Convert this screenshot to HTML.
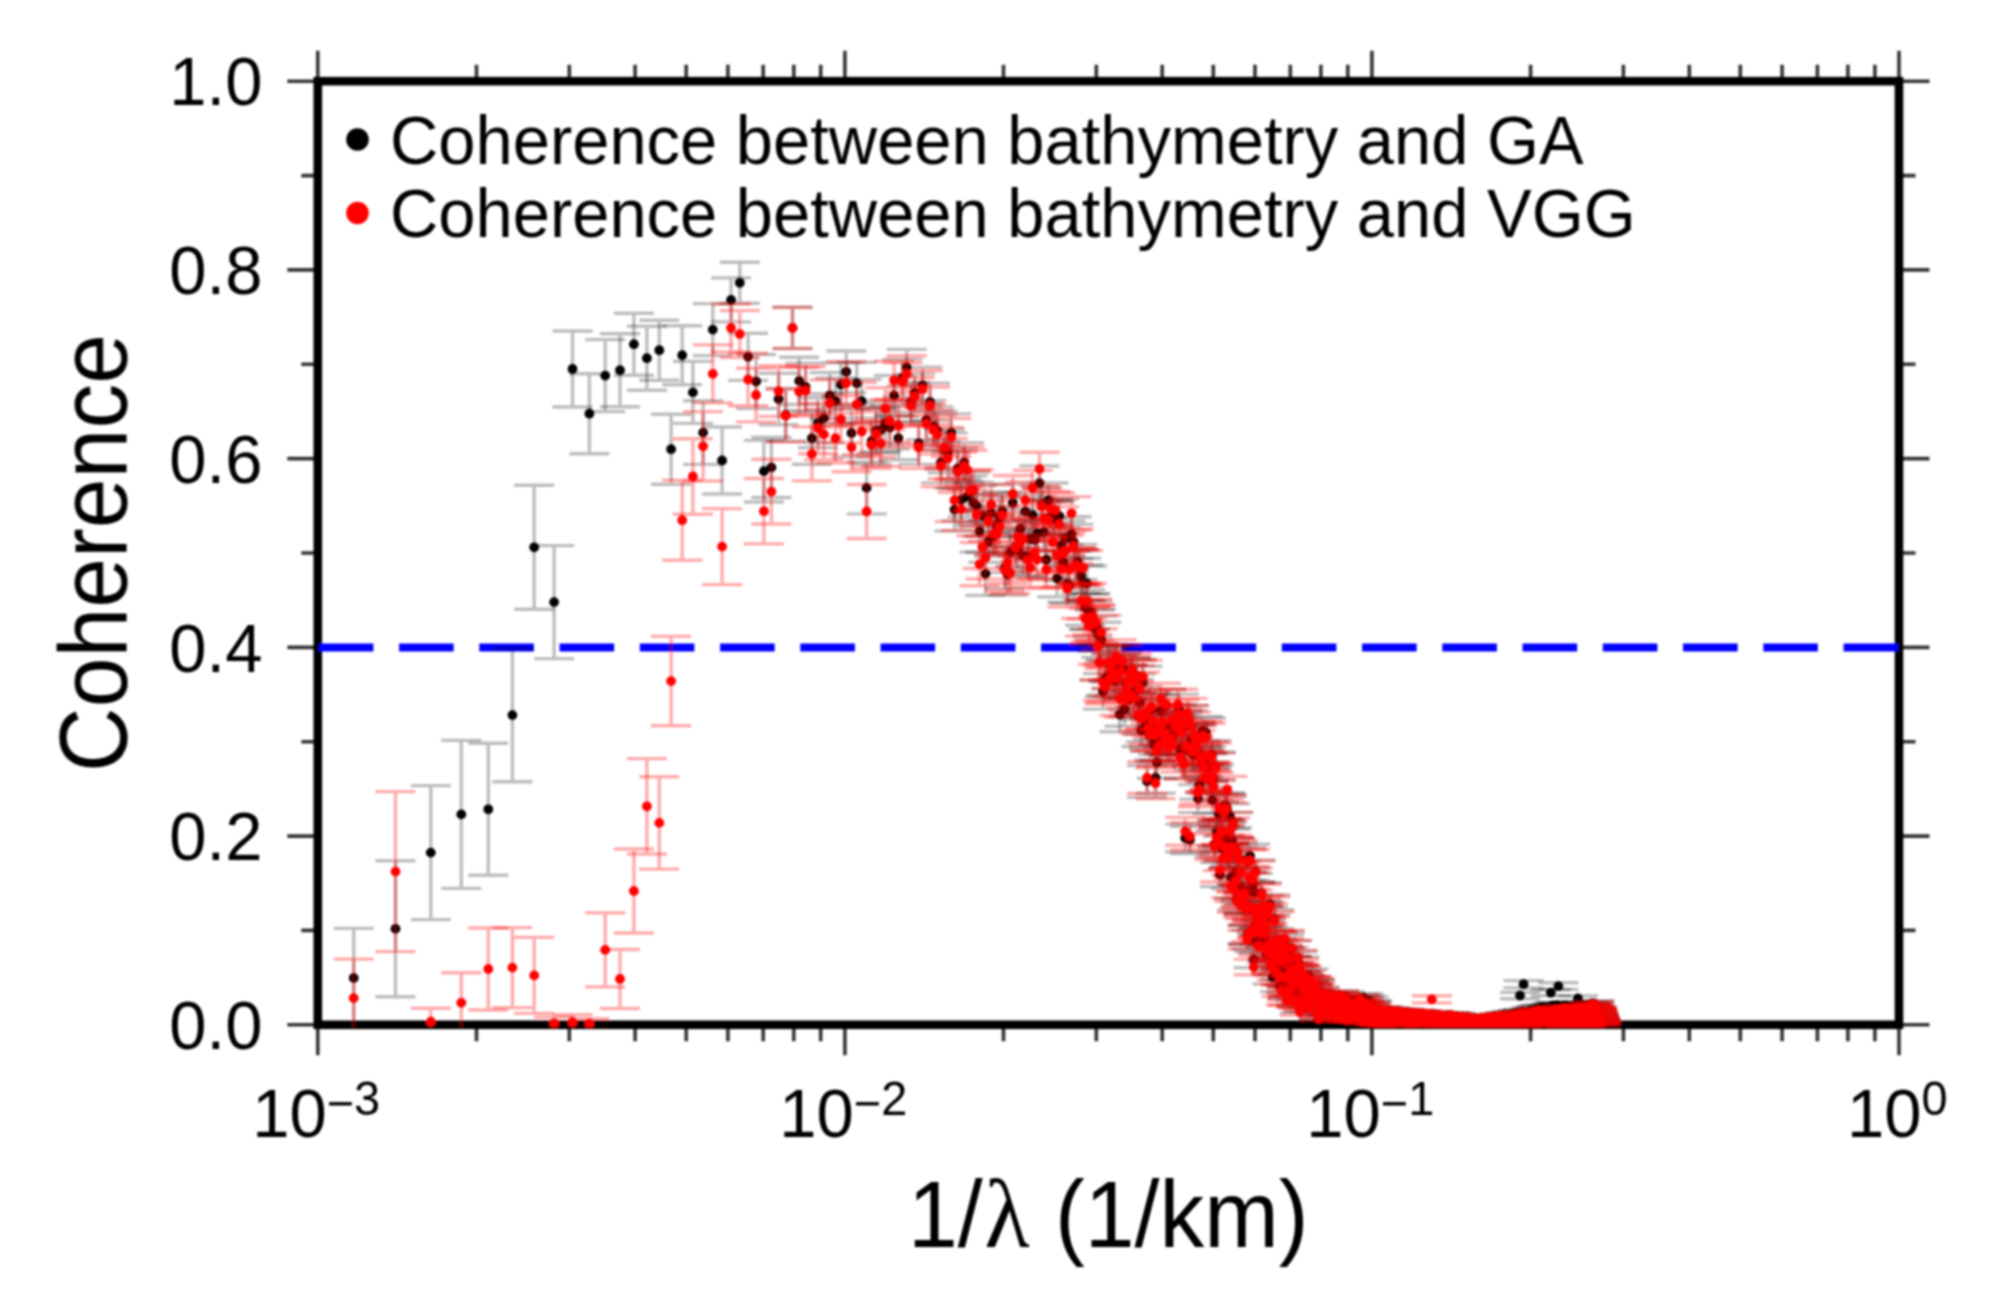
<!DOCTYPE html>
<html lang="en"><head><meta charset="utf-8"><title>Coherence between bathymetry and gravity</title>
<style>html,body{margin:0;padding:0;background:#fff}body{width:1990px;height:1294px;overflow:hidden}svg{display:block}</style>
</head><body>
<svg width="1990" height="1294" viewBox="0 0 1990 1294">
<defs><clipPath id="pc"><rect x="315.8" y="79.2" width="1585.2" height="948.2"/></clipPath><filter id="soft" x="0" y="0" width="100%" height="100%" filterUnits="userSpaceOnUse"><feGaussianBlur stdDeviation="1.1"/></filter></defs>
<rect width="1990" height="1294" fill="#fff"/>
<g filter="url(#soft)">
<path d="M317.8 1024.8v30.5M317.8 81.2v-30.5M476.5 1024.8v16.5M476.5 81.2v-16.5M569.3 1024.8v16.5M569.3 81.2v-16.5M635.1 1024.8v16.5M635.1 81.2v-16.5M686.2 1024.8v16.5M686.2 81.2v-16.5M727.9 1024.8v16.5M727.9 81.2v-16.5M763.2 1024.8v16.5M763.2 81.2v-16.5M793.8 1024.8v16.5M793.8 81.2v-16.5M820.7 1024.8v16.5M820.7 81.2v-16.5M844.9 1024.8v30.5M844.9 81.2v-30.5M1003.5 1024.8v16.5M1003.5 81.2v-16.5M1096.3 1024.8v16.5M1096.3 81.2v-16.5M1162.2 1024.8v16.5M1162.2 81.2v-16.5M1213.3 1024.8v16.5M1213.3 81.2v-16.5M1255 1024.8v16.5M1255 81.2v-16.5M1290.3 1024.8v16.5M1290.3 81.2v-16.5M1320.9 1024.8v16.5M1320.9 81.2v-16.5M1347.8 1024.8v16.5M1347.8 81.2v-16.5M1371.9 1024.8v30.5M1371.9 81.2v-30.5M1530.6 1024.8v16.5M1530.6 81.2v-16.5M1623.4 1024.8v16.5M1623.4 81.2v-16.5M1689.3 1024.8v16.5M1689.3 81.2v-16.5M1740.3 1024.8v16.5M1740.3 81.2v-16.5M1782.1 1024.8v16.5M1782.1 81.2v-16.5M1817.4 1024.8v16.5M1817.4 81.2v-16.5M1847.9 1024.8v16.5M1847.9 81.2v-16.5M1874.9 1024.8v16.5M1874.9 81.2v-16.5M1899 1024.8v30.5M1899 81.2v-30.5M317.8 1024.8h-30.5M1899 1024.8h30.5M317.8 930.4h-16.5M1899 930.4h16.5M317.8 836.1h-30.5M1899 836.1h30.5M317.8 741.7h-16.5M1899 741.7h16.5M317.8 647.4h-30.5M1899 647.4h30.5M317.8 553h-16.5M1899 553h16.5M317.8 458.6h-30.5M1899 458.6h30.5M317.8 364.3h-16.5M1899 364.3h16.5M317.8 269.9h-30.5M1899 269.9h30.5M317.8 175.6h-16.5M1899 175.6h16.5M317.8 81.2h-30.5M1899 81.2h30.5" fill="none" stroke="#000" stroke-opacity="0.8" stroke-width="3.6"/>
<rect x="317.8" y="81.2" width="1581.2" height="943.6" fill="none" stroke="#000" stroke-width="8.6"/>
<path d="M318.8 647.4H1898" fill="none" stroke="#0000ff" stroke-width="8" stroke-dasharray="54.6 25.65"/>
<g clip-path="url(#pc)" fill="none">
<g stroke="#000" stroke-opacity="0.26" stroke-width="3.4">
<path d="M395.5 860.8V996.8M375.5 860.8h40M375.5 996.8h40M554.1 545.6V658.6M534.1 545.6h40M534.1 658.6h40M646.9 326.2V390.2M626.9 326.2h40M626.9 390.2h40M712.8 303.6V355.6M692.8 303.6h40M692.8 355.6h40M763.9 440.4V502M743.9 440.4h40M743.9 502h40M805.6 363.3V410.6M785.6 363.3h40M785.6 410.6h40M840.9 362.8V406.3M820.9 362.8h40M820.9 406.3h40M871.5 418.1V464.2M851.5 418.1h40M851.5 464.2h40M898.4 416.6V459.8M878.4 416.6h40M878.4 459.8h40M922.5 367.2V403.7M902.5 367.2h40M902.5 403.7h40M944.4 429.2V469.2M924.4 429.2h40M924.4 469.2h40M964.3 442.8V482M944.3 442.8h40M944.3 482h40M982.6 495.5V536.3M962.6 495.5h40M962.6 536.3h40M999.6 497.5V536.9M979.6 497.5h40M979.6 536.9h40M1015.4 526.9V566.3M995.4 526.9h40M995.4 566.3h40M1030.1 520.1V557.9M1010.1 520.1h40M1010.1 557.9h40M1044 513.9V550.3M1024 513.9h40M1024 550.3h40M1057.1 559.8V596.9M1037.1 559.8h40M1037.1 596.9h40M1069.5 567.2V603.6M1049.5 567.2h40M1049.5 603.6h40M1081.2 558.2V593.3M1061.2 558.2h40M1061.2 593.3h40M1092.4 601.2V636.7M1072.4 601.2h40M1072.4 636.7h40M1103 673.5V709.1M1083 673.5h40M1083 709.1h40M1113.2 646.6V681.2M1093.2 646.6h40M1093.2 681.2h40M1122.9 651V684.9M1102.9 651h40M1102.9 684.9h40M1132.3 659.4V692.8M1112.3 659.4h40M1112.3 692.8h40M1141.3 713.8V746.5M1121.3 713.8h40M1121.3 746.5h40M1149.9 719.1V751.2M1129.9 719.1h40M1129.9 751.2h40M1158.2 722.8V754.3M1138.2 722.8h40M1138.2 754.3h40M1166.3 689.8V720.8M1146.3 689.8h40M1146.3 720.8h40M1174 717.6V748M1154 717.6h40M1154 748h40M1181.5 715.3V745.3M1161.5 715.3h40M1161.5 745.3h40M1188.8 705.5V735.1M1168.8 705.5h40M1168.8 735.1h40M1195.8 722.9V751.9M1175.8 722.9h40M1175.8 751.9h40M1202.7 716.5V745.2M1182.7 716.5h40M1182.7 745.2h40M1209.3 762.1V789.9M1189.3 762.1h40M1189.3 789.9h40M1215.7 752V779.5M1195.7 752h40M1195.7 779.5h40M1222 820.3V846M1202 820.3h40M1202 846h40M1228.1 842.9V867.5M1208.1 842.9h40M1208.1 867.5h40M1234.1 875.5V898.2M1214.1 875.5h40M1214.1 898.2h40M1239.9 879.5V901.7M1219.9 879.5h40M1219.9 901.7h40M1245.5 880.7V902.6M1225.5 880.7h40M1225.5 902.6h40M1251 930.4V948.8M1231 930.4h40M1231 948.8h40M1256.4 913.9V933.3M1236.4 913.9h40M1236.4 933.3h40M1261.7 882.8V903.9M1241.7 882.8h40M1241.7 903.9h40M1266.8 946.3V962.7M1246.8 946.3h40M1246.8 962.7h40M1271.9 942.2V958.8M1251.9 942.2h40M1251.9 958.8h40M1276.8 960.6V975.2M1256.8 960.6h40M1256.8 975.2h40M1281.6 961.4V975.8M1261.6 961.4h40M1261.6 975.8h40M1286.3 980.6V992.6M1266.3 980.6h40M1266.3 992.6h40M1290.9 956.3V970.9M1270.9 956.3h40M1270.9 970.9h40M1295.5 990.5V1000.9M1275.5 990.5h40M1275.5 1000.9h40M1299.9 1004.9V1012.6M1279.9 1004.9h40M1279.9 1012.6h40M1304.3 975.7V987.9M1284.3 975.7h40M1284.3 987.9h40M1308.6 969V981.9M1288.6 969h40M1288.6 981.9h40M1312.8 984.9V995.7M1292.8 984.9h40M1292.8 995.7h40M1316.9 993.3V1002.8M1296.9 993.3h40M1296.9 1002.8h40M1320.9 1003.7V1011.3M1300.9 1003.7h40M1300.9 1011.3h40M1324.9 994.1V1003.4M1304.9 994.1h40M1304.9 1003.4h40M1328.8 1002V1009.9M1308.8 1002h40M1308.8 1009.9h40M1332.7 995.4V1004.3M1312.7 995.4h40M1312.7 1004.3h40M1336.5 1017.9V1021.9M1316.5 1017.9h40M1316.5 1021.9h40M1340.2 1001.2V1009M1320.2 1001.2h40M1320.2 1009h40M1343.8 1003.7V1011M1323.8 1003.7h40M1323.8 1011h40M1347.4 1022.7V1024.6M1327.4 1022.7h40M1327.4 1024.6h40M1351 1003.2V1010.5M1331 1003.2h40M1331 1010.5h40M1354.5 1005V1011.9M1334.5 1005h40M1334.5 1011.9h40M1357.9 1008.7V1014.8M1337.9 1008.7h40M1337.9 1014.8h40M1361.3 1000.1V1007.8M1341.3 1000.1h40M1341.3 1007.8h40M1364.7 1007.4V1013.7M1344.7 1007.4h40M1344.7 1013.7h40M1368 1007.7V1013.9M1348 1007.7h40M1348 1013.9h40M1371.2 1001.2V1008.6M1351.2 1001.2h40M1351.2 1008.6h40M1374.4 1017.1V1021.1M1354.4 1017.1h40M1354.4 1021.1h40M1377.6 1023.5V1024.8M1357.6 1023.5h40M1357.6 1024.8h40M1380.7 1006.6V1012.9M1360.7 1006.6h40M1360.7 1012.9h40M1383.8 1023.2V1024.7M1363.8 1023.2h40M1363.8 1024.7h40M1386.8 1007.9V1013.9M1366.8 1007.9h40M1366.8 1013.9h40M1389.8 1008.2V1014.1M1369.8 1008.2h40M1369.8 1014.1h40M1392.7 1012.6V1017.5M1372.7 1012.6h40M1372.7 1017.5h40M1395.6 1023.7V1024.8M1375.6 1023.7h40M1375.6 1024.8h40M1398.5 1019.4V1022.5M1378.5 1019.4h40M1378.5 1022.5h40M1401.4 1012.2V1017.1M1381.4 1012.2h40M1381.4 1017.1h40M1404.2 1011.8V1016.8M1384.2 1011.8h40M1384.2 1016.8h40M1407 1014.3V1018.7M1387 1014.3h40M1387 1018.7h40M1409.7 1023V1024.5M1389.7 1023h40M1389.7 1024.5h40M1412.4 1010.3V1015.5M1392.4 1010.3h40M1392.4 1015.5h40M1415.1 1016.1V1020M1395.1 1016.1h40M1395.1 1020h40M1417.7 1023.8V1024.9M1397.7 1023.8h40M1397.7 1024.9h40M1420.3 1023V1024.5M1400.3 1023h40M1400.3 1024.5h40M1422.9 1017.3V1020.9M1402.9 1017.3h40M1402.9 1020.9h40M1425.5 1013.6V1018M1405.5 1013.6h40M1405.5 1018h40M1428 1015.1V1019.2M1408 1015.1h40M1408 1019.2h40M1430.5 1015.5V1019.5M1410.5 1015.5h40M1410.5 1019.5h40M1433 1019V1022M1413 1019h40M1413 1022h40M1435.4 1016.8V1020.4M1415.4 1016.8h40M1415.4 1020.4h40M1437.9 1017.5V1020.9M1417.9 1017.5h40M1417.9 1020.9h40M1440.3 1018.4V1021.5M1420.3 1018.4h40M1420.3 1021.5h40M1442.6 1017.8V1021.1M1422.6 1017.8h40M1422.6 1021.1h40M1445 1013.9V1018.1M1425 1013.9h40M1425 1018.1h40M1447.3 1016.7V1020.2M1427.3 1016.7h40M1427.3 1020.2h40M1449.6 1014.1V1018.2M1429.6 1014.1h40M1429.6 1018.2h40M1451.9 1014.4V1018.4M1431.9 1014.4h40M1431.9 1018.4h40M1454.1 1023.9V1024.8M1434.1 1023.9h40M1434.1 1024.8h40M1456.4 1015.4V1019.2M1436.4 1015.4h40M1436.4 1019.2h40M1458.6 1020.5V1022.9M1438.6 1020.5h40M1438.6 1022.9h40M1460.8 1015.6V1019.3M1440.8 1015.6h40M1440.8 1019.3h40M1462.9 1021.8V1023.7M1442.9 1021.8h40M1442.9 1023.7h40M1465.1 1021V1023.2M1445.1 1021h40M1445.1 1023.2h40M1467.2 1021.3V1023.4M1447.2 1021.3h40M1447.2 1023.4h40M1469.3 1024.3V1024.9M1449.3 1024.3h40M1449.3 1024.9h40M1471.4 1023.9V1024.8M1451.4 1023.9h40M1451.4 1024.8h40M1473.5 1020.9V1023.1M1453.5 1020.9h40M1453.5 1023.1h40M1475.5 1018.1V1021.2M1455.5 1018.1h40M1455.5 1021.2h40M1477.6 1019.6V1022.2M1457.6 1019.6h40M1457.6 1022.2h40M1479.6 1017.8V1020.9M1459.6 1017.8h40M1459.6 1020.9h40M1481.6 1024.2V1024.9M1461.6 1024.2h40M1461.6 1024.9h40M1483.6 1024.2V1024.9M1463.6 1024.2h40M1463.6 1024.9h40M1485.5 1018.8V1021.6M1465.5 1018.8h40M1465.5 1021.6h40M1487.5 1018.4V1021.3M1467.5 1018.4h40M1467.5 1021.3h40M1489.4 1024V1024.8M1469.4 1024h40M1469.4 1024.8h40M1491.3 1022V1023.8M1471.3 1022h40M1471.3 1023.8h40M1493.2 1021.9V1023.7M1473.2 1021.9h40M1473.2 1023.7h40M1495.1 1016.8V1020M1475.1 1016.8h40M1475.1 1020h40M1497 1024.1V1024.8M1477 1024.1h40M1477 1024.8h40M1498.8 1018.1V1021M1478.8 1018.1h40M1478.8 1021h40M1500.7 1018.7V1021.5M1480.7 1018.7h40M1480.7 1021.5h40M1502.5 1021.3V1023.3M1482.5 1021.3h40M1482.5 1023.3h40M1504.3 1021.4V1023.3M1484.3 1021.4h40M1484.3 1023.3h40M1506.1 1016.3V1019.6M1486.1 1016.3h40M1486.1 1019.6h40M1507.9 1012.8V1016.7M1487.9 1012.8h40M1487.9 1016.7h40M1509.7 1017.6V1020.6M1489.7 1017.6h40M1489.7 1020.6h40M1511.4 1019.1V1021.7M1491.4 1019.1h40M1491.4 1021.7h40M1513.2 1023.7V1024.6M1493.2 1023.7h40M1493.2 1024.6h40M1514.9 1014.8V1018.3M1494.9 1014.8h40M1494.9 1018.3h40M1516.6 1010.9V1015.1M1496.6 1010.9h40M1496.6 1015.1h40M1518.3 1018.9V1021.5M1498.3 1018.9h40M1498.3 1021.5h40M1520 992.4V998.7M1500 992.4h40M1500 998.7h40M1521.7 1015.5V1018.8M1501.7 1015.5h40M1501.7 1018.8h40M1523.3 1019.3V1021.7M1503.3 1019.3h40M1503.3 1021.7h40M1525 1022.4V1023.9M1505 1022.4h40M1505 1023.9h40M1526.6 1014.8V1018.2M1506.6 1014.8h40M1506.6 1018.2h40M1528.3 1011.8V1015.7M1508.3 1011.8h40M1508.3 1015.7h40M1529.9 1012.9V1016.7M1509.9 1012.9h40M1509.9 1016.7h40M1531.5 1022.3V1023.9M1511.5 1022.3h40M1511.5 1023.9h40M1533.1 1010.9V1014.9M1513.1 1010.9h40M1513.1 1014.9h40M1534.7 1012.3V1016.1M1514.7 1012.3h40M1514.7 1016.1h40M1536.2 1016.1V1019.2M1516.2 1016.1h40M1516.2 1019.2h40M1537.8 1023.7V1024.6M1517.8 1023.7h40M1517.8 1024.6h40M1539.3 1016.8V1019.7M1519.3 1016.8h40M1519.3 1019.7h40M1540.9 1016.1V1019.2M1520.9 1016.1h40M1520.9 1019.2h40M1542.4 1023.6V1024.6M1522.4 1023.6h40M1522.4 1024.6h40M1543.9 1015.2V1018.5M1523.9 1015.2h40M1523.9 1018.5h40M1545.4 1019.8V1022M1525.4 1019.8h40M1525.4 1022h40M1547 1008.9V1013.1M1527 1008.9h40M1527 1013.1h40M1548.4 1017.5V1020.2M1528.4 1017.5h40M1528.4 1020.2h40M1549.9 1017.6V1020.3M1529.9 1017.6h40M1529.9 1020.3h40M1551.4 1017.4V1020.2M1531.4 1017.4h40M1531.4 1020.2h40M1552.9 1021.4V1023.2M1532.9 1021.4h40M1532.9 1023.2h40M1554.3 1018.4V1021M1534.3 1018.4h40M1534.3 1021h40M1555.8 1008.9V1013M1535.8 1008.9h40M1535.8 1013h40M1557.2 1023.5V1024.5M1537.2 1023.5h40M1537.2 1024.5h40M1558.6 1019.1V1021.5M1538.6 1019.1h40M1538.6 1021.5h40M1560 1017.3V1020.1M1540 1017.3h40M1540 1020.1h40M1561.4 1016.2V1019.1M1541.4 1016.2h40M1541.4 1019.1h40M1562.8 1005.1V1009.6M1542.8 1005.1h40M1542.8 1009.6h40M1564.2 1008.1V1012.3M1544.2 1008.1h40M1544.2 1012.3h40M1565.6 1007.7V1011.9M1545.6 1007.7h40M1545.6 1011.9h40M1567 1014.6V1017.8M1547 1014.6h40M1547 1017.8h40M1568.4 1014.8V1018M1548.4 1014.8h40M1548.4 1018h40M1569.7 1023.5V1024.5M1549.7 1023.5h40M1549.7 1024.5h40M1571.1 1015V1018.1M1551.1 1015h40M1551.1 1018.1h40M1572.4 1014V1017.2M1552.4 1014h40M1552.4 1017.2h40M1573.7 1005.3V1009.7M1553.7 1005.3h40M1553.7 1009.7h40M1575.1 1016.4V1019.2M1555.1 1016.4h40M1555.1 1019.2h40M1576.4 1023.6V1024.5M1556.4 1023.6h40M1556.4 1024.5h40M1577.7 1009.6V1013.4M1557.7 1009.6h40M1557.7 1013.4h40M1579 1007.4V1011.5M1559 1007.4h40M1559 1011.5h40M1580.3 1021.6V1023.3M1560.3 1021.6h40M1560.3 1023.3h40M1581.6 1003.3V1007.9M1561.6 1003.3h40M1561.6 1007.9h40M1582.9 1014.1V1017.3M1562.9 1014.1h40M1562.9 1017.3h40M1584.2 1018.1V1020.5M1564.2 1018.1h40M1564.2 1020.5h40M1585.4 1020.7V1022.6M1565.4 1020.7h40M1565.4 1022.6h40M1586.7 1014.5V1017.6M1566.7 1014.5h40M1566.7 1017.6h40M1587.9 1013.2V1016.5M1567.9 1013.2h40M1567.9 1016.5h40M1589.2 1010.3V1014M1569.2 1010.3h40M1569.2 1014h40M1590.4 1006.2V1010.3M1570.4 1006.2h40M1570.4 1010.3h40M1591.7 1014.1V1017.2M1571.7 1014.1h40M1571.7 1017.2h40M1592.9 1023.4V1024.4M1572.9 1023.4h40M1572.9 1024.4h40M1594.1 1012.2V1015.5M1574.1 1012.2h40M1574.1 1015.5h40M1595.3 1019.2V1021.4M1575.3 1019.2h40M1575.3 1021.4h40M1596.5 1023.7V1024.5M1576.5 1023.7h40M1576.5 1024.5h40M1597.7 1020.7V1022.5M1577.7 1020.7h40M1577.7 1022.5h40M1598.9 1015.5V1018.4M1578.9 1015.5h40M1578.9 1018.4h40M1600.1 1018.4V1020.7M1580.1 1018.4h40M1580.1 1020.7h40"/>
<path d="M430.8 785.6V919.6M410.8 785.6h40M410.8 919.6h40M572.5 331V407M552.5 331h40M552.5 407h40M659.3 320.2V380.2M639.3 320.2h40M639.3 380.2h40M722.1 427V494M702.1 427h40M702.1 494h40M771.4 437.3V497.5M751.4 437.3h40M751.4 497.5h40M811.9 412.1V464.3M791.9 412.1h40M791.9 464.3h40M846.3 351V392.6M826.3 351h40M826.3 392.6h40M876.2 408.3V453M856.2 408.3h40M856.2 453h40M902.6 359.3V396.7M882.6 359.3h40M882.6 396.7h40M926.3 400.5V439.6M906.3 400.5h40M906.3 439.6h40M947.8 433V472.9M927.8 433h40M927.8 472.9h40M967.4 475.9V517M947.4 475.9h40M947.4 517h40M985.5 552.2V595.4M965.5 552.2h40M965.5 595.4h40M1002.3 492V530.9M982.3 492h40M982.3 530.9h40M1017.9 530.3V569.6M997.9 530.3h40M997.9 569.6h40M1032.5 496.8V533.3M1012.5 496.8h40M1012.5 533.3h40M1046.2 541V578.4M1026.2 541h40M1026.2 578.4h40M1059.2 498.9V533.4M1039.2 498.9h40M1039.2 533.4h40M1071.5 516.7V551M1051.5 516.7h40M1051.5 551h40M1083.1 565V600.3M1063.1 565h40M1063.1 600.3h40M1094.2 610V645.5M1074.2 610h40M1074.2 645.5h40M1104.7 661.6V697M1084.7 661.6h40M1084.7 697h40M1114.8 663.1V697.8M1094.8 663.1h40M1094.8 697.8h40M1124.5 692.2V726.2M1104.5 692.2h40M1104.5 726.2h40M1133.8 679.6V712.9M1113.8 679.6h40M1113.8 712.9h40M1142.7 666.2V698.9M1122.7 666.2h40M1122.7 698.9h40M1151.3 693.7V725.8M1131.3 693.7h40M1131.3 725.8h40M1159.6 728.9V760.2M1139.6 728.9h40M1139.6 760.2h40M1167.6 729.2V760M1147.6 729.2h40M1147.6 760h40M1175.3 715.5V745.9M1155.3 715.5h40M1155.3 745.9h40M1182.7 711.7V741.7M1162.7 711.7h40M1162.7 741.7h40M1190 826.2V853.5M1170 826.2h40M1170 853.5h40M1197 723.3V752.3M1177 723.3h40M1177 752.3h40M1203.8 749.5V777.8M1183.8 749.5h40M1183.8 777.8h40M1210.4 766.7V794.3M1190.4 766.7h40M1190.4 794.3h40M1216.8 819.6V845.6M1196.8 819.6h40M1196.8 845.6h40M1223 836.2V861.2M1203 836.2h40M1203 861.2h40M1229.1 843.9V868.3M1209.1 843.9h40M1209.1 868.3h40M1235 837.8V862.1M1215 837.8h40M1215 862.1h40M1240.8 876.5V898.8M1220.8 876.5h40M1220.8 898.8h40M1246.4 847.9V871.3M1226.4 847.9h40M1226.4 871.3h40M1251.9 899.1V919.7M1231.9 899.1h40M1231.9 919.7h40M1257.3 909.1V928.8M1237.3 909.1h40M1237.3 928.8h40M1262.5 916.5V935.5M1242.5 916.5h40M1242.5 935.5h40M1267.7 906.9V926.3M1247.7 906.9h40M1247.7 926.3h40M1272.7 970.4V984M1252.7 970.4h40M1252.7 984h40M1277.6 931.5V948.8M1257.6 931.5h40M1257.6 948.8h40M1282.4 945.3V961.2M1262.4 945.3h40M1262.4 961.2h40M1287.1 986.6V997.7M1267.1 986.6h40M1267.1 997.7h40M1291.7 940.4V956.4M1271.7 940.4h40M1271.7 956.4h40M1296.2 995.2V1004.8M1276.2 995.2h40M1276.2 1004.8h40M1300.7 983.2V994.5M1280.7 983.2h40M1280.7 994.5h40M1305 982.6V993.8M1285 982.6h40M1285 993.8h40M1309.3 998.4V1007.2M1289.3 998.4h40M1289.3 1007.2h40M1313.5 989.2V999.4M1293.5 989.2h40M1293.5 999.4h40M1317.6 991V1000.8M1297.6 991h40M1297.6 1000.8h40M1321.6 1006.2V1013.3M1301.6 1006.2h40M1301.6 1013.3h40M1325.6 1002.1V1010M1305.6 1002.1h40M1305.6 1010h40M1329.5 1006.2V1013.2M1309.5 1006.2h40M1309.5 1013.2h40M1333.3 996.9V1005.6M1313.3 996.9h40M1313.3 1005.6h40M1337.1 1011.7V1017.5M1317.1 1011.7h40M1317.1 1017.5h40M1340.8 1018.9V1022.5M1320.8 1018.9h40M1320.8 1022.5h40M1344.4 1011.6V1017.3M1324.4 1011.6h40M1324.4 1017.3h40M1348 1000.6V1008.4M1328 1000.6h40M1328 1008.4h40M1351.6 1008.1V1014.4M1331.6 1008.1h40M1331.6 1014.4h40M1355.1 1002.7V1010M1335.1 1002.7h40M1335.1 1010h40M1358.5 1004.1V1011.2M1338.5 1004.1h40M1338.5 1011.2h40M1361.9 1004.6V1011.5M1341.9 1004.6h40M1341.9 1011.5h40M1365.2 1009.2V1015.2M1345.2 1009.2h40M1345.2 1015.2h40M1368.5 996.8V1004.9M1348.5 996.8h40M1348.5 1004.9h40M1371.7 1008V1014.1M1351.7 1008h40M1351.7 1014.1h40M1374.9 1023.4V1024.8M1354.9 1023.4h40M1354.9 1024.8h40M1378.1 1017.2V1021.1M1358.1 1017.2h40M1358.1 1021.1h40M1381.2 1023.1V1024.7M1361.2 1023.1h40M1361.2 1024.7h40M1384.3 1014.2V1018.8M1364.3 1014.2h40M1364.3 1018.8h40M1387.3 1019.4V1022.6M1367.3 1019.4h40M1367.3 1022.6h40M1390.3 1020V1022.9M1370.3 1020h40M1370.3 1022.9h40M1393.2 1016.2V1020.3M1373.2 1016.2h40M1373.2 1020.3h40M1396.1 1013.4V1018.1M1376.1 1013.4h40M1376.1 1018.1h40M1399 1009.6V1015.1M1379 1009.6h40M1379 1015.1h40M1401.8 1019.5V1022.6M1381.8 1019.5h40M1381.8 1022.6h40M1404.6 1016.4V1020.3M1384.6 1016.4h40M1384.6 1020.3h40M1407.4 1018.8V1022M1387.4 1018.8h40M1387.4 1022h40M1410.1 1017.1V1020.8M1390.1 1017.1h40M1390.1 1020.8h40M1412.9 1015.5V1019.6M1392.9 1015.5h40M1392.9 1019.6h40M1415.5 1010.7V1015.8M1395.5 1010.7h40M1395.5 1015.8h40M1418.2 1016.8V1020.5M1398.2 1016.8h40M1398.2 1020.5h40M1420.8 1011.5V1016.4M1400.8 1011.5h40M1400.8 1016.4h40M1423.4 1012.6V1017.3M1403.4 1012.6h40M1403.4 1017.3h40M1425.9 1023.9V1024.9M1405.9 1023.9h40M1405.9 1024.9h40M1428.4 1023.9V1024.9M1408.4 1023.9h40M1408.4 1024.9h40M1430.9 1016.7V1020.3M1410.9 1016.7h40M1410.9 1020.3h40M1433.4 1017.8V1021.2M1413.4 1017.8h40M1413.4 1021.2h40M1435.8 1023.9V1024.9M1415.8 1023.9h40M1415.8 1024.9h40M1438.3 1016.5V1020.2M1418.3 1016.5h40M1418.3 1020.2h40M1440.7 1019.7V1022.5M1420.7 1019.7h40M1420.7 1022.5h40M1443 1020.4V1022.9M1423 1020.4h40M1423 1022.9h40M1445.4 1023.3V1024.6M1425.4 1023.3h40M1425.4 1024.6h40M1447.7 1018.6V1021.7M1427.7 1018.6h40M1427.7 1021.7h40M1450 1022.7V1024.3M1430 1022.7h40M1430 1024.3h40M1452.3 1019.1V1022M1432.3 1019.1h40M1432.3 1022h40M1454.5 1021V1023.3M1434.5 1021h40M1434.5 1023.3h40M1456.7 1020.7V1023.1M1436.7 1020.7h40M1436.7 1023.1h40M1458.9 1024.1V1024.9M1438.9 1024.1h40M1438.9 1024.9h40M1461.1 1016.3V1019.8M1441.1 1016.3h40M1441.1 1019.8h40M1463.3 1022.5V1024.2M1443.3 1022.5h40M1443.3 1024.2h40M1465.4 1019.4V1022.1M1445.4 1019.4h40M1445.4 1022.1h40M1467.6 1018V1021.1M1447.6 1018h40M1447.6 1021.1h40M1469.7 1021.5V1023.5M1449.7 1021.5h40M1449.7 1023.5h40M1471.8 1023.6V1024.7M1451.8 1023.6h40M1451.8 1024.7h40M1473.8 1024.2V1024.9M1453.8 1024.2h40M1453.8 1024.9h40M1475.9 1022V1023.8M1455.9 1022h40M1455.9 1023.8h40M1477.9 1018.9V1021.7M1457.9 1018.9h40M1457.9 1021.7h40M1479.9 1018.3V1021.2M1459.9 1018.3h40M1459.9 1021.2h40M1481.9 1022.1V1023.9M1461.9 1022.1h40M1461.9 1023.9h40M1483.9 1021.3V1023.4M1463.9 1021.3h40M1463.9 1023.4h40M1485.9 1022.2V1023.9M1465.9 1022.2h40M1465.9 1023.9h40M1487.8 1017.9V1020.9M1467.8 1017.9h40M1467.8 1020.9h40M1489.7 1024.1V1024.8M1469.7 1024.1h40M1469.7 1024.8h40M1491.7 1016.1V1019.5M1471.7 1016.1h40M1471.7 1019.5h40M1493.6 1022.7V1024.2M1473.6 1022.7h40M1473.6 1024.2h40M1495.4 1014.6V1018.3M1475.4 1014.6h40M1475.4 1018.3h40M1497.3 1021.7V1023.6M1477.3 1021.7h40M1477.3 1023.6h40M1499.2 1014.1V1017.8M1479.2 1014.1h40M1479.2 1017.8h40M1501 1015.1V1018.7M1481 1015.1h40M1481 1018.7h40M1502.8 1016.4V1019.6M1482.8 1016.4h40M1482.8 1019.6h40M1504.6 1024V1024.8M1484.6 1024h40M1484.6 1024.8h40M1506.4 1019.3V1021.9M1486.4 1019.3h40M1486.4 1021.9h40M1508.2 1021.1V1023.2M1488.2 1021.1h40M1488.2 1023.2h40M1510 1018.4V1021.2M1490 1018.4h40M1490 1021.2h40M1511.7 1014.1V1017.8M1491.7 1014.1h40M1491.7 1017.8h40M1513.4 1020.4V1022.6M1493.4 1020.4h40M1493.4 1022.6h40M1515.2 1016.4V1019.5M1495.2 1016.4h40M1495.2 1019.5h40M1516.9 1021.4V1023.3M1496.9 1021.4h40M1496.9 1023.3h40M1518.6 1010.6V1014.7M1498.6 1010.6h40M1498.6 1014.7h40M1520.3 1015.1V1018.5M1500.3 1015.1h40M1500.3 1018.5h40M1521.9 1009.9V1014.2M1501.9 1009.9h40M1501.9 1014.2h40M1523.6 980.6V987.9M1503.6 980.6h40M1503.6 987.9h40M1525.3 1019V1021.6M1505.3 1019h40M1505.3 1021.6h40M1526.9 1011V1015.1M1506.9 1011h40M1506.9 1015.1h40M1528.5 1015.9V1019.1M1508.5 1015.9h40M1508.5 1019.1h40M1530.1 1014.5V1018M1510.1 1014.5h40M1510.1 1018h40M1531.7 1015V1018.4M1511.7 1015h40M1511.7 1018.4h40M1533.3 1018.4V1021M1513.3 1018.4h40M1513.3 1021h40M1534.9 1009.7V1013.9M1514.9 1009.7h40M1514.9 1013.9h40M1536.5 1010.2V1014.3M1516.5 1010.2h40M1516.5 1014.3h40M1538.1 1009.4V1013.6M1518.1 1009.4h40M1518.1 1013.6h40M1539.6 1010V1014.1M1519.6 1010h40M1519.6 1014.1h40M1541.1 1015.2V1018.4M1521.1 1015.2h40M1521.1 1018.4h40M1542.7 1008.3V1012.6M1522.7 1008.3h40M1522.7 1012.6h40M1544.2 1014V1017.5M1524.2 1014h40M1524.2 1017.5h40M1545.7 1017V1019.8M1525.7 1017h40M1525.7 1019.8h40M1547.2 1013.9V1017.3M1527.2 1013.9h40M1527.2 1017.3h40M1548.7 1018.4V1021M1528.7 1018.4h40M1528.7 1021h40M1550.2 1020.8V1022.8M1530.2 1020.8h40M1530.2 1022.8h40M1551.6 1010.6V1014.5M1531.6 1010.6h40M1531.6 1014.5h40M1553.1 1020.5V1022.6M1533.1 1020.5h40M1533.1 1022.6h40M1554.6 1010.2V1014.2M1534.6 1010.2h40M1534.6 1014.2h40M1556 1019V1021.4M1536 1019h40M1536 1021.4h40M1557.4 1014.1V1017.4M1537.4 1014.1h40M1537.4 1017.4h40M1558.9 1013.1V1016.6M1538.9 1013.1h40M1538.9 1016.6h40M1560.3 1004.8V1009.4M1540.3 1004.8h40M1540.3 1009.4h40M1561.7 1014.3V1017.6M1541.7 1014.3h40M1541.7 1017.6h40M1563.1 1008V1012.2M1543.1 1008h40M1543.1 1012.2h40M1564.5 1005.3V1009.8M1544.5 1005.3h40M1544.5 1009.8h40M1565.8 1020V1022.1M1545.8 1020h40M1545.8 1022.1h40M1567.2 1012.1V1015.7M1547.2 1012.1h40M1547.2 1015.7h40M1568.6 1014.6V1017.8M1548.6 1014.6h40M1548.6 1017.8h40M1569.9 1005.3V1009.7M1549.9 1005.3h40M1549.9 1009.7h40M1571.3 1012.2V1015.8M1551.3 1012.2h40M1551.3 1015.8h40M1572.6 1018V1020.5M1552.6 1018h40M1552.6 1020.5h40M1574 1023.5V1024.5M1554 1023.5h40M1554 1024.5h40M1575.3 1020.6V1022.5M1555.3 1020.6h40M1555.3 1022.5h40M1576.6 1006.5V1010.8M1556.6 1006.5h40M1556.6 1010.8h40M1577.9 995.7V1001.1M1557.9 995.7h40M1557.9 1001.1h40M1579.2 1021V1022.8M1559.2 1021h40M1559.2 1022.8h40M1580.5 1006.2V1010.5M1560.5 1006.2h40M1560.5 1010.5h40M1581.8 1009.1V1012.9M1561.8 1009.1h40M1561.8 1012.9h40M1583.1 1013.2V1016.5M1563.1 1013.2h40M1563.1 1016.5h40M1584.4 1003.3V1007.9M1564.4 1003.3h40M1564.4 1007.9h40M1585.6 1020.1V1022.1M1565.6 1020.1h40M1565.6 1022.1h40M1586.9 1006.1V1010.3M1566.9 1006.1h40M1566.9 1010.3h40M1588.1 1007.2V1011.3M1568.1 1007.2h40M1568.1 1011.3h40M1589.4 1018.1V1020.5M1569.4 1018.1h40M1569.4 1020.5h40M1590.6 1002.9V1007.4M1570.6 1002.9h40M1570.6 1007.4h40M1591.9 1009.1V1012.9M1571.9 1009.1h40M1571.9 1012.9h40M1593.1 1012.9V1016.1M1573.1 1012.9h40M1573.1 1016.1h40M1594.3 1023.4V1024.4M1574.3 1023.4h40M1574.3 1024.4h40M1595.5 1009.9V1013.6M1575.5 1009.9h40M1575.5 1013.6h40M1596.7 1010.6V1014.1M1576.7 1010.6h40M1576.7 1014.1h40M1597.9 1014.4V1017.4M1577.9 1014.4h40M1577.9 1017.4h40M1599.1 1017.8V1020.2M1579.1 1017.8h40M1579.1 1020.2h40M1600.3 1019V1021.2M1580.3 1019h40M1580.3 1021.2h40"/>
<path d="M461.3 740.4V888.4M441.3 740.4h40M441.3 888.4h40M589.4 373.7V453.7M569.4 373.7h40M569.4 453.7h40M671.1 414.2V484.2M651.1 414.2h40M651.1 484.2h40M731.1 277.9V321.9M711.1 277.9h40M711.1 321.9h40M778.6 373.2V424.8M758.6 373.2h40M758.6 424.8h40M818 397.8V447.8M798 397.8h40M798 447.8h40M851.5 409.3V456.7M831.5 409.3h40M831.5 456.7h40M880.8 407.9V452M860.8 407.9h40M860.8 452h40M906.7 349.4V385.4M886.7 349.4h40M886.7 385.4h40M930 383.3V420.7M910 383.3h40M910 420.7h40M951.2 413.9V452M931.2 413.9h40M931.2 452h40M970.5 472V512.5M950.5 472h40M950.5 512.5h40M988.4 520.7V562.3M968.4 520.7h40M968.4 562.3h40M1004.9 547.2V588.4M984.9 547.2h40M984.9 588.4h40M1020.4 509.5V547.7M1000.4 509.5h40M1000.4 547.7h40M1034.8 520.9V558.4M1014.8 520.9h40M1014.8 558.4h40M1048.4 483V517.6M1028.4 483h40M1028.4 517.6h40M1061.3 527.5V563.1M1041.3 527.5h40M1041.3 563.1h40M1073.4 524.4V558.9M1053.4 524.4h40M1053.4 558.9h40M1085 589.5V625.3M1065 589.5h40M1065 625.3h40M1096 608.9V644.2M1076 608.9h40M1076 644.2h40M1106.5 659.7V695M1086.5 659.7h40M1086.5 695h40M1116.5 645V679.3M1096.5 645h40M1096.5 679.3h40M1126.1 665.8V699.6M1106.1 665.8h40M1106.1 699.6h40M1135.3 674V707.2M1115.3 674h40M1115.3 707.2h40M1144.2 701.8V734.4M1124.2 701.8h40M1124.2 734.4h40M1152.7 707.6V739.6M1132.7 707.6h40M1132.7 739.6h40M1160.9 694.9V726.3M1140.9 694.9h40M1140.9 726.3h40M1168.9 724.3V755.1M1148.9 724.3h40M1148.9 755.1h40M1176.5 714.1V744.4M1156.5 714.1h40M1156.5 744.4h40M1184 748.8V778.3M1164 748.8h40M1164 778.3h40M1191.2 725.1V754.5M1171.2 725.1h40M1171.2 754.5h40M1198.1 784.6V812.6M1178.1 784.6h40M1178.1 812.6h40M1204.9 764.8V792.8M1184.9 764.8h40M1184.9 792.8h40M1211.5 740.8V768.7M1191.5 740.8h40M1191.5 768.7h40M1217.9 821.8V847.6M1197.9 821.8h40M1197.9 847.6h40M1224.1 793.1V819.4M1204.1 793.1h40M1204.1 819.4h40M1230.1 803.6V829.3M1210.1 803.6h40M1210.1 829.3h40M1236 861.1V884.4M1216 861.1h40M1216 884.4h40M1241.8 883.6V905.5M1221.8 883.6h40M1221.8 905.5h40M1247.4 925V943.9M1227.4 925h40M1227.4 943.9h40M1252.8 873.3V895.2M1232.8 873.3h40M1232.8 895.2h40M1258.2 935V952.7M1238.2 935h40M1238.2 952.7h40M1263.4 906.4V926M1243.4 906.4h40M1243.4 926h40M1268.5 936.6V953.7M1248.5 936.6h40M1248.5 953.7h40M1273.5 946.4V962.5M1253.5 946.4h40M1253.5 962.5h40M1278.4 950.7V966.3M1258.4 950.7h40M1258.4 966.3h40M1283.2 954.6V969.7M1263.2 954.6h40M1263.2 969.7h40M1287.9 986.9V998M1267.9 986.9h40M1267.9 998h40M1292.5 965.2V978.9M1272.5 965.2h40M1272.5 978.9h40M1297 998.3V1007.3M1277 998.3h40M1277 1007.3h40M1301.4 971.1V983.9M1281.4 971.1h40M1281.4 983.9h40M1305.7 975.5V987.6M1285.7 975.5h40M1285.7 987.6h40M1310 992.5V1002.3M1290 992.5h40M1290 1002.3h40M1314.1 980.1V991.5M1294.1 980.1h40M1294.1 991.5h40M1318.2 1016.1V1020.8M1298.2 1016.1h40M1298.2 1020.8h40M1322.3 1002.8V1010.6M1302.3 1002.8h40M1302.3 1010.6h40M1326.2 993.4V1002.7M1306.2 993.4h40M1306.2 1002.7h40M1330.1 997.5V1006.1M1310.1 997.5h40M1310.1 1006.1h40M1333.9 997.1V1005.7M1313.9 997.1h40M1313.9 1005.7h40M1337.7 1001.4V1009.2M1317.7 1001.4h40M1317.7 1009.2h40M1341.4 1008.8V1015.1M1321.4 1008.8h40M1321.4 1015.1h40M1345.1 991.9V1001.1M1325.1 991.9h40M1325.1 1001.1h40M1348.6 1006.5V1013.2M1328.6 1006.5h40M1328.6 1013.2h40M1352.2 999.4V1007.3M1332.2 999.4h40M1332.2 1007.3h40M1355.6 1000.3V1008M1335.6 1000.3h40M1335.6 1008h40M1359.1 1005.6V1012.4M1339.1 1005.6h40M1339.1 1012.4h40M1362.4 1011.2V1016.8M1342.4 1011.2h40M1342.4 1016.8h40M1365.8 1012.5V1017.7M1345.8 1012.5h40M1345.8 1017.7h40M1369 1023V1024.7M1349 1023h40M1349 1024.7h40M1372.3 1001V1008.3M1352.3 1001h40M1352.3 1008.3h40M1375.5 1023.4V1024.8M1355.5 1023.4h40M1355.5 1024.8h40M1378.6 1023.5V1024.8M1358.6 1023.5h40M1358.6 1024.8h40M1381.7 1007.4V1013.5M1361.7 1007.4h40M1361.7 1013.5h40M1384.8 1013.2V1018.1M1364.8 1013.2h40M1364.8 1018.1h40M1387.8 1020.1V1023M1367.8 1020.1h40M1367.8 1023h40M1390.8 1019.7V1022.7M1370.8 1019.7h40M1370.8 1022.7h40M1393.7 1014.8V1019.2M1373.7 1014.8h40M1373.7 1019.2h40M1396.6 1022.9V1024.5M1376.6 1022.9h40M1376.6 1024.5h40M1399.5 1022.4V1024.3M1379.5 1022.4h40M1379.5 1024.3h40M1402.3 1013.3V1018M1382.3 1013.3h40M1382.3 1018h40M1405.1 1009.5V1014.9M1385.1 1009.5h40M1385.1 1014.9h40M1407.9 1016.3V1020.2M1387.9 1016.3h40M1387.9 1020.2h40M1410.6 1017.6V1021.2M1390.6 1017.6h40M1390.6 1021.2h40M1413.3 1023.8V1024.9M1393.3 1023.8h40M1393.3 1024.9h40M1416 1020.5V1023.1M1396 1020.5h40M1396 1023.1h40M1418.6 1020.3V1023M1398.6 1020.3h40M1398.6 1023h40M1421.2 1012.1V1016.9M1401.2 1012.1h40M1401.2 1016.9h40M1423.8 1012.4V1017.1M1403.8 1012.4h40M1403.8 1017.1h40M1426.3 1018.7V1021.9M1406.3 1018.7h40M1406.3 1021.9h40M1428.9 1018.1V1021.4M1408.9 1018.1h40M1408.9 1021.4h40M1431.3 1012.9V1017.4M1411.3 1012.9h40M1411.3 1017.4h40M1433.8 1019.2V1022.2M1413.8 1019.2h40M1413.8 1022.2h40M1436.3 1022.2V1024.1M1416.3 1022.2h40M1416.3 1024.1h40M1438.7 1013.4V1017.7M1418.7 1013.4h40M1418.7 1017.7h40M1441.1 1016.2V1019.9M1421.1 1016.2h40M1421.1 1019.9h40M1443.4 1016.6V1020.2M1423.4 1016.6h40M1423.4 1020.2h40M1445.8 1014.7V1018.7M1425.8 1014.7h40M1425.8 1018.7h40M1448.1 1024V1024.9M1428.1 1024h40M1428.1 1024.9h40M1450.4 1012.9V1017.2M1430.4 1012.9h40M1430.4 1017.2h40M1452.6 1014.6V1018.6M1432.6 1014.6h40M1432.6 1018.6h40M1454.9 1015.4V1019.2M1434.9 1015.4h40M1434.9 1019.2h40M1457.1 1015.6V1019.3M1437.1 1015.6h40M1437.1 1019.3h40M1459.3 1019.7V1022.4M1439.3 1019.7h40M1439.3 1022.4h40M1461.5 1024.1V1024.9M1441.5 1024.1h40M1441.5 1024.9h40M1463.7 1017.3V1020.6M1443.7 1017.3h40M1443.7 1020.6h40M1465.8 1022.6V1024.2M1445.8 1022.6h40M1445.8 1024.2h40M1467.9 1018.1V1021.2M1447.9 1018.1h40M1447.9 1021.2h40M1470 1019.2V1022M1450 1019.2h40M1450 1022h40M1472.1 1020.3V1022.7M1452.1 1020.3h40M1452.1 1022.7h40M1474.2 1022.2V1024M1454.2 1022.2h40M1454.2 1024h40M1476.2 1020V1022.5M1456.2 1020h40M1456.2 1022.5h40M1478.3 1019.9V1022.5M1458.3 1019.9h40M1458.3 1022.5h40M1480.3 1017.7V1020.8M1460.3 1017.7h40M1460.3 1020.8h40M1482.3 1020.1V1022.6M1462.3 1020.1h40M1462.3 1022.6h40M1484.2 1022.6V1024.2M1464.2 1022.6h40M1464.2 1024.2h40M1486.2 1024.2V1024.9M1466.2 1024.2h40M1466.2 1024.9h40M1488.1 1021.8V1023.7M1468.1 1021.8h40M1468.1 1023.7h40M1490.1 1018.6V1021.4M1470.1 1018.6h40M1470.1 1021.4h40M1492 1018.5V1021.4M1472 1018.5h40M1472 1021.4h40M1493.9 1017.9V1020.9M1473.9 1017.9h40M1473.9 1020.9h40M1495.7 1018.6V1021.4M1475.7 1018.6h40M1475.7 1021.4h40M1497.6 1015.3V1018.9M1477.6 1015.3h40M1477.6 1018.9h40M1499.5 1015.6V1019M1479.5 1015.6h40M1479.5 1019h40M1501.3 1015.1V1018.6M1481.3 1015.1h40M1481.3 1018.6h40M1503.1 1015.4V1018.9M1483.1 1015.4h40M1483.1 1018.9h40M1504.9 1019.1V1021.7M1484.9 1019.1h40M1484.9 1021.7h40M1506.7 1018V1020.9M1486.7 1018h40M1486.7 1020.9h40M1508.5 1012.9V1016.8M1488.5 1012.9h40M1488.5 1016.8h40M1510.2 1021.2V1023.2M1490.2 1021.2h40M1490.2 1023.2h40M1512 1019V1021.6M1492 1019h40M1492 1021.6h40M1513.7 1019.2V1021.8M1493.7 1019.2h40M1493.7 1021.8h40M1515.5 1022V1023.7M1495.5 1022h40M1495.5 1023.7h40M1517.2 1018.9V1021.5M1497.2 1018.9h40M1497.2 1021.5h40M1518.9 1017.1V1020.1M1498.9 1017.1h40M1498.9 1020.1h40M1520.5 1021.1V1023.1M1500.5 1021.1h40M1500.5 1023.1h40M1522.2 1023.6V1024.6M1502.2 1023.6h40M1502.2 1024.6h40M1523.9 1016.4V1019.5M1503.9 1016.4h40M1503.9 1019.5h40M1525.5 1017.7V1020.6M1505.5 1017.7h40M1505.5 1020.6h40M1527.2 1023.8V1024.7M1507.2 1023.8h40M1507.2 1024.7h40M1528.8 1020.9V1022.9M1508.8 1020.9h40M1508.8 1022.9h40M1530.4 1022.6V1024.1M1510.4 1022.6h40M1510.4 1024.1h40M1532 1018.3V1021M1512 1018.3h40M1512 1021h40M1533.6 1009.7V1013.9M1513.6 1009.7h40M1513.6 1013.9h40M1535.2 1014.8V1018.2M1515.2 1014.8h40M1515.2 1018.2h40M1536.8 1006.3V1011M1516.8 1006.3h40M1516.8 1011h40M1538.3 1023.7V1024.6M1518.3 1023.7h40M1518.3 1024.6h40M1539.9 1014.9V1018.2M1519.9 1014.9h40M1519.9 1018.2h40M1541.4 1005.2V1009.9M1521.4 1005.2h40M1521.4 1009.9h40M1542.9 1004.9V1009.6M1522.9 1004.9h40M1522.9 1009.6h40M1544.4 1010.1V1014.1M1524.4 1010.1h40M1524.4 1014.1h40M1546 1023.6V1024.6M1526 1023.6h40M1526 1024.6h40M1547.4 1018.9V1021.3M1527.4 1018.9h40M1527.4 1021.3h40M1548.9 1022V1023.6M1528.9 1022h40M1528.9 1023.6h40M1550.4 1021.5V1023.3M1530.4 1021.5h40M1530.4 1023.3h40M1551.9 1010.2V1014.2M1531.9 1010.2h40M1531.9 1014.2h40M1553.3 1021.9V1023.6M1533.3 1021.9h40M1533.3 1023.6h40M1554.8 1017.9V1020.6M1534.8 1017.9h40M1534.8 1020.6h40M1556.2 1017.1V1019.9M1536.2 1017.1h40M1536.2 1019.9h40M1557.7 1018.4V1020.9M1537.7 1018.4h40M1537.7 1020.9h40M1559.1 1011.8V1015.5M1539.1 1011.8h40M1539.1 1015.5h40M1560.5 1012V1015.6M1540.5 1012h40M1540.5 1015.6h40M1561.9 1010.3V1014.2M1541.9 1010.3h40M1541.9 1014.2h40M1563.3 1021.7V1023.3M1543.3 1021.7h40M1543.3 1023.3h40M1564.7 1011.9V1015.5M1544.7 1011.9h40M1544.7 1015.5h40M1566.1 1023.5V1024.5M1546.1 1023.5h40M1546.1 1024.5h40M1567.4 1006.8V1011.1M1547.4 1006.8h40M1547.4 1011.1h40M1568.8 1015V1018.1M1548.8 1015h40M1548.8 1018.1h40M1570.2 1011.6V1015.2M1550.2 1011.6h40M1550.2 1015.2h40M1571.5 1014.6V1017.8M1551.5 1014.6h40M1551.5 1017.8h40M1572.9 1013.4V1016.8M1552.9 1013.4h40M1552.9 1016.8h40M1574.2 1016.7V1019.4M1554.2 1016.7h40M1554.2 1019.4h40M1575.5 1013.7V1017M1555.5 1013.7h40M1555.5 1017h40M1576.8 1023.6V1024.5M1556.8 1023.6h40M1556.8 1024.5h40M1578.1 1011.6V1015.2M1558.1 1011.6h40M1558.1 1015.2h40M1579.4 1012.7V1016.1M1559.4 1012.7h40M1559.4 1016.1h40M1580.7 1008.9V1012.8M1560.7 1008.9h40M1560.7 1012.8h40M1582 1023.6V1024.5M1562 1023.6h40M1562 1024.5h40M1583.3 1010.8V1014.4M1563.3 1010.8h40M1563.3 1014.4h40M1584.6 1023.6V1024.5M1564.6 1023.6h40M1564.6 1024.5h40M1585.8 1009.2V1013M1565.8 1009.2h40M1565.8 1013h40M1587.1 1003.4V1007.9M1567.1 1003.4h40M1567.1 1007.9h40M1588.4 1018.8V1021.1M1568.4 1018.8h40M1568.4 1021.1h40M1589.6 1018.3V1020.7M1569.6 1018.3h40M1569.6 1020.7h40M1590.8 1002.6V1007.1M1570.8 1002.6h40M1570.8 1007.1h40M1592.1 1001V1005.7M1572.1 1001h40M1572.1 1005.7h40M1593.3 1011.2V1014.7M1573.3 1011.2h40M1573.3 1014.7h40M1594.5 1001.3V1005.9M1574.5 1001.3h40M1574.5 1005.9h40M1595.7 1023.6V1024.5M1575.7 1023.6h40M1575.7 1024.5h40M1596.9 1008.6V1012.5M1576.9 1008.6h40M1576.9 1012.5h40M1598.1 1020.8V1022.6M1578.1 1020.8h40M1578.1 1022.6h40M1599.3 1016.1V1018.9M1579.3 1016.1h40M1579.3 1018.9h40M1600.5 1024.3V1024.8M1580.5 1024.3h40M1580.5 1024.8h40"/>
<path d="M488.3 743.3V875.3M468.3 743.3h40M468.3 875.3h40M605.2 339.6V411.6M585.2 339.6h40M585.2 411.6h40M682.2 325.7V384.7M662.2 325.7h40M662.2 384.7h40M739.8 262.3V303.3M719.8 262.3h40M719.8 303.3h40M785.7 388.4V441.1M765.7 388.4h40M765.7 441.1h40M823.9 393.7V442.5M803.9 393.7h40M803.9 442.5h40M856.7 362.2V404.1M836.7 362.2h40M836.7 404.1h40M885.3 401.2V444.3M865.3 401.2h40M865.3 444.3h40M910.8 382.5V421.5M890.8 382.5h40M890.8 421.5h40M933.7 407V446.1M913.7 407h40M913.7 446.1h40M954.5 488.1V531.1M934.5 488.1h40M934.5 531.1h40M973.6 482.3V523.2M953.6 482.3h40M953.6 523.2h40M991.2 493V532.9M971.2 493h40M971.2 532.9h40M1007.6 553.8V595M987.6 553.8h40M987.6 595h40M1022.9 536.3V575.5M1002.9 536.3h40M1002.9 575.5h40M1037.2 514.8V551.8M1017.2 514.8h40M1017.2 551.8h40M1050.6 499.7V534.9M1030.6 499.7h40M1030.6 534.9h40M1063.4 544.6V580.7M1043.4 544.6h40M1043.4 580.7h40M1075.4 548.1V583.3M1055.4 548.1h40M1055.4 583.3h40M1086.9 566V600.9M1066.9 566h40M1066.9 600.9h40M1097.8 616.1V651.4M1077.8 616.1h40M1077.8 651.4h40M1108.2 645.9V680.9M1088.2 645.9h40M1088.2 680.9h40M1118.1 655.2V689.5M1098.1 655.2h40M1098.1 689.5h40M1127.7 664.6V698.3M1107.7 664.6h40M1107.7 698.3h40M1136.8 659.1V692.1M1116.8 659.1h40M1116.8 692.1h40M1145.6 709.4V741.9M1125.6 709.4h40M1125.6 741.9h40M1154.1 728.3V760M1134.1 728.3h40M1134.1 760h40M1162.3 714.4V745.7M1142.3 714.4h40M1142.3 745.7h40M1170.2 724.6V755.3M1150.2 724.6h40M1150.2 755.3h40M1177.8 704.6V734.9M1157.8 704.6h40M1157.8 734.9h40M1185.2 824.1V851.8M1165.2 824.1h40M1165.2 851.8h40M1192.3 738V767.1M1172.3 738h40M1172.3 767.1h40M1199.3 771V799.2M1179.3 771h40M1179.3 799.2h40M1206 718.3V746.7M1186 718.3h40M1186 746.7h40M1212.5 786.8V813.9M1192.5 786.8h40M1192.5 813.9h40M1218.9 801.5V827.8M1198.9 801.5h40M1198.9 827.8h40M1225.1 825.9V851.2M1205.1 825.9h40M1205.1 851.2h40M1231.1 865.4V888.8M1211.1 865.4h40M1211.1 888.8h40M1237 888.1V910M1217 888.1h40M1217 910h40M1242.7 891.3V912.7M1222.7 891.3h40M1222.7 912.7h40M1248.3 925.7V944.5M1228.3 925.7h40M1228.3 944.5h40M1253.7 951.4V967.7M1233.7 951.4h40M1233.7 967.7h40M1259.1 909.2V928.8M1239.1 909.2h40M1239.1 928.8h40M1264.3 901.8V921.6M1244.3 901.8h40M1244.3 921.6h40M1269.4 940.8V957.6M1249.4 940.8h40M1249.4 957.6h40M1274.3 909.8V928.7M1254.3 909.8h40M1254.3 928.7h40M1279.2 950.9V966.5M1259.2 950.9h40M1259.2 966.5h40M1284 935.2V952M1264 935.2h40M1264 952h40M1288.6 947.1V962.7M1268.6 947.1h40M1268.6 962.7h40M1293.2 984.7V995.9M1273.2 984.7h40M1273.2 995.9h40M1297.7 951.5V966.4M1277.7 951.5h40M1277.7 966.4h40M1302.1 981.2V992.7M1282.1 981.2h40M1282.1 992.7h40M1306.4 991.8V1001.7M1286.4 991.8h40M1286.4 1001.7h40M1310.7 981.8V993.1M1290.7 981.8h40M1290.7 993.1h40M1314.8 992.6V1002.3M1294.8 992.6h40M1294.8 1002.3h40M1318.9 1014.1V1019.4M1298.9 1014.1h40M1298.9 1019.4h40M1322.9 997.4V1006.1M1302.9 997.4h40M1302.9 1006.1h40M1326.9 1008.7V1015.2M1306.9 1008.7h40M1306.9 1015.2h40M1330.8 994.3V1003.4M1310.8 994.3h40M1310.8 1003.4h40M1334.6 1014.7V1019.7M1314.6 1014.7h40M1314.6 1019.7h40M1338.3 996.7V1005.3M1318.3 996.7h40M1318.3 1005.3h40M1342 1013.3V1018.6M1322 1013.3h40M1322 1018.6h40M1345.7 996.5V1005M1325.7 996.5h40M1325.7 1005h40M1349.2 1000.6V1008.4M1329.2 1000.6h40M1329.2 1008.4h40M1352.8 997.2V1005.4M1332.8 997.2h40M1332.8 1005.4h40M1356.2 998.2V1006.2M1336.2 998.2h40M1336.2 1006.2h40M1359.6 994.3V1002.8M1339.6 994.3h40M1339.6 1002.8h40M1363 1020.8V1023.6M1343 1020.8h40M1343 1023.6h40M1366.3 1011.4V1016.8M1346.3 1011.4h40M1346.3 1016.8h40M1369.6 1015.1V1019.7M1349.6 1015.1h40M1349.6 1019.7h40M1372.8 1019.7V1022.8M1352.8 1019.7h40M1352.8 1022.8h40M1376 1007.6V1013.8M1356 1007.6h40M1356 1013.8h40M1379.1 1021.6V1023.9M1359.1 1021.6h40M1359.1 1023.9h40M1382.2 1015.6V1019.9M1362.2 1015.6h40M1362.2 1019.9h40M1385.3 1022.9V1024.6M1365.3 1022.9h40M1365.3 1024.6h40M1388.3 1021.6V1023.9M1368.3 1021.6h40M1368.3 1023.9h40M1391.3 1008.4V1014.2M1371.3 1008.4h40M1371.3 1014.2h40M1394.2 1010.7V1016.1M1374.2 1010.7h40M1374.2 1016.1h40M1397.1 1015.1V1019.4M1377.1 1015.1h40M1377.1 1019.4h40M1400 1014.4V1018.9M1380 1014.4h40M1380 1018.9h40M1402.8 1011.5V1016.6M1382.8 1011.5h40M1382.8 1016.6h40M1405.6 1017.2V1020.9M1385.6 1017.2h40M1385.6 1020.9h40M1408.3 1023.8V1024.9M1388.3 1023.8h40M1388.3 1024.9h40M1411.1 1018.6V1021.9M1391.1 1018.6h40M1391.1 1021.9h40M1413.7 1014.2V1018.6M1393.7 1014.2h40M1393.7 1018.6h40M1416.4 1015.5V1019.6M1396.4 1015.5h40M1396.4 1019.6h40M1419 1019.2V1022.2M1399 1019.2h40M1399 1022.2h40M1421.6 1014.5V1018.7M1401.6 1014.5h40M1401.6 1018.7h40M1424.2 1021.9V1024M1404.2 1021.9h40M1404.2 1024h40M1426.8 1013.6V1018M1406.8 1013.6h40M1406.8 1018h40M1429.3 1023.9V1024.9M1409.3 1023.9h40M1409.3 1024.9h40M1431.8 1021.3V1023.6M1411.8 1021.3h40M1411.8 1023.6h40M1434.2 1011.9V1016.6M1414.2 1011.9h40M1414.2 1016.6h40M1436.7 1017.3V1020.8M1416.7 1017.3h40M1416.7 1020.8h40M1439.1 1023.9V1024.9M1419.1 1023.9h40M1419.1 1024.9h40M1441.5 1020.2V1022.8M1421.5 1020.2h40M1421.5 1022.8h40M1443.8 1017.4V1020.8M1423.8 1017.4h40M1423.8 1020.8h40M1446.1 1020.7V1023.1M1426.1 1020.7h40M1426.1 1023.1h40M1448.5 1024V1024.9M1428.5 1024h40M1428.5 1024.9h40M1450.7 1012.9V1017.2M1430.7 1012.9h40M1430.7 1017.2h40M1453 1024V1024.9M1433 1024h40M1433 1024.9h40M1455.3 1013.9V1018M1435.3 1013.9h40M1435.3 1018h40M1457.5 1019.7V1022.4M1437.5 1019.7h40M1437.5 1022.4h40M1459.7 1019.4V1022.1M1439.7 1019.4h40M1439.7 1022.1h40M1461.9 1016V1019.6M1441.9 1016h40M1441.9 1019.6h40M1464 1024.2V1024.9M1444 1024.2h40M1444 1024.9h40M1466.2 1020.8V1023.1M1446.2 1020.8h40M1446.2 1023.1h40M1468.3 1018.2V1021.3M1448.3 1018.2h40M1448.3 1021.3h40M1470.4 1020.4V1022.8M1450.4 1020.4h40M1450.4 1022.8h40M1472.5 1019.8V1022.4M1452.5 1019.8h40M1452.5 1022.4h40M1474.5 1022.3V1024M1454.5 1022.3h40M1454.5 1024h40M1476.6 1022.4V1024.1M1456.6 1022.4h40M1456.6 1024.1h40M1478.6 1023.9V1024.8M1458.6 1023.9h40M1458.6 1024.8h40M1480.6 1017.3V1020.5M1460.6 1017.3h40M1460.6 1020.5h40M1482.6 1017.5V1020.6M1462.6 1017.5h40M1462.6 1020.6h40M1484.6 1023.1V1024.4M1464.6 1023.1h40M1464.6 1024.4h40M1486.5 1021.6V1023.6M1466.5 1021.6h40M1466.5 1023.6h40M1488.5 1017.7V1020.7M1468.5 1017.7h40M1468.5 1020.7h40M1490.4 1018.8V1021.5M1470.4 1018.8h40M1470.4 1021.5h40M1492.3 1018.5V1021.3M1472.3 1018.5h40M1472.3 1021.3h40M1494.2 1014.6V1018.3M1474.2 1014.6h40M1474.2 1018.3h40M1496.1 1019.3V1021.9M1476.1 1019.3h40M1476.1 1021.9h40M1497.9 1016V1019.3M1477.9 1016h40M1477.9 1019.3h40M1499.8 1018.9V1021.6M1479.8 1018.9h40M1479.8 1021.6h40M1501.6 1023.1V1024.4M1481.6 1023.1h40M1481.6 1024.4h40M1503.4 1018.1V1021M1483.4 1018.1h40M1483.4 1021h40M1505.2 1020.2V1022.5M1485.2 1020.2h40M1485.2 1022.5h40M1507 1020.2V1022.5M1487 1020.2h40M1487 1022.5h40M1508.8 1020.9V1023M1488.8 1020.9h40M1488.8 1023h40M1510.5 1020.3V1022.6M1490.5 1020.3h40M1490.5 1022.6h40M1512.3 1011.8V1015.8M1492.3 1011.8h40M1492.3 1015.8h40M1514 1016.2V1019.4M1494 1016.2h40M1494 1019.4h40M1515.7 1023.2V1024.4M1495.7 1023.2h40M1495.7 1024.4h40M1517.5 1012.3V1016.2M1497.5 1012.3h40M1497.5 1016.2h40M1519.1 1017.9V1020.7M1499.1 1017.9h40M1499.1 1020.7h40M1520.8 1014V1017.6M1500.8 1014h40M1500.8 1017.6h40M1522.5 1016V1019.2M1502.5 1016h40M1502.5 1019.2h40M1524.2 1012.3V1016.1M1504.2 1012.3h40M1504.2 1016.1h40M1525.8 1016.8V1019.8M1505.8 1016.8h40M1505.8 1019.8h40M1527.4 1017.1V1020.1M1507.4 1017.1h40M1507.4 1020.1h40M1529.1 1018.4V1021.1M1509.1 1018.4h40M1509.1 1021.1h40M1530.7 1007.9V1012.3M1510.7 1007.9h40M1510.7 1012.3h40M1532.3 1020.1V1022.3M1512.3 1020.1h40M1512.3 1022.3h40M1533.9 1008.6V1013M1513.9 1008.6h40M1513.9 1013h40M1535.4 1008.6V1012.9M1515.4 1008.6h40M1515.4 1012.9h40M1537 1023.7V1024.6M1517 1023.7h40M1517 1024.6h40M1538.6 1018.4V1021M1518.6 1018.4h40M1518.6 1021h40M1540.1 1016.1V1019.1M1520.1 1016.1h40M1520.1 1019.1h40M1541.7 1011.6V1015.4M1521.7 1011.6h40M1521.7 1015.4h40M1543.2 1010.1V1014.2M1523.2 1010.1h40M1523.2 1014.2h40M1544.7 1020V1022.2M1524.7 1020h40M1524.7 1022.2h40M1546.2 1012.4V1016.1M1526.2 1012.4h40M1526.2 1016.1h40M1547.7 1008.2V1012.5M1527.7 1008.2h40M1527.7 1012.5h40M1549.2 1012.4V1016M1529.2 1012.4h40M1529.2 1016h40M1550.7 1021.9V1023.5M1530.7 1021.9h40M1530.7 1023.5h40M1552.1 1011V1014.9M1532.1 1011h40M1532.1 1014.9h40M1553.6 1023.5V1024.5M1533.6 1023.5h40M1533.6 1024.5h40M1555 1011.6V1015.4M1535 1011.6h40M1535 1015.4h40M1556.5 1002.8V1007.7M1536.5 1002.8h40M1536.5 1007.7h40M1557.9 1016.3V1019.3M1537.9 1016.3h40M1537.9 1019.3h40M1559.3 1004.8V1009.4M1539.3 1004.8h40M1539.3 1009.4h40M1560.7 1015.5V1018.6M1540.7 1015.5h40M1540.7 1018.6h40M1562.1 1016.1V1019M1542.1 1016.1h40M1542.1 1019h40M1563.5 1013.3V1016.7M1543.5 1013.3h40M1543.5 1016.7h40M1564.9 1007.9V1012.1M1544.9 1007.9h40M1544.9 1012.1h40M1566.3 1003.8V1008.4M1546.3 1003.8h40M1546.3 1008.4h40M1567.7 1018.8V1021.2M1547.7 1018.8h40M1547.7 1021.2h40M1569 1022.8V1024.1M1549 1022.8h40M1549 1024.1h40M1570.4 1006.8V1011.1M1550.4 1006.8h40M1550.4 1011.1h40M1571.7 1006.5V1010.8M1551.7 1006.5h40M1551.7 1010.8h40M1573.1 1006.8V1011M1553.1 1006.8h40M1553.1 1011h40M1574.4 1010.8V1014.5M1554.4 1010.8h40M1554.4 1014.5h40M1575.7 1003.2V1007.8M1555.7 1003.2h40M1555.7 1007.8h40M1577 1016V1018.9M1557 1016h40M1557 1018.9h40M1578.4 1007.2V1011.4M1558.4 1007.2h40M1558.4 1011.4h40M1579.7 1009.9V1013.7M1559.7 1009.9h40M1559.7 1013.7h40M1580.9 1012.1V1015.5M1560.9 1012.1h40M1560.9 1015.5h40M1582.2 1018.8V1021.1M1562.2 1018.8h40M1562.2 1021.1h40M1583.5 1014.2V1017.3M1563.5 1014.2h40M1563.5 1017.3h40M1584.8 1019.8V1021.9M1564.8 1019.8h40M1564.8 1021.9h40M1586.1 1010V1013.7M1566.1 1010h40M1566.1 1013.7h40M1587.3 1003.4V1007.9M1567.3 1003.4h40M1567.3 1007.9h40M1588.6 1020.8V1022.7M1568.6 1020.8h40M1568.6 1022.7h40M1589.8 1011.2V1014.8M1569.8 1011.2h40M1569.8 1014.8h40M1591 1015.3V1018.2M1571 1015.3h40M1571 1018.2h40M1592.3 1018.8V1021.1M1572.3 1018.8h40M1572.3 1021.1h40M1593.5 1019.6V1021.7M1573.5 1019.6h40M1573.5 1021.7h40M1594.7 1014.5V1017.5M1574.7 1014.5h40M1574.7 1017.5h40M1595.9 1013.1V1016.3M1575.9 1013.1h40M1575.9 1016.3h40M1597.1 1007.8V1011.7M1577.1 1007.8h40M1577.1 1011.7h40M1598.3 1013V1016.2M1578.3 1013h40M1578.3 1016.2h40M1599.5 1021.8V1023.4M1579.5 1021.8h40M1579.5 1023.4h40M1600.7 1020.8V1022.6M1580.7 1020.8h40M1580.7 1022.6h40"/>
<path d="M512.4 648.5V781.7M492.4 648.5h40M492.4 781.7h40M620 333.7V406.7M600 333.7h40M600 406.7h40M692.9 361.4V423.4M672.9 361.4h40M672.9 423.4h40M748.1 333.2V380.4M728.1 333.2h40M728.1 380.4h40M792.5 307.3V348.4M772.5 307.3h40M772.5 348.4h40M829.7 372.5V418.3M809.7 372.5h40M809.7 418.3h40M861.7 379.4V422.7M841.7 379.4h40M841.7 422.7h40M889.8 405.9V449.1M869.8 405.9h40M869.8 449.1h40M914.8 374.1V411.9M894.8 374.1h40M894.8 411.9h40M937.3 411.1V450.2M917.3 411.1h40M917.3 450.2h40M957.8 448.3V488.4M937.8 448.3h40M937.8 488.4h40M976.6 485.5V526.3M956.6 485.5h40M956.6 526.3h40M994 515.4V556.2M974 515.4h40M974 556.2h40M1010.2 532.4V572.5M990.2 532.4h40M990.2 572.5h40M1025.3 493V529.9M1005.3 493h40M1005.3 529.9h40M1039.5 466V500.4M1019.5 466h40M1019.5 500.4h40M1052.8 500V535M1032.8 500h40M1032.8 535h40M1065.4 520.9V555.9M1045.4 520.9h40M1045.4 555.9h40M1077.4 544.4V579.4M1057.4 544.4h40M1057.4 579.4h40M1088.7 593.7V629.2M1068.7 593.7h40M1068.7 629.2h40M1099.5 644.5V680.1M1079.5 644.5h40M1079.5 680.1h40M1109.9 647.2V682.1M1089.9 647.2h40M1089.9 682.1h40M1119.7 697.4V731.8M1099.7 697.4h40M1099.7 731.8h40M1129.2 682.9V716.6M1109.2 682.9h40M1109.2 716.6h40M1138.3 699.6V732.6M1118.3 699.6h40M1118.3 732.6h40M1147.1 765.5V797.2M1127.1 765.5h40M1127.1 797.2h40M1155.5 762V793.2M1135.5 762h40M1135.5 793.2h40M1163.6 722.8V754M1143.6 722.8h40M1143.6 754h40M1171.5 711.6V742.3M1151.5 711.6h40M1151.5 742.3h40M1179 694.2V724.4M1159 694.2h40M1159 724.4h40M1186.4 734.5V764.1M1166.4 734.5h40M1166.4 764.1h40M1193.5 741.1V770.1M1173.5 741.1h40M1173.5 770.1h40M1200.4 740.4V769M1180.4 740.4h40M1180.4 769h40M1207.1 753.7V781.8M1187.1 753.7h40M1187.1 781.8h40M1213.6 764.8V792.3M1193.6 764.8h40M1193.6 792.3h40M1219.9 862.4V886.5M1199.9 862.4h40M1199.9 886.5h40M1226.1 793.2V819.4M1206.1 793.2h40M1206.1 819.4h40M1232.1 827.6V852.5M1212.1 827.6h40M1212.1 852.5h40M1237.9 843.2V867.2M1217.9 843.2h40M1217.9 867.2h40M1243.6 891.5V912.9M1223.6 891.5h40M1223.6 912.9h40M1249.2 880.3V902M1229.2 880.3h40M1229.2 902h40M1254.6 881.6V903M1234.6 881.6h40M1234.6 903h40M1259.9 926.2V944.6M1239.9 926.2h40M1239.9 944.6h40M1265.1 930.3V948.1M1245.1 930.3h40M1245.1 948.1h40M1270.2 894.9V914.9M1250.2 894.9h40M1250.2 914.9h40M1275.2 945V961.2M1255.2 945h40M1255.2 961.2h40M1280 979.5V991.8M1260 979.5h40M1260 991.8h40M1284.8 931.9V948.9M1264.8 931.9h40M1264.8 948.9h40M1289.4 966.1V979.8M1269.4 966.1h40M1269.4 979.8h40M1294 962.2V976.2M1274 962.2h40M1274 976.2h40M1298.4 965.9V979.3M1278.4 965.9h40M1278.4 979.3h40M1302.8 973.1V985.6M1282.8 973.1h40M1282.8 985.6h40M1307.1 977.3V989.2M1287.1 977.3h40M1287.1 989.2h40M1311.4 977.8V989.6M1291.4 977.8h40M1291.4 989.6h40M1315.5 979.8V991.2M1295.5 979.8h40M1295.5 991.2h40M1319.6 986.8V997.2M1299.6 986.8h40M1299.6 997.2h40M1323.6 1001.2V1009.3M1303.6 1001.2h40M1303.6 1009.3h40M1327.5 1008V1014.7M1307.5 1008h40M1307.5 1014.7h40M1331.4 998.6V1007M1311.4 998.6h40M1311.4 1007h40M1335.2 1014.8V1019.8M1315.2 1014.8h40M1315.2 1019.8h40M1338.9 997.3V1005.7M1318.9 997.3h40M1318.9 1005.7h40M1342.6 1015.3V1020.1M1322.6 1015.3h40M1322.6 1020.1h40M1346.3 1021.4V1024M1326.3 1021.4h40M1326.3 1024h40M1349.8 1008.9V1015.1M1329.8 1008.9h40M1329.8 1015.1h40M1353.3 996.5V1004.9M1333.3 996.5h40M1333.3 1004.9h40M1356.8 1010.1V1015.9M1336.8 1010.1h40M1336.8 1015.9h40M1360.2 1007.2V1013.6M1340.2 1007.2h40M1340.2 1013.6h40M1363.6 993.6V1002.2M1343.6 993.6h40M1343.6 1002.2h40M1366.9 1013.9V1018.8M1346.9 1013.9h40M1346.9 1018.8h40M1370.1 1023.1V1024.7M1350.1 1023.1h40M1350.1 1024.7h40M1373.3 1007.2V1013.5M1353.3 1007.2h40M1353.3 1013.5h40M1376.5 1023.5V1024.8M1356.5 1023.5h40M1356.5 1024.8h40M1379.6 1009.1V1014.9M1359.6 1009.1h40M1359.6 1014.9h40M1382.7 1009.2V1015M1362.7 1009.2h40M1362.7 1015h40M1385.8 1014.4V1019M1365.8 1014.4h40M1365.8 1019h40M1388.8 1010.9V1016.3M1368.8 1010.9h40M1368.8 1016.3h40M1391.8 1016.1V1020.2M1371.8 1016.1h40M1371.8 1020.2h40M1394.7 1010.1V1015.6M1374.7 1010.1h40M1374.7 1015.6h40M1397.6 1018.2V1021.7M1377.6 1018.2h40M1377.6 1021.7h40M1400.4 1010.6V1015.9M1380.4 1010.6h40M1380.4 1015.9h40M1403.2 1014.1V1018.6M1383.2 1014.1h40M1383.2 1018.6h40M1406 1022.1V1024.1M1386 1022.1h40M1386 1024.1h40M1408.8 1023.8V1024.9M1388.8 1023.8h40M1388.8 1024.9h40M1411.5 1022V1024M1391.5 1022h40M1391.5 1024h40M1414.2 1020.1V1022.8M1394.2 1020.1h40M1394.2 1022.8h40M1416.8 1017.1V1020.8M1396.8 1017.1h40M1396.8 1020.8h40M1419.5 1016V1020M1399.5 1016h40M1399.5 1020h40M1422.1 1012.4V1017.1M1402.1 1012.4h40M1402.1 1017.1h40M1424.6 1016.8V1020.5M1404.6 1016.8h40M1404.6 1020.5h40M1427.2 1013.7V1018.1M1407.2 1013.7h40M1407.2 1018.1h40M1429.7 1020.6V1023.2M1409.7 1020.6h40M1409.7 1023.2h40M1432.2 1015V1019.1M1412.2 1015h40M1412.2 1019.1h40M1434.6 1021.2V1023.5M1414.6 1021.2h40M1414.6 1023.5h40M1437.1 1023.9V1024.9M1417.1 1023.9h40M1417.1 1024.9h40M1439.5 1021.7V1023.8M1419.5 1021.7h40M1419.5 1023.8h40M1441.8 1016V1019.7M1421.8 1016h40M1421.8 1019.7h40M1444.2 1023.9V1024.9M1424.2 1023.9h40M1424.2 1024.9h40M1446.5 1015.6V1019.4M1426.5 1015.6h40M1426.5 1019.4h40M1448.8 1024V1024.9M1428.8 1024h40M1428.8 1024.9h40M1451.1 1019.8V1022.5M1431.1 1019.8h40M1431.1 1022.5h40M1453.4 1017.6V1020.9M1433.4 1017.6h40M1433.4 1020.9h40M1455.6 1013.9V1018M1435.6 1013.9h40M1435.6 1018h40M1457.8 1019.5V1022.2M1437.8 1019.5h40M1437.8 1022.2h40M1460 1020.2V1022.7M1440 1020.2h40M1440 1022.7h40M1462.2 1023.7V1024.7M1442.2 1023.7h40M1442.2 1024.7h40M1464.4 1017.7V1020.9M1444.4 1017.7h40M1444.4 1020.9h40M1466.5 1020.2V1022.7M1446.5 1020.2h40M1446.5 1022.7h40M1468.6 1018.5V1021.5M1448.6 1018.5h40M1448.6 1021.5h40M1470.7 1019.4V1022.1M1450.7 1019.4h40M1450.7 1022.1h40M1472.8 1022.4V1024.1M1452.8 1022.4h40M1452.8 1024.1h40M1474.9 1021.4V1023.4M1454.9 1021.4h40M1454.9 1023.4h40M1476.9 1021.9V1023.8M1456.9 1021.9h40M1456.9 1023.8h40M1478.9 1018.9V1021.7M1458.9 1018.9h40M1458.9 1021.7h40M1480.9 1018.7V1021.5M1460.9 1018.7h40M1460.9 1021.5h40M1482.9 1019.4V1022.1M1462.9 1019.4h40M1462.9 1022.1h40M1484.9 1016.1V1019.5M1464.9 1016.1h40M1464.9 1019.5h40M1486.8 1021.4V1023.4M1466.8 1021.4h40M1466.8 1023.4h40M1488.8 1023.5V1024.6M1468.8 1023.5h40M1468.8 1024.6h40M1490.7 1020.1V1022.5M1470.7 1020.1h40M1470.7 1022.5h40M1492.6 1016.2V1019.6M1472.6 1016.2h40M1472.6 1019.6h40M1494.5 1024.1V1024.8M1474.5 1024.1h40M1474.5 1024.8h40M1496.4 1016.6V1019.8M1476.4 1016.6h40M1476.4 1019.8h40M1498.2 1020.6V1022.8M1478.2 1020.6h40M1478.2 1022.8h40M1500.1 1020.5V1022.8M1480.1 1020.5h40M1480.1 1022.8h40M1501.9 1015.6V1019.1M1481.9 1015.6h40M1481.9 1019.1h40M1503.7 1020.7V1022.9M1483.7 1020.7h40M1483.7 1022.9h40M1505.5 1019.5V1022M1485.5 1019.5h40M1485.5 1022h40M1507.3 1017.1V1020.2M1487.3 1017.1h40M1487.3 1020.2h40M1509.1 1022.2V1023.9M1489.1 1022.2h40M1489.1 1023.9h40M1510.8 1019.3V1021.9M1490.8 1019.3h40M1490.8 1021.9h40M1512.6 1020.3V1022.6M1492.6 1020.3h40M1492.6 1022.6h40M1514.3 1016.6V1019.8M1494.3 1016.6h40M1494.3 1019.8h40M1516 1020.9V1022.9M1496 1020.9h40M1496 1022.9h40M1517.7 1016V1019.3M1497.7 1016h40M1497.7 1019.3h40M1519.4 1023.9V1024.7M1499.4 1023.9h40M1499.4 1024.7h40M1521.1 1016.4V1019.6M1501.1 1016.4h40M1501.1 1019.6h40M1522.8 1009.8V1014M1502.8 1009.8h40M1502.8 1014h40M1524.4 1014.5V1017.9M1504.4 1014.5h40M1504.4 1017.9h40M1526.1 1019V1021.6M1506.1 1019h40M1506.1 1021.6h40M1527.7 1012.2V1016M1507.7 1012.2h40M1507.7 1016h40M1529.3 1016.6V1019.6M1509.3 1016.6h40M1509.3 1019.6h40M1530.9 1014.3V1017.8M1510.9 1014.3h40M1510.9 1017.8h40M1532.5 1018V1020.7M1512.5 1018h40M1512.5 1020.7h40M1534.1 1007.4V1011.9M1514.1 1007.4h40M1514.1 1011.9h40M1535.7 1019.7V1022M1515.7 1019.7h40M1515.7 1022h40M1537.3 1012.4V1016.1M1517.3 1012.4h40M1517.3 1016.1h40M1538.8 1007V1011.6M1518.8 1007h40M1518.8 1011.6h40M1540.4 1009.4V1013.5M1520.4 1009.4h40M1520.4 1013.5h40M1541.9 1014.9V1018.2M1521.9 1014.9h40M1521.9 1018.2h40M1543.4 1019.2V1021.6M1523.4 1019.2h40M1523.4 1021.6h40M1544.9 1014.5V1017.8M1524.9 1014.5h40M1524.9 1017.8h40M1546.5 1006.4V1010.9M1526.5 1006.4h40M1526.5 1010.9h40M1547.9 1009.6V1013.7M1527.9 1009.6h40M1527.9 1013.7h40M1549.4 1004.7V1009.4M1529.4 1004.7h40M1529.4 1009.4h40M1550.9 989.6V995.8M1530.9 989.6h40M1530.9 995.8h40M1552.4 1013.5V1017M1532.4 1013.5h40M1532.4 1017h40M1553.8 1015.7V1018.8M1533.8 1015.7h40M1533.8 1018.8h40M1555.3 1006.9V1011.3M1535.3 1006.9h40M1535.3 1011.3h40M1556.7 1002.8V1007.6M1536.7 1002.8h40M1536.7 1007.6h40M1558.1 1009.4V1013.4M1538.1 1009.4h40M1538.1 1013.4h40M1559.6 1020.7V1022.7M1539.6 1020.7h40M1539.6 1022.7h40M1561 1015V1018.1M1541 1015h40M1541 1018.1h40M1562.4 1012.2V1015.8M1542.4 1012.2h40M1542.4 1015.8h40M1563.8 1009.3V1013.3M1543.8 1009.3h40M1543.8 1013.3h40M1565.2 1008.5V1012.6M1545.2 1008.5h40M1545.2 1012.6h40M1566.5 1012V1015.6M1546.5 1012h40M1546.5 1015.6h40M1567.9 1004.6V1009.2M1547.9 1004.6h40M1547.9 1009.2h40M1569.3 1021.6V1023.3M1549.3 1021.6h40M1549.3 1023.3h40M1570.6 1023.5V1024.5M1550.6 1023.5h40M1550.6 1024.5h40M1572 1019.8V1021.9M1552 1019.8h40M1552 1021.9h40M1573.3 1010.2V1014M1553.3 1010.2h40M1553.3 1014h40M1574.6 1012.7V1016.1M1554.6 1012.7h40M1554.6 1016.1h40M1576 1008.3V1012.3M1556 1008.3h40M1556 1012.3h40M1577.3 1018.3V1020.7M1557.3 1018.3h40M1557.3 1020.7h40M1578.6 1003.3V1007.9M1558.6 1003.3h40M1558.6 1007.9h40M1579.9 1023.6V1024.5M1559.9 1023.6h40M1559.9 1024.5h40M1581.2 1007V1011.2M1561.2 1007h40M1561.2 1011.2h40M1582.4 1004.4V1008.8M1562.4 1004.4h40M1562.4 1008.8h40M1583.7 1022.5V1023.8M1563.7 1022.5h40M1563.7 1023.8h40M1585 1020.1V1022.1M1565 1020.1h40M1565 1022.1h40M1586.3 1017.2V1019.8M1566.3 1017.2h40M1566.3 1019.8h40M1587.5 1008.2V1012.1M1567.5 1008.2h40M1567.5 1012.1h40M1588.8 1003.4V1007.9M1568.8 1003.4h40M1568.8 1007.9h40M1590 1020.9V1022.7M1570 1020.9h40M1570 1022.7h40M1591.2 1005.3V1009.6M1571.2 1005.3h40M1571.2 1009.6h40M1592.5 1014.7V1017.7M1572.5 1014.7h40M1572.5 1017.7h40M1593.7 1007.3V1011.3M1573.7 1007.3h40M1573.7 1011.3h40M1594.9 1011.1V1014.6M1574.9 1011.1h40M1574.9 1014.6h40M1596.1 1016.7V1019.4M1576.1 1016.7h40M1576.1 1019.4h40M1597.3 1010.8V1014.3M1577.3 1010.8h40M1577.3 1014.3h40M1598.5 1014.6V1017.6M1578.5 1014.6h40M1578.5 1017.6h40M1599.7 1019V1021.2M1579.7 1019h40M1579.7 1021.2h40M1600.9 1022.8V1024M1580.9 1022.8h40M1580.9 1024h40"/>
<path d="M353.7 928.4V1027.6M333.7 928.4h40M333.7 1027.6h40M534.2 485.3V609.3M514.2 485.3h40M514.2 609.3h40M633.9 313.2V375.2M613.9 313.2h40M613.9 375.2h40M703.1 400.8V464.4M683.1 400.8h40M683.1 464.4h40M756.1 354.5V408.5M736.1 354.5h40M736.1 408.5h40M799.2 357.3V404.5M779.2 357.3h40M779.2 404.5h40M835.4 378.2V424M815.4 378.2h40M815.4 424h40M866.6 461.9V513.9M846.6 461.9h40M846.6 513.9h40M894.1 375.5V415.3M874.1 375.5h40M874.1 415.3h40M918.7 422.7V464.4M898.7 422.7h40M898.7 464.4h40M940.9 441.8V483M920.9 441.8h40M920.9 483h40M961.1 479V520.9M941.1 479h40M941.1 520.9h40M979.6 510.3V552.1M959.6 510.3h40M959.6 552.1h40M996.8 506.1V546.2M976.8 506.1h40M976.8 546.2h40M1012.8 484V521.6M992.8 484h40M992.8 521.6h40M1027.7 537.5V576.3M1007.7 537.5h40M1007.7 576.3h40M1041.7 487.4V522.8M1021.7 487.4h40M1021.7 522.8h40M1055 501.8V536.8M1035 501.8h40M1035 536.8h40M1067.4 565.8V602.2M1047.4 565.8h40M1047.4 602.2h40M1079.3 550.2V585.2M1059.3 550.2h40M1059.3 585.2h40M1090.5 593.9V629.4M1070.5 593.9h40M1070.5 629.4h40M1101.3 622.2V657.4M1081.3 622.2h40M1081.3 657.4h40M1111.5 654.2V689M1091.5 654.2h40M1091.5 689h40M1121.3 653.7V687.7M1101.3 653.7h40M1101.3 687.7h40M1130.7 657.4V690.9M1110.7 657.4h40M1110.7 690.9h40M1139.8 686.4V719.3M1119.8 686.4h40M1119.8 719.3h40M1148.5 715.6V747.8M1128.5 715.6h40M1128.5 747.8h40M1156.9 746.9V778.3M1136.9 746.9h40M1136.9 778.3h40M1164.9 721.8V752.9M1144.9 721.8h40M1144.9 752.9h40M1172.7 720.7V751.3M1152.7 720.7h40M1152.7 751.3h40M1180.3 734.5V764.4M1160.3 734.5h40M1160.3 764.4h40M1187.6 710.4V740M1167.6 710.4h40M1167.6 740h40M1194.7 725.3V754.4M1174.7 725.3h40M1174.7 754.4h40M1201.5 747.5V776M1181.5 747.5h40M1181.5 776h40M1208.2 752.9V780.9M1188.2 752.9h40M1188.2 780.9h40M1214.7 831.3V857M1194.7 831.3h40M1194.7 857h40M1221 826V851.5M1201 826h40M1201 851.5h40M1227.1 796V822M1207.1 796h40M1207.1 822h40M1233.1 812.4V837.7M1213.1 812.4h40M1213.1 837.7h40M1238.9 862.2V885.4M1218.9 862.2h40M1218.9 885.4h40M1244.6 893V914.2M1224.6 893h40M1224.6 914.2h40M1250.1 844.3V867.6M1230.1 844.3h40M1230.1 867.6h40M1255.5 860V882.4M1235.5 860h40M1235.5 882.4h40M1260.8 900.7V920.8M1240.8 900.7h40M1240.8 920.8h40M1266 919.2V937.8M1246 919.2h40M1246 937.8h40M1271 958.6V973.6M1251 958.6h40M1251 973.6h40M1276 939V955.7M1256 939h40M1256 955.7h40M1280.8 953.4V968.6M1260.8 953.4h40M1260.8 968.6h40M1285.5 973.4V986.3M1265.5 973.4h40M1265.5 986.3h40M1290.2 972V985M1270.2 972h40M1270.2 985h40M1294.7 970.6V983.6M1274.7 970.6h40M1274.7 983.6h40M1299.2 956.9V971.3M1279.2 956.9h40M1279.2 971.3h40M1303.6 1003.5V1011.5M1283.6 1003.5h40M1283.6 1011.5h40M1307.9 997.7V1006.6M1287.9 997.7h40M1287.9 1006.6h40M1312.1 984.6V995.4M1292.1 984.6h40M1292.1 995.4h40M1316.2 990.4V1000.4M1296.2 990.4h40M1296.2 1000.4h40M1320.3 1003.6V1011.3M1300.3 1003.6h40M1300.3 1011.3h40M1324.3 997.9V1006.6M1304.3 997.9h40M1304.3 1006.6h40M1328.2 997.1V1005.8M1308.2 997.1h40M1308.2 1005.8h40M1332 997.2V1005.8M1312 997.2h40M1312 1005.8h40M1335.8 1003.2V1010.7M1315.8 1003.2h40M1315.8 1010.7h40M1339.6 990.7V1000.1M1319.6 990.7h40M1319.6 1000.1h40M1343.2 1020.5V1023.5M1323.2 1020.5h40M1323.2 1023.5h40M1346.9 1005.6V1012.5M1326.9 1005.6h40M1326.9 1012.5h40M1350.4 1014.1V1019.1M1330.4 1014.1h40M1330.4 1019.1h40M1353.9 1007V1013.6M1333.9 1007h40M1333.9 1013.6h40M1357.4 1005.1V1012M1337.4 1005.1h40M1337.4 1012h40M1360.8 1002.3V1009.6M1340.8 1002.3h40M1340.8 1009.6h40M1364.1 996.8V1004.9M1344.1 996.8h40M1344.1 1004.9h40M1367.4 1012.5V1017.7M1347.4 1012.5h40M1347.4 1017.7h40M1370.7 1003.1V1010.2M1350.7 1003.1h40M1350.7 1010.2h40M1373.9 1020.2V1023.1M1353.9 1020.2h40M1353.9 1023.1h40M1377 1023.5V1024.8M1357 1023.5h40M1357 1024.8h40M1380.2 1020.2V1023.1M1360.2 1020.2h40M1360.2 1023.1h40M1383.2 1014V1018.7M1363.2 1014h40M1363.2 1018.7h40M1386.3 1021V1023.5M1366.3 1021h40M1366.3 1023.5h40M1389.3 1016V1020.2M1369.3 1016h40M1369.3 1020.2h40M1392.2 1010.1V1015.5M1372.2 1010.1h40M1372.2 1015.5h40M1395.2 1022.8V1024.5M1375.2 1022.8h40M1375.2 1024.5h40M1398.1 1013.5V1018.2M1378.1 1013.5h40M1378.1 1018.2h40M1400.9 1014.8V1019.1M1380.9 1014.8h40M1380.9 1019.1h40M1403.7 1016.3V1020.3M1383.7 1016.3h40M1383.7 1020.3h40M1406.5 1022.1V1024.1M1386.5 1022.1h40M1386.5 1024.1h40M1409.2 1017.2V1020.9M1389.2 1017.2h40M1389.2 1020.9h40M1412 1014.6V1018.9M1392 1014.6h40M1392 1018.9h40M1414.6 1023.8V1024.9M1394.6 1023.8h40M1394.6 1024.9h40M1417.3 1020.8V1023.3M1397.3 1020.8h40M1397.3 1023.3h40M1419.9 1011V1016M1399.9 1011h40M1399.9 1016h40M1422.5 1013.4V1017.9M1402.5 1013.4h40M1402.5 1017.9h40M1425.1 1015.8V1019.7M1405.1 1015.8h40M1405.1 1019.7h40M1427.6 1021.1V1023.4M1407.6 1021.1h40M1407.6 1023.4h40M1430.1 1012.8V1017.3M1410.1 1012.8h40M1410.1 1017.3h40M1432.6 1020.3V1022.9M1412.6 1020.3h40M1412.6 1022.9h40M1435 1021.7V1023.8M1415 1021.7h40M1415 1023.8h40M1437.5 1022.2V1024.1M1417.5 1022.2h40M1417.5 1024.1h40M1439.9 1014.8V1018.8M1419.9 1014.8h40M1419.9 1018.8h40M1442.2 1020.8V1023.2M1422.2 1020.8h40M1422.2 1023.2h40M1444.6 1016.5V1020.1M1424.6 1016.5h40M1424.6 1020.1h40M1446.9 1013V1017.4M1426.9 1013h40M1426.9 1017.4h40M1449.2 1020.1V1022.7M1429.2 1020.1h40M1429.2 1022.7h40M1451.5 1024V1024.9M1431.5 1024h40M1431.5 1024.9h40M1453.8 1024V1024.9M1433.8 1024h40M1433.8 1024.9h40M1456 1014V1018.1M1436 1014h40M1436 1018.1h40M1458.2 1018.9V1021.8M1438.2 1018.9h40M1438.2 1021.8h40M1460.4 1017.9V1021.1M1440.4 1017.9h40M1440.4 1021.1h40M1462.6 1018.2V1021.3M1442.6 1018.2h40M1442.6 1021.3h40M1464.7 1021V1023.2M1444.7 1021h40M1444.7 1023.2h40M1466.9 1024V1024.8M1446.9 1024h40M1446.9 1024.8h40M1469 1020.5V1022.9M1449 1020.5h40M1449 1022.9h40M1471.1 1021.5V1023.5M1451.1 1021.5h40M1451.1 1023.5h40M1473.1 1021V1023.2M1453.1 1021h40M1453.1 1023.2h40M1475.2 1022.6V1024.2M1455.2 1022.6h40M1455.2 1024.2h40M1477.2 1023.3V1024.6M1457.2 1023.3h40M1457.2 1024.6h40M1479.3 1020.9V1023.1M1459.3 1020.9h40M1459.3 1023.1h40M1481.3 1017.6V1020.7M1461.3 1017.6h40M1461.3 1020.7h40M1483.3 1023.2V1024.5M1463.3 1023.2h40M1463.3 1024.5h40M1485.2 1019.2V1021.9M1465.2 1019.2h40M1465.2 1021.9h40M1487.2 1015.6V1019.1M1467.2 1015.6h40M1467.2 1019.1h40M1489.1 1024.1V1024.8M1469.1 1024.1h40M1469.1 1024.8h40M1491 1020.6V1022.8M1471 1020.6h40M1471 1022.8h40M1492.9 1017.7V1020.8M1472.9 1017.7h40M1472.9 1020.8h40M1494.8 1016.8V1020M1474.8 1016.8h40M1474.8 1020h40M1496.7 1020V1022.4M1476.7 1020h40M1476.7 1022.4h40M1498.5 1024.1V1024.8M1478.5 1024.1h40M1478.5 1024.8h40M1500.4 1023.6V1024.6M1480.4 1023.6h40M1480.4 1024.6h40M1502.2 1013.6V1017.4M1482.2 1013.6h40M1482.2 1017.4h40M1504 1015V1018.5M1484 1015h40M1484 1018.5h40M1505.8 1013V1016.9M1485.8 1013h40M1485.8 1016.9h40M1507.6 1023.5V1024.6M1487.6 1023.5h40M1487.6 1024.6h40M1509.4 1018V1020.9M1489.4 1018h40M1489.4 1020.9h40M1511.1 1024V1024.8M1491.1 1024h40M1491.1 1024.8h40M1512.9 1018.8V1021.4M1492.9 1018.8h40M1492.9 1021.4h40M1514.6 1023.9V1024.8M1494.6 1023.9h40M1494.6 1024.8h40M1516.3 1014.8V1018.3M1496.3 1014.8h40M1496.3 1018.3h40M1518 1012.7V1016.5M1498 1012.7h40M1498 1016.5h40M1519.7 1014.3V1017.8M1499.7 1014.3h40M1499.7 1017.8h40M1521.4 1022.1V1023.8M1501.4 1022.1h40M1501.4 1023.8h40M1523.1 1014V1017.6M1503.1 1014h40M1503.1 1017.6h40M1524.7 1021.6V1023.4M1504.7 1021.6h40M1504.7 1023.4h40M1526.4 1013.5V1017.2M1506.4 1013.5h40M1506.4 1017.2h40M1528 1023.8V1024.7M1508 1023.8h40M1508 1024.7h40M1529.6 1014.7V1018.1M1509.6 1014.7h40M1509.6 1018.1h40M1531.2 1015.1V1018.4M1511.2 1015.1h40M1511.2 1018.4h40M1532.8 1013V1016.7M1512.8 1013h40M1512.8 1016.7h40M1534.4 1013.5V1017.1M1514.4 1013.5h40M1514.4 1017.1h40M1536 1010.7V1014.7M1516 1010.7h40M1516 1014.7h40M1537.5 1015.2V1018.5M1517.5 1015.2h40M1517.5 1018.5h40M1539.1 1015.9V1019M1519.1 1015.9h40M1519.1 1019h40M1540.6 1006V1010.6M1520.6 1006h40M1520.6 1010.6h40M1542.2 1019.3V1021.7M1522.2 1019.3h40M1522.2 1021.7h40M1543.7 1011.2V1015.1M1523.7 1011.2h40M1523.7 1015.1h40M1545.2 1005.6V1010.2M1525.2 1005.6h40M1525.2 1010.2h40M1546.7 1016.5V1019.5M1526.7 1016.5h40M1526.7 1019.5h40M1548.2 1020.4V1022.5M1528.2 1020.4h40M1528.2 1022.5h40M1549.7 1013.3V1016.8M1529.7 1013.3h40M1529.7 1016.8h40M1551.2 1014.2V1017.6M1531.2 1014.2h40M1531.2 1017.6h40M1552.6 1002.9V1007.8M1532.6 1002.9h40M1532.6 1007.8h40M1554.1 1018.6V1021.1M1534.1 1018.6h40M1534.1 1021.1h40M1555.5 1010.1V1014.1M1535.5 1010.1h40M1535.5 1014.1h40M1557 1017V1019.8M1537 1017h40M1537 1019.8h40M1558.4 982.8V989.4M1538.4 982.8h40M1538.4 989.4h40M1559.8 1005.5V1010M1539.8 1005.5h40M1539.8 1010h40M1561.2 1019.1V1021.4M1541.2 1019.1h40M1541.2 1021.4h40M1562.6 1003.5V1008.2M1542.6 1003.5h40M1542.6 1008.2h40M1564 1023.1V1024.3M1544 1023.1h40M1544 1024.3h40M1565.4 1003.2V1007.9M1545.4 1003.2h40M1545.4 1007.9h40M1566.8 1011.1V1014.8M1546.8 1011.1h40M1546.8 1014.8h40M1568.1 1023.5V1024.5M1548.1 1023.5h40M1548.1 1024.5h40M1569.5 1018.6V1021M1549.5 1018.6h40M1549.5 1021h40M1570.8 1004.1V1008.7M1550.8 1004.1h40M1550.8 1008.7h40M1572.2 1017.2V1019.9M1552.2 1017.2h40M1552.2 1019.9h40M1573.5 1006.5V1010.8M1553.5 1006.5h40M1553.5 1010.8h40M1574.9 1015.6V1018.5M1554.9 1015.6h40M1554.9 1018.5h40M1576.2 1007.8V1011.9M1556.2 1007.8h40M1556.2 1011.9h40M1577.5 1006.5V1010.7M1557.5 1006.5h40M1557.5 1010.7h40M1578.8 1004.3V1008.8M1558.8 1004.3h40M1558.8 1008.8h40M1580.1 1015.7V1018.6M1560.1 1015.7h40M1560.1 1018.6h40M1581.4 1014.6V1017.7M1561.4 1014.6h40M1561.4 1017.7h40M1582.7 1017.5V1020.1M1562.7 1017.5h40M1562.7 1020.1h40M1583.9 1022.2V1023.7M1563.9 1022.2h40M1563.9 1023.7h40M1585.2 1023.5V1024.4M1565.2 1023.5h40M1565.2 1024.4h40M1586.5 1011.6V1015.1M1566.5 1011.6h40M1566.5 1015.1h40M1587.7 1003.4V1007.9M1567.7 1003.4h40M1567.7 1007.9h40M1589 1006.3V1010.4M1569 1006.3h40M1569 1010.4h40M1590.2 1011.5V1015M1570.2 1011.5h40M1570.2 1015h40M1591.5 1023.5V1024.4M1571.5 1023.5h40M1571.5 1024.4h40M1592.7 1003.3V1007.7M1572.7 1003.3h40M1572.7 1007.7h40M1593.9 1001.2V1005.8M1573.9 1001.2h40M1573.9 1005.8h40M1595.1 1017.5V1020M1575.1 1017.5h40M1575.1 1020h40M1596.3 1006.4V1010.4M1576.3 1006.4h40M1576.3 1010.4h40M1597.5 1017.6V1020.1M1577.5 1017.6h40M1577.5 1020.1h40M1598.7 1024V1024.7M1578.7 1024h40M1578.7 1024.7h40M1599.9 1020.6V1022.4M1579.9 1020.6h40M1579.9 1022.4h40M1601.1 1021.4V1023M1581.1 1021.4h40M1581.1 1023h40"/>
</g>
<path d="M353.7 978h0M395.5 928.8h0M430.8 852.6h0M461.3 814.4h0M488.3 809.3h0M512.4 715.1h0M534.2 547.3h0M554.1 602.1h0M572.5 369h0M589.4 413.7h0M605.2 375.6h0M620 370.2h0M633.9 344.2h0M646.9 358.2h0M659.3 350.2h0M671.1 449.2h0M682.2 355.2h0M692.9 392.4h0M703.1 432.6h0M712.8 329.6h0M722.1 460.5h0M731.1 299.9h0M739.8 282.8h0M748.1 356.8h0M756.1 381.5h0M763.9 471.2h0M771.4 467.4h0M778.6 399h0M785.7 414.8h0M792.5 327.9h0M799.2 380.9h0M805.6 386.9h0M811.9 438.2h0M818 422.8h0M823.9 418.1h0M829.7 395.4h0M835.4 401.1h0M840.9 384.6h0M846.3 371.8h0M851.5 433h0M856.7 383.2h0M861.7 401.1h0M866.6 487.9h0M871.5 441.2h0M876.2 430.6h0M880.8 430h0M885.3 422.8h0M889.8 427.5h0M894.1 395.4h0M898.4 438.2h0M902.6 378h0M906.7 367.4h0M910.8 402h0M914.8 393h0M918.7 443.5h0M922.5 385.4h0M926.3 420h0M930 402h0M933.7 426.6h0M937.3 430.6h0M940.9 462.4h0M944.4 449.2h0M947.8 453h0M951.2 433h0M954.5 509.6h0M957.8 468.4h0M961.1 500h0M964.3 462.4h0M967.4 496.5h0M970.5 492.3h0M973.6 502.7h0M976.6 505.9h0M979.6 531.2h0M982.6 515.9h0M985.5 573.8h0M988.4 541.5h0M991.2 513h0M994 535.8h0M996.8 526.2h0M999.6 517.2h0M1002.3 511.4h0M1004.9 567.8h0M1007.6 574.4h0M1010.2 552.5h0M1012.8 502.8h0M1015.4 546.6h0M1017.9 550h0M1020.4 528.6h0M1022.9 555.9h0M1025.3 511.4h0M1027.7 556.9h0M1030.1 539h0M1032.5 515.1h0M1034.8 539.7h0M1037.2 533.3h0M1039.5 483.2h0M1041.7 505.1h0M1044 532.1h0M1046.2 559.7h0M1048.4 500.3h0M1050.6 517.3h0M1052.8 517.5h0M1055 519.3h0M1057.1 578.3h0M1059.2 516.1h0M1061.3 545.3h0M1063.4 562.7h0M1065.4 538.4h0M1067.4 584h0M1069.5 585.4h0M1071.5 533.9h0M1073.4 541.7h0M1075.4 565.7h0M1077.4 561.9h0M1079.3 567.7h0M1081.2 575.7h0M1083.1 582.7h0M1085 607.4h0M1086.9 583.4h0M1088.7 611.5h0M1090.5 611.6h0M1092.4 619h0M1094.2 627.8h0M1096 626.5h0M1097.8 633.7h0M1099.5 662.3h0M1101.3 639.8h0M1103 691.3h0M1104.7 679.3h0M1106.5 677.3h0M1108.2 663.4h0M1109.9 664.6h0M1111.5 671.6h0M1113.2 663.9h0M1114.8 680.5h0M1116.5 662.1h0M1118.1 672.4h0M1119.7 714.6h0M1121.3 670.7h0M1122.9 668h0M1124.5 709.2h0M1126.1 682.7h0M1127.7 681.4h0M1129.2 699.7h0M1130.7 674.1h0M1132.3 676.1h0M1133.8 696.2h0M1135.3 690.6h0M1136.8 675.6h0M1138.3 716.1h0M1139.8 702.8h0M1141.3 730.2h0M1142.7 682.5h0M1144.2 718.1h0M1145.6 725.7h0M1147.1 781.4h0M1148.5 731.7h0M1149.9 735.2h0M1151.3 709.8h0M1152.7 723.6h0M1154.1 744.2h0M1155.5 777.6h0M1156.9 762.6h0M1158.2 738.5h0M1159.6 744.6h0M1160.9 710.6h0M1162.3 730.1h0M1163.6 738.4h0M1164.9 737.3h0M1166.3 705.3h0M1167.6 744.6h0M1168.9 739.7h0M1170.2 739.9h0M1171.5 726.9h0M1172.7 736h0M1174 732.8h0M1175.3 730.7h0M1176.5 729.2h0M1177.8 719.8h0M1179 709.3h0M1180.3 749.4h0M1181.5 730.3h0M1182.7 726.7h0M1184 763.5h0M1185.2 838h0M1186.4 749.3h0M1187.6 725.2h0M1188.8 720.3h0M1190 839.9h0M1191.2 739.8h0M1192.3 752.6h0M1193.5 755.6h0M1194.7 739.9h0M1195.8 737.4h0M1197 737.8h0M1198.1 798.6h0M1199.3 785.1h0M1200.4 754.7h0M1201.5 761.7h0M1202.7 730.8h0M1203.8 763.7h0M1204.9 778.8h0M1206 732.5h0M1207.1 767.7h0M1208.2 766.9h0M1209.3 776h0M1210.4 780.5h0M1211.5 754.7h0M1212.5 800.4h0M1213.6 778.6h0M1214.7 844.1h0M1215.7 765.8h0M1216.8 832.6h0M1217.9 834.7h0M1218.9 814.6h0M1219.9 874.5h0M1221 838.8h0M1222 833.2h0M1223 848.7h0M1224.1 806.2h0M1225.1 838.5h0M1226.1 806.3h0M1227.1 809h0M1228.1 855.2h0M1229.1 856.1h0M1230.1 816.5h0M1231.1 877.1h0M1232.1 840.1h0M1233.1 825h0M1234.1 886.8h0M1235 849.9h0M1236 872.7h0M1237 899h0M1237.9 855.2h0M1238.9 873.8h0M1239.9 890.6h0M1240.8 887.7h0M1241.8 894.5h0M1242.7 902h0M1243.6 902.2h0M1244.6 903.6h0M1245.5 891.6h0M1246.4 859.6h0M1247.4 934.5h0M1248.3 935.1h0M1249.2 891.1h0M1250.1 856h0M1251 939.6h0M1251.9 909.4h0M1252.8 884.2h0M1253.7 959.6h0M1254.6 892.3h0M1255.5 871.2h0M1256.4 923.6h0M1257.3 918.9h0M1258.2 943.8h0M1259.1 919h0M1259.9 935.4h0M1260.8 910.8h0M1261.7 893.4h0M1262.5 926h0M1263.4 916.2h0M1264.3 911.7h0M1265.1 939.2h0M1266 928.5h0M1266.8 954.5h0M1267.7 916.6h0M1268.5 945.2h0M1269.4 949.2h0M1270.2 904.9h0M1271 966.1h0M1271.9 950.5h0M1272.7 977.2h0M1273.5 954.4h0M1274.3 919.3h0M1275.2 953.1h0M1276 947.3h0M1276.8 967.9h0M1277.6 940.1h0M1278.4 958.5h0M1279.2 958.7h0M1280 985.6h0M1280.8 961h0M1281.6 968.6h0M1282.4 953.2h0M1283.2 962.2h0M1284 943.6h0M1284.8 940.4h0M1285.5 979.8h0M1286.3 986.6h0M1287.1 992.2h0M1287.9 992.4h0M1288.6 954.9h0M1289.4 972.9h0M1290.2 978.5h0M1290.9 963.6h0M1291.7 948.4h0M1292.5 972.1h0M1293.2 990.3h0M1294 969.2h0M1294.7 977.1h0M1295.5 995.7h0M1296.2 1000h0M1297 1002.8h0M1297.7 958.9h0M1298.4 972.6h0M1299.2 964.1h0M1299.9 1008.8h0M1300.7 988.9h0M1301.4 977.5h0M1302.1 986.9h0M1302.8 979.4h0M1303.6 1007.5h0M1304.3 981.8h0M1305 988.2h0M1305.7 981.6h0M1306.4 996.7h0M1307.1 983.2h0M1307.9 1002.2h0M1308.6 975.5h0M1309.3 1002.8h0M1310 997.4h0M1310.7 987.4h0M1311.4 983.7h0M1312.1 990h0M1312.8 990.3h0M1313.5 994.3h0M1314.1 985.8h0M1314.8 997.5h0M1315.5 985.5h0M1316.2 995.4h0M1316.9 998.1h0M1317.6 995.9h0M1318.2 1018.5h0M1318.9 1016.8h0M1319.6 992h0M1320.3 1007.4h0M1320.9 1007.5h0M1321.6 1009.8h0M1322.3 1006.7h0M1322.9 1001.8h0M1323.6 1005.2h0M1324.3 1002.2h0M1324.9 998.8h0M1325.6 1006.1h0M1326.2 998.1h0M1326.9 1011.9h0M1327.5 1011.4h0M1328.2 1001.5h0M1328.8 1006h0M1329.5 1009.7h0M1330.1 1001.8h0M1330.8 998.8h0M1331.4 1002.8h0M1332 1001.5h0M1332.7 999.9h0M1333.3 1001.3h0M1333.9 1001.4h0M1334.6 1017.2h0M1335.2 1017.3h0M1335.8 1006.9h0M1336.5 1019.9h0M1337.1 1014.6h0M1337.7 1005.3h0M1338.3 1001h0M1338.9 1001.5h0M1339.6 995.4h0M1340.2 1005.1h0M1340.8 1020.7h0M1341.4 1011.9h0M1342 1015.9h0M1342.6 1017.7h0M1343.2 1022h0M1343.8 1007.4h0M1344.4 1014.4h0M1345.1 996.5h0M1345.7 1000.8h0M1346.3 1022.7h0M1346.9 1009h0M1347.4 1023.6h0M1348 1004.5h0M1348.6 1009.9h0M1349.2 1004.5h0M1349.8 1012h0M1350.4 1016.6h0M1351 1006.8h0M1351.6 1011.2h0M1352.2 1003.3h0M1352.8 1001.3h0M1353.3 1000.7h0M1353.9 1010.3h0M1354.5 1008.4h0M1355.1 1006.3h0M1355.6 1004.2h0M1356.2 1002.2h0M1356.8 1013h0M1357.4 1008.6h0M1357.9 1011.7h0M1358.5 1007.7h0M1359.1 1009h0M1359.6 998.6h0M1360.2 1010.4h0M1360.8 1005.9h0M1361.3 1004h0M1361.9 1008h0M1362.4 1014h0M1363 1022.2h0M1363.6 997.9h0M1364.1 1000.9h0M1364.7 1010.6h0M1365.2 1012.2h0M1365.8 1015.1h0M1366.3 1014.1h0M1366.9 1016.3h0M1367.4 1015.1h0M1368 1010.8h0M1368.5 1000.9h0M1369 1023.8h0M1369.6 1017.4h0M1370.1 1023.9h0M1370.7 1006.7h0M1371.2 1004.9h0M1371.7 1011h0M1372.3 1004.6h0M1372.8 1021.3h0M1373.3 1010.4h0M1373.9 1021.6h0M1374.4 1019.1h0M1374.9 1024.1h0M1375.5 1024.1h0M1376 1010.7h0M1376.5 1024.1h0M1377 1024.1h0M1377.6 1024.2h0M1378.1 1019.1h0M1378.6 1024.2h0M1379.1 1022.7h0M1379.6 1012h0M1380.2 1021.6h0M1380.7 1009.8h0M1381.2 1023.9h0M1381.7 1010.4h0M1382.2 1017.7h0M1382.7 1012.1h0M1383.2 1016.4h0M1383.8 1023.9h0M1384.3 1016.5h0M1384.8 1015.6h0M1385.3 1023.7h0M1385.8 1016.7h0M1386.3 1022.3h0M1386.8 1010.9h0M1387.3 1021h0M1387.8 1021.6h0M1388.3 1022.7h0M1388.8 1013.6h0M1389.3 1018.1h0M1389.8 1011.1h0M1390.3 1021.5h0M1390.8 1021.2h0M1391.3 1011.3h0M1391.8 1018.1h0M1392.2 1012.8h0M1392.7 1015.1h0M1393.2 1018.2h0M1393.7 1017h0M1394.2 1013.4h0M1394.7 1012.9h0M1395.2 1023.7h0M1395.6 1024.3h0M1396.1 1015.8h0M1396.6 1023.7h0M1397.1 1017.3h0M1397.6 1019.9h0M1398.1 1015.8h0M1398.5 1021h0M1399 1012.4h0M1399.5 1023.3h0M1400 1016.7h0M1400.4 1013.2h0M1400.9 1017h0M1401.4 1014.7h0M1401.8 1021.1h0M1402.3 1015.7h0M1402.8 1014h0M1403.2 1016.3h0M1403.7 1018.3h0M1404.2 1014.3h0M1404.6 1018.3h0M1405.1 1012.2h0M1405.6 1019h0M1406 1023.1h0M1406.5 1023.1h0M1407 1016.5h0M1407.4 1020.4h0M1407.9 1018.2h0M1408.3 1024.3h0M1408.8 1024.3h0M1409.2 1019.1h0M1409.7 1023.8h0M1410.1 1019h0M1410.6 1019.4h0M1411.1 1020.3h0M1411.5 1023h0M1412 1016.7h0M1412.4 1012.9h0M1412.9 1017.5h0M1413.3 1024.3h0M1413.7 1016.4h0M1414.2 1021.4h0M1414.6 1024.3h0M1415.1 1018h0M1415.5 1013.2h0M1416 1021.8h0M1416.4 1017.5h0M1416.8 1019h0M1417.3 1022h0M1417.7 1024.3h0M1418.2 1018.7h0M1418.6 1021.7h0M1419 1020.7h0M1419.5 1018h0M1419.9 1013.5h0M1420.3 1023.7h0M1420.8 1013.9h0M1421.2 1014.5h0M1421.6 1016.6h0M1422.1 1014.7h0M1422.5 1015.6h0M1422.9 1019.1h0M1423.4 1014.9h0M1423.8 1014.7h0M1424.2 1023h0M1424.6 1018.6h0M1425.1 1017.7h0M1425.5 1015.8h0M1425.9 1024.4h0M1426.3 1020.3h0M1426.8 1015.8h0M1427.2 1015.9h0M1427.6 1022.3h0M1428 1017.2h0M1428.4 1024.4h0M1428.9 1019.8h0M1429.3 1024.4h0M1429.7 1021.9h0M1430.1 1015h0M1430.5 1017.5h0M1430.9 1018.5h0M1431.3 1015.2h0M1431.8 1022.4h0M1432.2 1017.1h0M1432.6 1021.6h0M1433 1020.5h0M1433.4 1019.5h0M1433.8 1020.7h0M1434.2 1014.2h0M1434.6 1022.3h0M1435 1022.8h0M1435.4 1018.6h0M1435.8 1024.4h0M1436.3 1023.2h0M1436.7 1019h0M1437.1 1024.4h0M1437.5 1023.2h0M1437.9 1019.2h0M1438.3 1018.3h0M1438.7 1015.6h0M1439.1 1024.4h0M1439.5 1022.8h0M1439.9 1016.8h0M1440.3 1019.9h0M1440.7 1021.1h0M1441.1 1018.1h0M1441.5 1021.5h0M1441.8 1017.8h0M1442.2 1022h0M1442.6 1019.5h0M1443 1021.7h0M1443.4 1018.4h0M1443.8 1019.1h0M1444.2 1024.4h0M1444.6 1018.3h0M1445 1016h0M1445.4 1024h0M1445.8 1016.7h0M1446.1 1021.9h0M1446.5 1017.5h0M1446.9 1015.2h0M1447.3 1018.5h0M1447.7 1020.1h0M1448.1 1024.4h0M1448.5 1024.4h0M1448.8 1024.4h0M1449.2 1021.4h0M1449.6 1016.2h0M1450 1023.5h0M1450.4 1015h0M1450.7 1015.1h0M1451.1 1021.1h0M1451.5 1024.4h0M1451.9 1016.4h0M1452.3 1020.5h0M1452.6 1016.6h0M1453 1024.4h0M1453.4 1019.2h0M1453.8 1024.4h0M1454.1 1024.4h0M1454.5 1022.2h0M1454.9 1017.3h0M1455.3 1016h0M1455.6 1016h0M1456 1016.1h0M1456.4 1017.3h0M1456.7 1021.9h0M1457.1 1017.5h0M1457.5 1021h0M1457.8 1020.8h0M1458.2 1020.3h0M1458.6 1021.7h0M1458.9 1024.5h0M1459.3 1021h0M1459.7 1020.8h0M1460 1021.5h0M1460.4 1019.5h0M1460.8 1017.5h0M1461.1 1018h0M1461.5 1024.5h0M1461.9 1017.8h0M1462.2 1024.2h0M1462.6 1019.8h0M1462.9 1022.8h0M1463.3 1023.3h0M1463.7 1019h0M1464 1024.5h0M1464.4 1019.3h0M1464.7 1022.1h0M1465.1 1022.1h0M1465.4 1020.8h0M1465.8 1023.4h0M1466.2 1022h0M1466.5 1021.5h0M1466.9 1024.4h0M1467.2 1022.3h0M1467.6 1019.5h0M1467.9 1019.6h0M1468.3 1019.7h0M1468.6 1020h0M1469 1021.7h0M1469.3 1024.6h0M1469.7 1022.5h0M1470 1020.6h0M1470.4 1021.6h0M1470.7 1020.8h0M1471.1 1022.5h0M1471.4 1024.4h0M1471.8 1024.1h0M1472.1 1021.5h0M1472.5 1021.1h0M1472.8 1023.2h0M1473.1 1022.1h0M1473.5 1022h0M1473.8 1024.6h0M1474.2 1023.1h0M1474.5 1023.1h0M1474.9 1022.4h0M1475.2 1023.4h0M1475.5 1019.6h0M1475.9 1022.9h0M1476.2 1021.2h0M1476.6 1023.3h0M1476.9 1022.8h0M1477.2 1023.9h0M1477.6 1020.9h0M1477.9 1020.3h0M1478.3 1021.2h0M1478.6 1024.4h0M1478.9 1020.3h0M1479.3 1022h0M1479.6 1019.4h0M1479.9 1019.8h0M1480.3 1019.3h0M1480.6 1018.9h0M1480.9 1020.1h0M1481.3 1019.1h0M1481.6 1024.5h0M1481.9 1023h0M1482.3 1021.4h0M1482.6 1019.1h0M1482.9 1020.8h0M1483.3 1023.8h0M1483.6 1024.5h0M1483.9 1022.4h0M1484.2 1023.4h0M1484.6 1023.7h0M1484.9 1017.8h0M1485.2 1020.6h0M1485.5 1020.2h0M1485.9 1023.1h0M1486.2 1024.5h0M1486.5 1022.6h0M1486.8 1022.4h0M1487.2 1017.3h0M1487.5 1019.9h0M1487.8 1019.4h0M1488.1 1022.7h0M1488.5 1019.2h0M1488.8 1024h0M1489.1 1024.5h0M1489.4 1024.4h0M1489.7 1024.5h0M1490.1 1020h0M1490.4 1020.2h0M1490.7 1021.3h0M1491 1021.7h0M1491.3 1022.9h0M1491.7 1017.8h0M1492 1019.9h0M1492.3 1019.9h0M1492.6 1017.9h0M1492.9 1019.2h0M1493.2 1022.8h0M1493.6 1023.5h0M1493.9 1019.4h0M1494.2 1016.5h0M1494.5 1024.5h0M1494.8 1018.4h0M1495.1 1018.4h0M1495.4 1016.4h0M1495.7 1020h0M1496.1 1020.6h0M1496.4 1018.2h0M1496.7 1021.2h0M1497 1024.5h0M1497.3 1022.6h0M1497.6 1017.1h0M1497.9 1017.7h0M1498.2 1021.7h0M1498.5 1024.4h0M1498.8 1019.5h0M1499.2 1016h0M1499.5 1017.3h0M1499.8 1020.3h0M1500.1 1021.7h0M1500.4 1024.1h0M1500.7 1020.1h0M1501 1016.9h0M1501.3 1016.8h0M1501.6 1023.7h0M1501.9 1017.4h0M1502.2 1015.5h0M1502.5 1022.3h0M1502.8 1018h0M1503.1 1017.1h0M1503.4 1019.5h0M1503.7 1021.8h0M1504 1016.7h0M1504.3 1022.4h0M1504.6 1024.4h0M1504.9 1020.4h0M1505.2 1021.4h0M1505.5 1020.7h0M1505.8 1014.9h0M1506.1 1017.9h0M1506.4 1020.6h0M1506.7 1019.4h0M1507 1021.4h0M1507.3 1018.7h0M1507.6 1024.1h0M1507.9 1014.7h0M1508.2 1022.2h0M1508.5 1014.9h0M1508.8 1021.9h0M1509.1 1023h0M1509.4 1019.5h0M1509.7 1019.1h0M1510 1019.8h0M1510.2 1022.2h0M1510.5 1021.4h0M1510.8 1020.6h0M1511.1 1024.4h0M1511.4 1020.4h0M1511.7 1015.9h0M1512 1020.3h0M1512.3 1013.8h0M1512.6 1021.4h0M1512.9 1020.1h0M1513.2 1024.2h0M1513.4 1021.5h0M1513.7 1020.5h0M1514 1017.8h0M1514.3 1018.2h0M1514.6 1024.3h0M1514.9 1016.6h0M1515.2 1018h0M1515.5 1022.8h0M1515.7 1023.8h0M1516 1021.9h0M1516.3 1016.5h0M1516.6 1013h0M1516.9 1022.4h0M1517.2 1020.2h0M1517.5 1014.3h0M1517.7 1017.7h0M1518 1014.6h0M1518.3 1020.2h0M1518.6 1012.6h0M1518.9 1018.6h0M1519.1 1019.3h0M1519.4 1024.3h0M1519.7 1016h0M1520 995.5h0M1520.3 1016.8h0M1520.5 1022.1h0M1520.8 1015.8h0M1521.1 1018h0M1521.4 1023h0M1521.7 1017.1h0M1521.9 1012h0M1522.2 1024.1h0M1522.5 1017.6h0M1522.8 1011.9h0M1523.1 1015.8h0M1523.3 1020.5h0M1523.6 984.2h0M1523.9 1018h0M1524.2 1014.2h0M1524.4 1016.2h0M1524.7 1022.5h0M1525 1023.1h0M1525.3 1020.3h0M1525.5 1019.2h0M1525.8 1018.3h0M1526.1 1020.3h0M1526.4 1015.4h0M1526.6 1016.5h0M1526.9 1013h0M1527.2 1024.2h0M1527.4 1018.6h0M1527.7 1014.1h0M1528 1024.2h0M1528.3 1013.8h0M1528.5 1017.5h0M1528.8 1021.9h0M1529.1 1019.7h0M1529.3 1018.1h0M1529.6 1016.4h0M1529.9 1014.8h0M1530.1 1016.2h0M1530.4 1023.3h0M1530.7 1010.1h0M1530.9 1016h0M1531.2 1016.7h0M1531.5 1023.1h0M1531.7 1016.7h0M1532 1019.7h0M1532.3 1021.2h0M1532.5 1019.4h0M1532.8 1014.9h0M1533.1 1012.9h0M1533.3 1019.7h0M1533.6 1011.8h0M1533.9 1010.8h0M1534.1 1009.6h0M1534.4 1015.3h0M1534.7 1014.2h0M1534.9 1011.8h0M1535.2 1016.5h0M1535.4 1010.7h0M1535.7 1020.9h0M1536 1012.7h0M1536.2 1017.7h0M1536.5 1012.2h0M1536.8 1008.7h0M1537 1024.2h0M1537.3 1014.2h0M1537.5 1016.8h0M1537.8 1024.1h0M1538.1 1011.5h0M1538.3 1024.1h0M1538.6 1019.7h0M1538.8 1009.3h0M1539.1 1017.5h0M1539.3 1018.2h0M1539.6 1012.1h0M1539.9 1016.5h0M1540.1 1017.6h0M1540.4 1011.5h0M1540.6 1008.3h0M1540.9 1017.7h0M1541.1 1016.8h0M1541.4 1007.6h0M1541.7 1013.5h0M1541.9 1016.6h0M1542.2 1020.5h0M1542.4 1024.1h0M1542.7 1010.5h0M1542.9 1007.2h0M1543.2 1012.2h0M1543.4 1020.4h0M1543.7 1013.1h0M1543.9 1016.8h0M1544.2 1015.8h0M1544.4 1012.1h0M1544.7 1021.1h0M1544.9 1016.1h0M1545.2 1007.9h0M1545.4 1020.9h0M1545.7 1018.4h0M1546 1024.1h0M1546.2 1014.3h0M1546.5 1008.7h0M1546.7 1018h0M1547 1011h0M1547.2 1015.6h0M1547.4 1020.1h0M1547.7 1010.4h0M1547.9 1011.6h0M1548.2 1021.4h0M1548.4 1018.8h0M1548.7 1019.7h0M1548.9 1022.8h0M1549.2 1014.2h0M1549.4 1007h0M1549.7 1015h0M1549.9 1019h0M1550.2 1021.8h0M1550.4 1022.4h0M1550.7 1022.7h0M1550.9 992.7h0M1551.2 1015.9h0M1551.4 1018.8h0M1551.6 1012.6h0M1551.9 1012.2h0M1552.1 1013h0M1552.4 1015.3h0M1552.6 1005.3h0M1552.9 1022.3h0M1553.1 1021.6h0M1553.3 1022.7h0M1553.6 1024h0M1553.8 1017.2h0M1554.1 1019.8h0M1554.3 1019.7h0M1554.6 1012.2h0M1554.8 1019.2h0M1555 1013.5h0M1555.3 1009.1h0M1555.5 1012.1h0M1555.8 1011h0M1556 1020.2h0M1556.2 1018.5h0M1556.5 1005.3h0M1556.7 1005.2h0M1557 1018.4h0M1557.2 1024h0M1557.4 1015.8h0M1557.7 1019.7h0M1557.9 1017.8h0M1558.1 1011.4h0M1558.4 986.1h0M1558.6 1020.3h0M1558.9 1014.8h0M1559.1 1013.7h0M1559.3 1007.1h0M1559.6 1021.7h0M1559.8 1007.7h0M1560 1018.7h0M1560.3 1007.1h0M1560.5 1013.8h0M1560.7 1017.1h0M1561 1016.5h0M1561.2 1020.2h0M1561.4 1017.7h0M1561.7 1016h0M1561.9 1012.2h0M1562.1 1017.5h0M1562.4 1014h0M1562.6 1005.9h0M1562.8 1007.4h0M1563.1 1010.1h0M1563.3 1022.5h0M1563.5 1015h0M1563.8 1011.3h0M1564 1023.7h0M1564.2 1010.2h0M1564.5 1007.5h0M1564.7 1013.7h0M1564.9 1010h0M1565.2 1010.5h0M1565.4 1005.5h0M1565.6 1009.8h0M1565.8 1021.1h0M1566.1 1024h0M1566.3 1006.1h0M1566.5 1013.8h0M1566.8 1013h0M1567 1016.2h0M1567.2 1013.9h0M1567.4 1009h0M1567.7 1020h0M1567.9 1006.9h0M1568.1 1024h0M1568.4 1016.4h0M1568.6 1016.2h0M1568.8 1016.5h0M1569 1023.5h0M1569.3 1022.4h0M1569.5 1019.8h0M1569.7 1024h0M1569.9 1007.5h0M1570.2 1013.4h0M1570.4 1008.9h0M1570.6 1024h0M1570.8 1006.4h0M1571.1 1016.6h0M1571.3 1014h0M1571.5 1016.2h0M1571.7 1008.6h0M1572 1020.9h0M1572.2 1018.5h0M1572.4 1015.6h0M1572.6 1019.3h0M1572.9 1015.1h0M1573.1 1008.9h0M1573.3 1012.1h0M1573.5 1008.7h0M1573.7 1007.5h0M1574 1024h0M1574.2 1018.1h0M1574.4 1012.6h0M1574.6 1014.4h0M1574.9 1017.1h0M1575.1 1017.8h0M1575.3 1021.5h0M1575.5 1015.4h0M1575.7 1005.5h0M1576 1010.3h0M1576.2 1009.9h0M1576.4 1024h0M1576.6 1008.6h0M1576.8 1024h0M1577 1017.5h0M1577.3 1019.5h0M1577.5 1008.6h0M1577.7 1011.5h0M1577.9 998.4h0M1578.1 1013.4h0M1578.4 1009.3h0M1578.6 1005.6h0M1578.8 1006.6h0M1579 1009.5h0M1579.2 1021.9h0M1579.4 1014.4h0M1579.7 1011.8h0M1579.9 1024h0M1580.1 1017.1h0M1580.3 1022.5h0M1580.5 1008.3h0M1580.7 1010.9h0M1580.9 1013.8h0M1581.2 1009.1h0M1581.4 1016.2h0M1581.6 1005.6h0M1581.8 1011h0M1582 1024h0M1582.2 1020h0M1582.4 1006.6h0M1582.7 1018.8h0M1582.9 1015.7h0M1583.1 1014.9h0M1583.3 1012.6h0M1583.5 1015.7h0M1583.7 1023.1h0M1583.9 1023h0M1584.2 1019.3h0M1584.4 1005.6h0M1584.6 1024h0M1584.8 1020.9h0M1585 1021.1h0M1585.2 1023.9h0M1585.4 1021.7h0M1585.6 1021.1h0M1585.8 1011.1h0M1586.1 1011.9h0M1586.3 1018.5h0M1586.5 1013.4h0M1586.7 1016h0M1586.9 1008.2h0M1587.1 1005.6h0M1587.3 1005.6h0M1587.5 1010.2h0M1587.7 1005.6h0M1587.9 1014.8h0M1588.1 1009.2h0M1588.4 1020h0M1588.6 1021.8h0M1588.8 1005.6h0M1589 1008.3h0M1589.2 1012.2h0M1589.4 1019.3h0M1589.6 1019.5h0M1589.8 1013h0M1590 1021.8h0M1590.2 1013.3h0M1590.4 1008.2h0M1590.6 1005.1h0M1590.8 1004.9h0M1591 1016.8h0M1591.2 1007.4h0M1591.5 1024h0M1591.7 1015.7h0M1591.9 1011h0M1592.1 1003.4h0M1592.3 1019.9h0M1592.5 1016.2h0M1592.7 1005.5h0M1592.9 1023.9h0M1593.1 1014.5h0M1593.3 1012.9h0M1593.5 1020.6h0M1593.7 1009.3h0M1593.9 1003.5h0M1594.1 1013.8h0M1594.3 1023.9h0M1594.5 1003.6h0M1594.7 1016h0M1594.9 1012.9h0M1595.1 1018.8h0M1595.3 1020.3h0M1595.5 1011.7h0M1595.7 1024h0M1595.9 1014.7h0M1596.1 1018.1h0M1596.3 1008.4h0M1596.5 1024.1h0M1596.7 1012.3h0M1596.9 1010.5h0M1597.1 1009.7h0M1597.3 1012.5h0M1597.5 1018.8h0M1597.7 1021.6h0M1597.9 1015.9h0M1598.1 1021.7h0M1598.3 1014.6h0M1598.5 1016.1h0M1598.7 1024.4h0M1598.9 1016.9h0M1599.1 1019h0M1599.3 1017.5h0M1599.5 1022.6h0M1599.7 1020.1h0M1599.9 1021.5h0M1600.1 1019.6h0M1600.3 1020.1h0M1600.5 1024.6h0M1600.7 1021.7h0M1600.9 1023.4h0M1601.1 1022.2h0" stroke="#000" stroke-width="9.8" stroke-linecap="round"/>
<g stroke="#ff0000" stroke-opacity="0.33" stroke-width="3.4">
<path d="M395.5 791.6V951.6M375.5 791.6h40M375.5 951.6h40M554.1 1017.2V1029.4M534.1 1017.2h40M534.1 1029.4h40M646.9 758.6V854M626.9 758.6h40M626.9 854h40M712.8 344.9V402.9M692.8 344.9h40M692.8 402.9h40M763.9 478.5V543.9M743.9 478.5h40M743.9 543.9h40M805.6 366.8V414.6M785.6 366.8h40M785.6 414.6h40M840.9 395.7V442.9M820.9 395.7h40M820.9 442.9h40M871.5 421.7V468.2M851.5 421.7h40M851.5 468.2h40M898.4 404.5V446.7M878.4 404.5h40M878.4 446.7h40M922.5 370.8V407.6M902.5 370.8h40M902.5 407.6h40M944.4 427.4V467.2M924.4 427.4h40M924.4 467.2h40M964.3 446.5V485.9M944.3 446.5h40M944.3 485.9h40M982.6 526.1V568.5M962.6 526.1h40M962.6 568.5h40M999.6 506.7V546.6M979.6 506.7h40M979.6 546.6h40M1015.4 527.8V567.2M995.4 527.8h40M995.4 567.2h40M1030.1 548.1V587.1M1010.1 548.1h40M1010.1 587.1h40M1044 500.6V536.4M1024 500.6h40M1024 536.4h40M1057.1 537.5V573.8M1037.1 537.5h40M1037.1 573.8h40M1069.5 551.4V587.3M1049.5 551.4h40M1049.5 587.3h40M1081.2 582.7V618.5M1061.2 582.7h40M1061.2 618.5h40M1092.4 599V634.4M1072.4 599h40M1072.4 634.4h40M1103 665V700.6M1083 665h40M1083 700.6h40M1113.2 644.5V679.1M1093.2 644.5h40M1093.2 679.1h40M1122.9 644.7V678.6M1102.9 644.7h40M1102.9 678.6h40M1132.3 653.1V686.4M1112.3 653.1h40M1112.3 686.4h40M1141.3 701.8V734.6M1121.3 701.8h40M1121.3 734.6h40M1149.9 718.4V750.5M1129.9 718.4h40M1129.9 750.5h40M1158.2 713.1V744.7M1138.2 713.1h40M1138.2 744.7h40M1166.3 688.9V720M1146.3 688.9h40M1146.3 720h40M1174 703.8V734.3M1154 703.8h40M1154 734.3h40M1181.5 717.4V747.3M1161.5 717.4h40M1161.5 747.3h40M1188.8 705.5V735.1M1168.8 705.5h40M1168.8 735.1h40M1195.8 730.6V759.6M1175.8 730.6h40M1175.8 759.6h40M1202.7 721.8V750.4M1182.7 721.8h40M1182.7 750.4h40M1209.3 761.9V789.7M1189.3 761.9h40M1189.3 789.7h40M1215.7 753.1V780.6M1195.7 753.1h40M1195.7 780.6h40M1222 818.9V844.6M1202 818.9h40M1202 844.6h40M1228.1 845V869.4M1208.1 845h40M1208.1 869.4h40M1234.1 878.7V901.2M1214.1 878.7h40M1214.1 901.2h40M1239.9 885.3V907.2M1219.9 885.3h40M1219.9 907.2h40M1245.5 897.8V918.7M1225.5 897.8h40M1225.5 918.7h40M1251 922.4V941.4M1231 922.4h40M1231 941.4h40M1256.4 919V938M1236.4 919h40M1236.4 938h40M1261.7 884.1V905.1M1241.7 884.1h40M1241.7 905.1h40M1266.8 940.9V957.8M1246.8 940.9h40M1246.8 957.8h40M1271.9 945.6V961.9M1251.9 945.6h40M1251.9 961.9h40M1276.8 966V980.1M1256.8 966h40M1256.8 980.1h40M1281.6 984.9V996.4M1261.6 984.9h40M1261.6 996.4h40M1286.3 995.1V1004.9M1266.3 995.1h40M1266.3 1004.9h40M1290.9 963.3V977.2M1270.9 963.3h40M1270.9 977.2h40M1295.5 996.5V1005.8M1275.5 996.5h40M1275.5 1005.8h40M1299.9 1008.2V1015.2M1279.9 1008.2h40M1279.9 1015.2h40M1304.3 978V989.9M1284.3 978h40M1284.3 989.9h40M1308.6 981.3V992.6M1288.6 981.3h40M1288.6 992.6h40M1312.8 988.8V999.1M1292.8 988.8h40M1292.8 999.1h40M1316.9 994.4V1003.7M1296.9 994.4h40M1296.9 1003.7h40M1320.9 999.5V1007.9M1300.9 999.5h40M1300.9 1007.9h40M1324.9 992.4V1001.9M1304.9 992.4h40M1304.9 1001.9h40M1328.8 999.8V1008.1M1308.8 999.8h40M1308.8 1008.1h40M1332.7 996.3V1005.1M1312.7 996.3h40M1312.7 1005.1h40M1336.5 1015.4V1020.2M1316.5 1015.4h40M1316.5 1020.2h40M1340.2 1007.5V1014.1M1320.2 1007.5h40M1320.2 1014.1h40M1343.8 1002.7V1010.2M1323.8 1002.7h40M1323.8 1010.2h40M1347.4 1017.8V1021.8M1327.4 1017.8h40M1327.4 1021.8h40M1351 1001.3V1008.9M1331 1001.3h40M1331 1008.9h40M1354.5 1004.6V1011.6M1334.5 1004.6h40M1334.5 1011.6h40M1357.9 1012.6V1017.9M1337.9 1012.6h40M1337.9 1017.9h40M1361.3 999.7V1007.5M1341.3 999.7h40M1341.3 1007.5h40M1364.7 1008.2V1014.3M1344.7 1008.2h40M1344.7 1014.3h40M1368 1015.2V1019.7M1348 1015.2h40M1348 1019.7h40M1371.2 1003.5V1010.4M1351.2 1003.5h40M1351.2 1010.4h40M1374.4 1018.1V1021.7M1354.4 1018.1h40M1354.4 1021.7h40M1377.6 1017.6V1021.4M1357.6 1017.6h40M1357.6 1021.4h40M1380.7 1010V1015.6M1360.7 1010h40M1360.7 1015.6h40M1383.8 1020.9V1023.5M1363.8 1020.9h40M1363.8 1023.5h40M1386.8 1012.4V1017.4M1366.8 1012.4h40M1366.8 1017.4h40M1389.8 1010.4V1015.9M1369.8 1010.4h40M1369.8 1015.9h40M1392.7 1014.3V1018.8M1372.7 1014.3h40M1372.7 1018.8h40M1395.6 1021.1V1023.6M1375.6 1021.1h40M1375.6 1023.6h40M1398.5 1017.4V1021.1M1378.5 1017.4h40M1378.5 1021.1h40M1401.4 1012.9V1017.7M1381.4 1012.9h40M1381.4 1017.7h40M1404.2 1013.1V1017.8M1384.2 1013.1h40M1384.2 1017.8h40M1407 1017.3V1020.9M1387 1017.3h40M1387 1020.9h40M1409.7 1020.4V1023.1M1389.7 1020.4h40M1389.7 1023.1h40M1412.4 1010.5V1015.7M1392.4 1010.5h40M1392.4 1015.7h40M1415.1 1017V1020.7M1395.1 1017h40M1395.1 1020.7h40M1417.7 1021.5V1023.7M1397.7 1021.5h40M1397.7 1023.7h40M1420.3 1021.2V1023.5M1400.3 1021.2h40M1400.3 1023.5h40M1422.9 1017.8V1021.2M1402.9 1017.8h40M1402.9 1021.2h40M1425.5 1014.2V1018.5M1405.5 1014.2h40M1405.5 1018.5h40M1428 1012.6V1017.2M1408 1012.6h40M1408 1017.2h40M1430.5 1014.2V1018.4M1410.5 1014.2h40M1410.5 1018.4h40M1433 1020V1022.7M1413 1020h40M1413 1022.7h40M1435.4 1015.2V1019.2M1415.4 1015.2h40M1415.4 1019.2h40M1437.9 1019.7V1022.5M1417.9 1019.7h40M1417.9 1022.5h40M1440.3 1019.8V1022.5M1420.3 1019.8h40M1420.3 1022.5h40M1442.6 1018V1021.2M1422.6 1018h40M1422.6 1021.2h40M1445 1014.4V1018.5M1425 1014.4h40M1425 1018.5h40M1447.3 1017.5V1020.8M1427.3 1017.5h40M1427.3 1020.8h40M1449.6 1013.7V1017.9M1429.6 1013.7h40M1429.6 1017.9h40M1451.9 1015.7V1019.4M1431.9 1015.7h40M1431.9 1019.4h40M1454.1 1023V1024.5M1434.1 1023h40M1434.1 1024.5h40M1456.4 1016.2V1019.8M1436.4 1016.2h40M1436.4 1019.8h40M1458.6 1019.2V1022M1438.6 1019.2h40M1438.6 1022h40M1460.8 1016V1019.6M1440.8 1016h40M1440.8 1019.6h40M1462.9 1021.4V1023.5M1442.9 1021.4h40M1442.9 1023.5h40M1465.1 1020.1V1022.6M1445.1 1020.1h40M1445.1 1022.6h40M1467.2 1022.6V1024.2M1447.2 1022.6h40M1447.2 1024.2h40M1469.3 1023.8V1024.8M1449.3 1023.8h40M1449.3 1024.8h40M1471.4 1024.3V1024.9M1451.4 1024.3h40M1451.4 1024.9h40M1473.5 1019V1021.8M1453.5 1019h40M1453.5 1021.8h40M1475.5 1018.9V1021.7M1455.5 1018.9h40M1455.5 1021.7h40M1477.6 1019.5V1022.1M1457.6 1019.5h40M1457.6 1022.1h40M1479.6 1019.1V1021.9M1459.6 1019.1h40M1459.6 1021.9h40M1481.6 1022.8V1024.3M1461.6 1022.8h40M1461.6 1024.3h40M1483.6 1023.9V1024.8M1463.6 1023.9h40M1463.6 1024.8h40M1485.5 1020.8V1023M1465.5 1020.8h40M1465.5 1023h40M1487.5 1017.7V1020.8M1467.5 1017.7h40M1467.5 1020.8h40M1489.4 1023.4V1024.6M1469.4 1023.4h40M1469.4 1024.6h40M1491.3 1021.3V1023.3M1471.3 1021.3h40M1471.3 1023.3h40M1493.2 1022.6V1024.2M1473.2 1022.6h40M1473.2 1024.2h40M1495.1 1017.8V1020.8M1475.1 1017.8h40M1475.1 1020.8h40M1497 1022.9V1024.3M1477 1022.9h40M1477 1024.3h40M1498.8 1017.3V1020.3M1478.8 1017.3h40M1478.8 1020.3h40M1500.7 1020.8V1022.9M1480.7 1020.8h40M1480.7 1022.9h40M1502.5 1018V1020.9M1482.5 1018h40M1482.5 1020.9h40M1504.3 1021.3V1023.3M1484.3 1021.3h40M1484.3 1023.3h40M1506.1 1018.9V1021.6M1486.1 1018.9h40M1486.1 1021.6h40M1507.9 1015.7V1019.1M1487.9 1015.7h40M1487.9 1019.1h40M1509.7 1017.8V1020.7M1489.7 1017.8h40M1489.7 1020.7h40M1511.4 1020.4V1022.7M1491.4 1020.4h40M1491.4 1022.7h40M1513.2 1023.1V1024.4M1493.2 1023.1h40M1493.2 1024.4h40M1514.9 1017.4V1020.4M1494.9 1017.4h40M1494.9 1020.4h40M1516.6 1014.4V1018M1496.6 1014.4h40M1496.6 1018h40M1518.3 1022V1023.7M1498.3 1022h40M1498.3 1023.7h40M1520 1019.8V1022.2M1500 1019.8h40M1500 1022.2h40M1521.7 1018.9V1021.5M1501.7 1018.9h40M1501.7 1021.5h40M1523.3 1020.6V1022.7M1503.3 1020.6h40M1503.3 1022.7h40M1525 1022.5V1024M1505 1022.5h40M1505 1024h40M1526.6 1018.7V1021.3M1506.6 1018.7h40M1506.6 1021.3h40M1528.3 1013.9V1017.5M1508.3 1013.9h40M1508.3 1017.5h40M1529.9 1016.2V1019.3M1509.9 1016.2h40M1509.9 1019.3h40M1531.5 1023.9V1024.7M1511.5 1023.9h40M1511.5 1024.7h40M1533.1 1016.9V1019.9M1513.1 1016.9h40M1513.1 1019.9h40M1534.7 1013.3V1016.9M1514.7 1013.3h40M1514.7 1016.9h40M1536.2 1015.6V1018.8M1516.2 1015.6h40M1516.2 1018.8h40M1537.8 1016.5V1019.5M1517.8 1016.5h40M1517.8 1019.5h40M1539.3 1018.6V1021.2M1519.3 1018.6h40M1519.3 1021.2h40M1540.9 1018.3V1020.9M1520.9 1018.3h40M1520.9 1020.9h40M1542.4 1019.7V1022M1522.4 1019.7h40M1522.4 1022h40M1543.9 1019.6V1021.9M1523.9 1019.6h40M1523.9 1021.9h40M1545.4 1019.8V1022.1M1525.4 1019.8h40M1525.4 1022.1h40M1547 1013.8V1017.2M1527 1013.8h40M1527 1017.2h40M1548.4 1019.5V1021.8M1528.4 1019.5h40M1528.4 1021.8h40M1549.9 1017.7V1020.4M1529.9 1017.7h40M1529.9 1020.4h40M1551.4 1014V1017.4M1531.4 1014h40M1531.4 1017.4h40M1552.9 1021.8V1023.4M1532.9 1021.8h40M1532.9 1023.4h40M1554.3 1016.3V1019.2M1534.3 1016.3h40M1534.3 1019.2h40M1555.8 1007.7V1012M1535.8 1007.7h40M1535.8 1012h40M1557.2 1022V1023.6M1537.2 1022h40M1537.2 1023.6h40M1558.6 1014.3V1017.6M1538.6 1014.3h40M1538.6 1017.6h40M1560 1019.3V1021.6M1540 1019.3h40M1540 1021.6h40M1561.4 1015.6V1018.6M1541.4 1015.6h40M1541.4 1018.6h40M1562.8 1007V1011.3M1542.8 1007h40M1542.8 1011.3h40M1564.2 1009.2V1013.2M1544.2 1009.2h40M1544.2 1013.2h40M1565.6 1013.3V1016.7M1545.6 1013.3h40M1545.6 1016.7h40M1567 1014.6V1017.8M1547 1014.6h40M1547 1017.8h40M1568.4 1015.3V1018.4M1548.4 1015.3h40M1548.4 1018.4h40M1569.7 1021.9V1023.5M1549.7 1021.9h40M1549.7 1023.5h40M1571.1 1015V1018.1M1551.1 1015h40M1551.1 1018.1h40M1572.4 1011.4V1015.1M1552.4 1011.4h40M1552.4 1015.1h40M1573.7 1012.8V1016.3M1553.7 1012.8h40M1553.7 1016.3h40M1575.1 1021V1022.8M1555.1 1021h40M1555.1 1022.8h40M1576.4 1023.1V1024.2M1556.4 1023.1h40M1556.4 1024.2h40M1577.7 1008.2V1012.3M1557.7 1008.2h40M1557.7 1012.3h40M1579 1014.7V1017.8M1559 1014.7h40M1559 1017.8h40M1580.3 1020.2V1022.2M1560.3 1020.2h40M1560.3 1022.2h40M1581.6 1007.7V1011.7M1561.6 1007.7h40M1561.6 1011.7h40M1582.9 1015.9V1018.7M1562.9 1015.9h40M1562.9 1018.7h40M1584.2 1019.6V1021.7M1564.2 1019.6h40M1564.2 1021.7h40M1585.4 1019.2V1021.4M1565.4 1019.2h40M1565.4 1021.4h40M1586.7 1011.6V1015.1M1566.7 1011.6h40M1566.7 1015.1h40M1587.9 1014.9V1017.9M1567.9 1014.9h40M1567.9 1017.9h40M1589.2 1010.6V1014.3M1569.2 1010.6h40M1569.2 1014.3h40M1590.4 1005.2V1009.4M1570.4 1005.2h40M1570.4 1009.4h40M1591.7 1013.5V1016.7M1571.7 1013.5h40M1571.7 1016.7h40M1592.9 1022.7V1023.9M1572.9 1022.7h40M1572.9 1023.9h40M1594.1 1005.9V1010M1574.1 1005.9h40M1574.1 1010h40M1595.3 1020.3V1022.2M1575.3 1020.3h40M1575.3 1022.2h40M1596.5 1021.7V1023.2M1576.5 1021.7h40M1576.5 1023.2h40M1597.7 1022.1V1023.5M1577.7 1022.1h40M1577.7 1023.5h40M1598.9 1016.3V1019M1578.9 1016.3h40M1578.9 1019h40M1600.1 1019.7V1021.7M1580.1 1019.7h40M1580.1 1021.7h40"/>
<path d="M430.8 1008.2V1035.2M410.8 1008.2h40M410.8 1035.2h40M572.5 1014.8V1029.9M552.5 1014.8h40M552.5 1029.9h40M659.3 776.7V869.1M639.3 776.7h40M639.3 869.1h40M722.1 508.6V584.6M702.1 508.6h40M702.1 584.6h40M771.4 459.2V524M751.4 459.2h40M751.4 524h40M811.9 426.9V480.9M791.9 426.9h40M791.9 480.9h40M846.3 361.7V404.6M826.3 361.7h40M826.3 404.6h40M876.2 411.9V456.9M856.2 411.9h40M856.2 456.9h40M902.6 362.9V400.6M882.6 362.9h40M882.6 400.6h40M926.3 404.1V443.6M906.3 404.1h40M906.3 443.6h40M947.8 438.5V478.8M927.8 438.5h40M927.8 478.8h40M967.4 450.2V489.6M947.4 450.2h40M947.4 489.6h40M985.5 536.4V579M965.5 536.4h40M965.5 579h40M1002.3 495.9V535M982.3 495.9h40M982.3 535h40M1017.9 517.6V556.3M997.9 517.6h40M997.9 556.3h40M1032.5 470.4V505.5M1012.5 470.4h40M1012.5 505.5h40M1046.2 550.6V588.4M1026.2 550.6h40M1026.2 588.4h40M1059.2 506.7V541.6M1039.2 506.7h40M1039.2 541.6h40M1071.5 496.6V530M1051.5 496.6h40M1051.5 530h40M1083.1 550.5V585.2M1063.1 550.5h40M1063.1 585.2h40M1094.2 605V640.4M1074.2 605h40M1074.2 640.4h40M1104.7 668.5V704M1084.7 668.5h40M1084.7 704h40M1114.8 660.8V695.5M1094.8 660.8h40M1094.8 695.5h40M1124.5 683V717.1M1104.5 683h40M1104.5 717.1h40M1133.8 681.5V714.9M1113.8 681.5h40M1113.8 714.9h40M1142.7 660.1V692.6M1122.7 660.1h40M1122.7 692.6h40M1151.3 690.7V722.8M1131.3 690.7h40M1131.3 722.8h40M1159.6 729.3V760.6M1139.6 729.3h40M1139.6 760.6h40M1167.6 725.6V756.4M1147.6 725.6h40M1147.6 756.4h40M1175.3 707.8V738.2M1155.3 707.8h40M1155.3 738.2h40M1182.7 709V738.9M1162.7 709h40M1162.7 738.9h40M1190 822.4V849.8M1170 822.4h40M1170 849.8h40M1197 725.9V754.8M1177 725.9h40M1177 754.8h40M1203.8 753.1V781.3M1183.8 753.1h40M1183.8 781.3h40M1210.4 764.1V791.8M1190.4 764.1h40M1190.4 791.8h40M1216.8 825.5V851.3M1196.8 825.5h40M1196.8 851.3h40M1223 845.9V870.6M1203 845.9h40M1203 870.6h40M1229.1 843.6V868.1M1209.1 843.6h40M1209.1 868.1h40M1235 838.2V862.6M1215 838.2h40M1215 862.6h40M1240.8 861.2V884.3M1220.8 861.2h40M1220.8 884.3h40M1246.4 849.7V873M1226.4 849.7h40M1226.4 873h40M1251.9 897.9V918.5M1231.9 897.9h40M1231.9 918.5h40M1257.3 910.7V930.3M1237.3 910.7h40M1237.3 930.3h40M1262.5 915.9V934.9M1242.5 915.9h40M1242.5 934.9h40M1267.7 903.5V923.1M1247.7 903.5h40M1247.7 923.1h40M1272.7 960.4V975.2M1252.7 960.4h40M1252.7 975.2h40M1277.6 932.6V949.8M1257.6 932.6h40M1257.6 949.8h40M1282.4 945.3V961.2M1262.4 945.3h40M1262.4 961.2h40M1287.1 989.7V1000.4M1267.1 989.7h40M1267.1 1000.4h40M1291.7 940.8V956.8M1271.7 940.8h40M1271.7 956.8h40M1296.2 998.3V1007.3M1276.2 998.3h40M1276.2 1007.3h40M1300.7 965.4V978.9M1280.7 965.4h40M1280.7 978.9h40M1305 983.6V994.8M1285 983.6h40M1285 994.8h40M1309.3 1003.2V1011.1M1289.3 1003.2h40M1289.3 1011.1h40M1313.5 983.9V994.8M1293.5 983.9h40M1293.5 994.8h40M1317.6 991.6V1001.4M1297.6 991.6h40M1297.6 1001.4h40M1321.6 1004.4V1011.9M1301.6 1004.4h40M1301.6 1011.9h40M1325.6 1000.6V1008.8M1305.6 1000.6h40M1305.6 1008.8h40M1329.5 1008.4V1015M1309.5 1008.4h40M1309.5 1015h40M1333.3 1005V1012.2M1313.3 1005h40M1313.3 1012.2h40M1337.1 1003.8V1011.2M1317.1 1003.8h40M1317.1 1011.2h40M1340.8 1016.4V1020.8M1320.8 1016.4h40M1320.8 1020.8h40M1344.4 1000.3V1008.2M1324.4 1000.3h40M1324.4 1008.2h40M1348 1000.2V1008M1328 1000.2h40M1328 1008h40M1351.6 1008.2V1014.5M1331.6 1008.2h40M1331.6 1014.5h40M1355.1 1002.9V1010.2M1335.1 1002.9h40M1335.1 1010.2h40M1358.5 1003V1010.2M1338.5 1003h40M1338.5 1010.2h40M1361.9 1010.8V1016.4M1341.9 1010.8h40M1341.9 1016.4h40M1365.2 1006.1V1012.7M1345.2 1006.1h40M1345.2 1012.7h40M1368.5 1003.7V1010.6M1348.5 1003.7h40M1348.5 1010.6h40M1371.7 1007.3V1013.5M1351.7 1007.3h40M1351.7 1013.5h40M1374.9 1022V1024.2M1354.9 1022h40M1354.9 1024.2h40M1378.1 1018.2V1021.8M1358.1 1018.2h40M1358.1 1021.8h40M1381.2 1018V1021.6M1361.2 1018h40M1361.2 1021.6h40M1384.3 1015.5V1019.8M1364.3 1015.5h40M1364.3 1019.8h40M1387.3 1022.9V1024.6M1367.3 1022.9h40M1367.3 1024.6h40M1390.3 1023V1024.6M1370.3 1023h40M1370.3 1024.6h40M1393.2 1017.4V1021.2M1373.2 1017.4h40M1373.2 1021.2h40M1396.1 1015V1019.3M1376.1 1015h40M1376.1 1019.3h40M1399 1014.5V1019M1379 1014.5h40M1379 1019h40M1401.8 1020.6V1023.2M1381.8 1020.6h40M1381.8 1023.2h40M1404.6 1016.4V1020.3M1384.6 1016.4h40M1384.6 1020.3h40M1407.4 1023.2V1024.7M1387.4 1023.2h40M1387.4 1024.7h40M1410.1 1016.7V1020.5M1390.1 1016.7h40M1390.1 1020.5h40M1412.9 1014.3V1018.6M1392.9 1014.3h40M1392.9 1018.6h40M1415.5 1011V1016M1395.5 1011h40M1395.5 1016h40M1418.2 1015V1019.2M1398.2 1015h40M1398.2 1019.2h40M1420.8 1015.3V1019.4M1400.8 1015.3h40M1400.8 1019.4h40M1423.4 1017.3V1020.9M1403.4 1017.3h40M1403.4 1020.9h40M1425.9 1020.3V1023M1405.9 1020.3h40M1405.9 1023h40M1428.4 1021.4V1023.7M1408.4 1021.4h40M1408.4 1023.7h40M1430.9 1016.6V1020.3M1410.9 1016.6h40M1410.9 1020.3h40M1433.4 1013.7V1018M1413.4 1013.7h40M1413.4 1018h40M1435.8 1022.7V1024.3M1415.8 1022.7h40M1415.8 1024.3h40M1438.3 1015.9V1019.7M1418.3 1015.9h40M1418.3 1019.7h40M1440.7 1018.4V1021.6M1420.7 1018.4h40M1420.7 1021.6h40M1443 1020.1V1022.7M1423 1020.1h40M1423 1022.7h40M1445.4 1022.2V1024M1425.4 1022.2h40M1425.4 1024h40M1447.7 1017.1V1020.5M1427.7 1017.1h40M1427.7 1020.5h40M1450 1020.7V1023.1M1430 1020.7h40M1430 1023.1h40M1452.3 1017.9V1021.1M1432.3 1017.9h40M1432.3 1021.1h40M1454.5 1017.3V1020.7M1434.5 1017.3h40M1434.5 1020.7h40M1456.7 1021.7V1023.7M1436.7 1021.7h40M1436.7 1023.7h40M1458.9 1023.7V1024.8M1438.9 1023.7h40M1438.9 1024.8h40M1461.1 1018.1V1021.2M1441.1 1018.1h40M1441.1 1021.2h40M1463.3 1019.6V1022.3M1443.3 1019.6h40M1443.3 1022.3h40M1465.4 1018.5V1021.5M1445.4 1018.5h40M1445.4 1021.5h40M1467.6 1019.5V1022.2M1447.6 1019.5h40M1447.6 1022.2h40M1469.7 1019.8V1022.4M1449.7 1019.8h40M1449.7 1022.4h40M1471.8 1022V1023.9M1451.8 1022h40M1451.8 1023.9h40M1473.8 1024.2V1024.9M1453.8 1024.2h40M1453.8 1024.9h40M1475.9 1022.8V1024.3M1455.9 1022.8h40M1455.9 1024.3h40M1477.9 1018.4V1021.3M1457.9 1018.4h40M1457.9 1021.3h40M1479.9 1018.2V1021.2M1459.9 1018.2h40M1459.9 1021.2h40M1481.9 1021.5V1023.5M1461.9 1021.5h40M1461.9 1023.5h40M1483.9 1020.1V1022.6M1463.9 1020.1h40M1463.9 1022.6h40M1485.9 1022V1023.8M1465.9 1022h40M1465.9 1023.8h40M1487.8 1018.4V1021.3M1467.8 1018.4h40M1467.8 1021.3h40M1489.7 1021.5V1023.5M1469.7 1021.5h40M1469.7 1023.5h40M1491.7 1015.4V1019M1471.7 1015.4h40M1471.7 1019h40M1493.6 1021.4V1023.4M1473.6 1021.4h40M1473.6 1023.4h40M1495.4 1015.9V1019.3M1475.4 1015.9h40M1475.4 1019.3h40M1497.3 1023.1V1024.4M1477.3 1023.1h40M1477.3 1024.4h40M1499.2 1014.4V1018M1479.2 1014.4h40M1479.2 1018h40M1501 1016.6V1019.9M1481 1016.6h40M1481 1019.9h40M1502.8 1015.5V1019M1482.8 1015.5h40M1482.8 1019h40M1504.6 1022.5V1024.1M1484.6 1022.5h40M1484.6 1024.1h40M1506.4 1018.8V1021.5M1486.4 1018.8h40M1486.4 1021.5h40M1508.2 1021.7V1023.6M1488.2 1021.7h40M1488.2 1023.6h40M1510 1019.6V1022.1M1490 1019.6h40M1490 1022.1h40M1511.7 1017.6V1020.6M1491.7 1017.6h40M1491.7 1020.6h40M1513.4 1019V1021.6M1493.4 1019h40M1493.4 1021.6h40M1515.2 1019V1021.6M1495.2 1019h40M1495.2 1021.6h40M1516.9 1021.1V1023.1M1496.9 1021.1h40M1496.9 1023.1h40M1518.6 1012.3V1016.2M1498.6 1012.3h40M1498.6 1016.2h40M1520.3 1018.2V1020.9M1500.3 1018.2h40M1500.3 1020.9h40M1521.9 1011.9V1015.8M1501.9 1011.9h40M1501.9 1015.8h40M1523.6 1020.5V1022.7M1503.6 1020.5h40M1503.6 1022.7h40M1525.3 1022.3V1023.9M1505.3 1022.3h40M1505.3 1023.9h40M1526.9 1014.8V1018.2M1506.9 1014.8h40M1506.9 1018.2h40M1528.5 1021.9V1023.6M1508.5 1021.9h40M1508.5 1023.6h40M1530.1 1015.2V1018.5M1510.1 1015.2h40M1510.1 1018.5h40M1531.7 1017.3V1020.2M1511.7 1017.3h40M1511.7 1020.2h40M1533.3 1020.9V1022.9M1513.3 1020.9h40M1513.3 1022.9h40M1534.9 1013.1V1016.7M1514.9 1013.1h40M1514.9 1016.7h40M1536.5 1010.1V1014.2M1516.5 1010.1h40M1516.5 1014.2h40M1538.1 1010.2V1014.3M1518.1 1010.2h40M1518.1 1014.3h40M1539.6 1012.6V1016.3M1519.6 1012.6h40M1519.6 1016.3h40M1541.1 1016.1V1019.2M1521.1 1016.1h40M1521.1 1019.2h40M1542.7 1009.6V1013.7M1522.7 1009.6h40M1522.7 1013.7h40M1544.2 1018.1V1020.7M1524.2 1018.1h40M1524.2 1020.7h40M1545.7 1016.2V1019.2M1525.7 1016.2h40M1525.7 1019.2h40M1547.2 1019.7V1021.9M1527.2 1019.7h40M1527.2 1021.9h40M1548.7 1020.7V1022.7M1528.7 1020.7h40M1528.7 1022.7h40M1550.2 1016.6V1019.5M1530.2 1016.6h40M1530.2 1019.5h40M1551.6 1012.9V1016.5M1531.6 1012.9h40M1531.6 1016.5h40M1553.1 1021.8V1023.4M1533.1 1021.8h40M1533.1 1023.4h40M1554.6 1013.8V1017.2M1534.6 1013.8h40M1534.6 1017.2h40M1556 1016.4V1019.4M1536 1016.4h40M1536 1019.4h40M1557.4 1017.5V1020.2M1537.4 1017.5h40M1537.4 1020.2h40M1558.9 1016V1019M1538.9 1016h40M1538.9 1019h40M1560.3 1010.1V1014M1540.3 1010.1h40M1540.3 1014h40M1561.7 1018V1020.6M1541.7 1018h40M1541.7 1020.6h40M1563.1 1011V1014.7M1543.1 1011h40M1543.1 1014.7h40M1564.5 1006.7V1011M1544.5 1006.7h40M1544.5 1011h40M1565.8 1017.8V1020.4M1545.8 1017.8h40M1545.8 1020.4h40M1567.2 1012.5V1016M1547.2 1012.5h40M1547.2 1016h40M1568.6 1014.2V1017.4M1548.6 1014.2h40M1548.6 1017.4h40M1569.9 1011.4V1015.1M1549.9 1011.4h40M1549.9 1015.1h40M1571.3 1015.5V1018.5M1551.3 1015.5h40M1551.3 1018.5h40M1572.6 1017.2V1019.9M1552.6 1017.2h40M1552.6 1019.9h40M1574 1023.1V1024.3M1554 1023.1h40M1554 1024.3h40M1575.3 1016.3V1019.1M1555.3 1016.3h40M1555.3 1019.1h40M1576.6 1010.1V1013.9M1556.6 1010.1h40M1556.6 1013.9h40M1577.9 1006V1010.3M1557.9 1006h40M1557.9 1010.3h40M1579.2 1017.1V1019.8M1559.2 1017.1h40M1559.2 1019.8h40M1580.5 1008.7V1012.6M1560.5 1008.7h40M1560.5 1012.6h40M1581.8 1013.5V1016.8M1561.8 1013.5h40M1561.8 1016.8h40M1583.1 1021.5V1023.2M1563.1 1021.5h40M1563.1 1023.2h40M1584.4 1005.9V1010.1M1564.4 1005.9h40M1564.4 1010.1h40M1585.6 1022.8V1024M1565.6 1022.8h40M1565.6 1024h40M1586.9 1009V1012.8M1566.9 1009h40M1566.9 1012.8h40M1588.1 1006.3V1010.4M1568.1 1006.3h40M1568.1 1010.4h40M1589.4 1017.8V1020.3M1569.4 1017.8h40M1569.4 1020.3h40M1590.6 1007.5V1011.5M1570.6 1007.5h40M1570.6 1011.5h40M1591.9 1002.7V1007.2M1571.9 1002.7h40M1571.9 1007.2h40M1593.1 1017.1V1019.7M1573.1 1017.1h40M1573.1 1019.7h40M1594.3 1022.1V1023.6M1574.3 1022.1h40M1574.3 1023.6h40M1595.5 1010.9V1014.4M1575.5 1010.9h40M1575.5 1014.4h40M1596.7 1008.1V1012M1576.7 1008.1h40M1576.7 1012h40M1597.9 1013.3V1016.5M1577.9 1013.3h40M1577.9 1016.5h40M1599.1 1017.1V1019.7M1579.1 1017.1h40M1579.1 1019.7h40M1600.3 1019.3V1021.4M1580.3 1019.3h40M1580.3 1021.4h40"/>
<path d="M461.3 972.8V1032.8M441.3 972.8h40M441.3 1032.8h40M589.4 1018.7V1028.6M569.4 1018.7h40M569.4 1028.6h40M671.1 636.4V725.8M651.1 636.4h40M651.1 725.8h40M731.1 304V352M711.1 304h40M711.1 352h40M778.6 365.8V416.4M758.6 365.8h40M758.6 416.4h40M818 403.2V453.7M798 403.2h40M798 453.7h40M851.5 423V471.7M831.5 423h40M831.5 471.7h40M880.8 420.9V466.2M860.8 420.9h40M860.8 466.2h40M906.7 355.8V392.4M886.7 355.8h40M886.7 392.4h40M930 387V424.6M910 387h40M910 424.6h40M951.2 418.2V456.6M931.2 418.2h40M931.2 456.6h40M970.5 470.4V510.8M950.5 470.4h40M950.5 510.8h40M988.4 500.7V541.3M968.4 500.7h40M968.4 541.3h40M1004.9 549.7V591M984.9 549.7h40M984.9 591h40M1020.4 522.8V561.5M1000.4 522.8h40M1000.4 561.5h40M1034.8 533.6V571.6M1014.8 533.6h40M1014.8 571.6h40M1048.4 502.2V537.7M1028.4 502.2h40M1028.4 537.7h40M1061.3 550.6V587M1041.3 550.6h40M1041.3 587h40M1073.4 529V563.7M1053.4 529h40M1053.4 563.7h40M1085 600.1V636.1M1065 600.1h40M1065 636.1h40M1096 605.1V640.4M1076 605.1h40M1076 640.4h40M1106.5 666.7V702M1086.5 666.7h40M1086.5 702h40M1116.5 639.8V674.1M1096.5 639.8h40M1096.5 674.1h40M1126.1 674V707.9M1106.1 674h40M1106.1 707.9h40M1135.3 665.6V698.7M1115.3 665.6h40M1115.3 698.7h40M1144.2 697.9V730.5M1124.2 697.9h40M1124.2 730.5h40M1152.7 704.5V736.5M1132.7 704.5h40M1132.7 736.5h40M1160.9 683.3V714.7M1140.9 683.3h40M1140.9 714.7h40M1168.9 731.4V762.2M1148.9 731.4h40M1148.9 762.2h40M1176.5 711.5V741.8M1156.5 711.5h40M1156.5 741.8h40M1184 749.7V779.3M1164 749.7h40M1164 779.3h40M1191.2 712.1V741.5M1171.2 712.1h40M1171.2 741.5h40M1198.1 778.5V806.7M1178.1 778.5h40M1178.1 806.7h40M1204.9 763.7V791.7M1184.9 763.7h40M1184.9 791.7h40M1211.5 743.1V771M1191.5 743.1h40M1191.5 771h40M1217.9 829.2V854.8M1197.9 829.2h40M1197.9 854.8h40M1224.1 799.3V825.5M1204.1 799.3h40M1204.1 825.5h40M1230.1 818V843.2M1210.1 818h40M1210.1 843.2h40M1236 869.1V892.1M1216 869.1h40M1216 892.1h40M1241.8 887.2V908.9M1221.8 887.2h40M1221.8 908.9h40M1247.4 930.4V948.9M1227.4 930.4h40M1227.4 948.9h40M1252.8 868V890.2M1232.8 868h40M1232.8 890.2h40M1258.2 937.6V955M1238.2 937.6h40M1238.2 955h40M1263.4 906.6V926.2M1243.4 906.6h40M1243.4 926.2h40M1268.5 944.5V961M1248.5 944.5h40M1248.5 961h40M1273.5 951.1V966.8M1253.5 951.1h40M1253.5 966.8h40M1278.4 939.6V956.2M1258.4 939.6h40M1258.4 956.2h40M1283.2 947.7V963.4M1263.2 947.7h40M1263.2 963.4h40M1287.9 995.5V1005.2M1267.9 995.5h40M1267.9 1005.2h40M1292.5 973.3V986M1272.5 973.3h40M1272.5 986h40M1297 996.4V1005.8M1277 996.4h40M1277 1005.8h40M1301.4 966.5V979.8M1281.4 966.5h40M1281.4 979.8h40M1305.7 970.9V983.5M1285.7 970.9h40M1285.7 983.5h40M1310 983.8V994.8M1290 983.8h40M1290 994.8h40M1314.1 978.3V989.9M1294.1 978.3h40M1294.1 989.9h40M1318.2 1011.8V1017.7M1298.2 1011.8h40M1298.2 1017.7h40M1322.3 999.4V1007.8M1302.3 999.4h40M1302.3 1007.8h40M1326.2 992.3V1001.8M1306.2 992.3h40M1306.2 1001.8h40M1330.1 992.1V1001.5M1310.1 992.1h40M1310.1 1001.5h40M1333.9 999V1007.3M1313.9 999h40M1313.9 1007.3h40M1337.7 1004.9V1012.1M1317.7 1004.9h40M1317.7 1012.1h40M1341.4 1006.2V1013M1321.4 1006.2h40M1321.4 1013h40M1345.1 994.5V1003.3M1325.1 994.5h40M1325.1 1003.3h40M1348.6 1012.1V1017.6M1328.6 1012.1h40M1328.6 1017.6h40M1352.2 1012.4V1017.8M1332.2 1012.4h40M1332.2 1017.8h40M1355.6 999.6V1007.4M1335.6 999.6h40M1335.6 1007.4h40M1359.1 1003.8V1010.9M1339.1 1003.8h40M1339.1 1010.9h40M1362.4 1011.2V1016.7M1342.4 1011.2h40M1342.4 1016.7h40M1365.8 1001.1V1008.5M1345.8 1001.1h40M1345.8 1008.5h40M1369 1021V1023.7M1349 1021h40M1349 1023.7h40M1372.3 1008.6V1014.6M1352.3 1008.6h40M1352.3 1014.6h40M1375.5 1021.7V1024M1355.5 1021.7h40M1355.5 1024h40M1378.6 1021.3V1023.8M1358.6 1021.3h40M1358.6 1023.8h40M1381.7 1010.8V1016.2M1361.7 1010.8h40M1361.7 1016.2h40M1384.8 1015.3V1019.7M1364.8 1015.3h40M1364.8 1019.7h40M1387.8 1021.8V1024M1367.8 1021.8h40M1367.8 1024h40M1390.8 1017V1020.8M1370.8 1017h40M1370.8 1020.8h40M1393.7 1018.2V1021.7M1373.7 1018.2h40M1373.7 1021.7h40M1396.6 1018.3V1021.8M1376.6 1018.3h40M1376.6 1021.8h40M1399.5 1020.6V1023.3M1379.5 1020.6h40M1379.5 1023.3h40M1402.3 1012.2V1017.2M1382.3 1012.2h40M1382.3 1017.2h40M1405.1 1010.6V1015.8M1385.1 1010.6h40M1385.1 1015.8h40M1407.9 1016.3V1020.2M1387.9 1016.3h40M1387.9 1020.2h40M1410.6 1021.8V1023.9M1390.6 1021.8h40M1390.6 1023.9h40M1413.3 1023.1V1024.6M1393.3 1023.1h40M1393.3 1024.6h40M1416 1022.2V1024.1M1396 1022.2h40M1396 1024.1h40M1418.6 1018.1V1021.4M1398.6 1018.1h40M1398.6 1021.4h40M1421.2 1013V1017.6M1401.2 1013h40M1401.2 1017.6h40M1423.8 1011.3V1016.2M1403.8 1011.3h40M1403.8 1016.2h40M1426.3 1017.6V1021.1M1406.3 1017.6h40M1406.3 1021.1h40M1428.9 1015V1019.1M1408.9 1015h40M1408.9 1019.1h40M1431.3 1013.1V1017.6M1411.3 1013.1h40M1411.3 1017.6h40M1433.8 1018V1021.3M1413.8 1018h40M1413.8 1021.3h40M1436.3 1022.5V1024.2M1416.3 1022.5h40M1416.3 1024.2h40M1438.7 1016.1V1019.8M1418.7 1016.1h40M1418.7 1019.8h40M1441.1 1014.6V1018.7M1421.1 1014.6h40M1421.1 1018.7h40M1443.4 1016.4V1020M1423.4 1016.4h40M1423.4 1020h40M1445.8 1014V1018.2M1425.8 1014h40M1425.8 1018.2h40M1448.1 1023.8V1024.8M1428.1 1023.8h40M1428.1 1024.8h40M1450.4 1014.9V1018.9M1430.4 1014.9h40M1430.4 1018.9h40M1452.6 1018.8V1021.8M1432.6 1018.8h40M1432.6 1021.8h40M1454.9 1017.7V1021M1434.9 1017.7h40M1434.9 1021h40M1457.1 1017.6V1020.9M1437.1 1017.6h40M1437.1 1020.9h40M1459.3 1020.5V1022.9M1439.3 1020.5h40M1439.3 1022.9h40M1461.5 1023V1024.4M1441.5 1023h40M1441.5 1024.4h40M1463.7 1016.9V1020.3M1443.7 1016.9h40M1443.7 1020.3h40M1465.8 1024V1024.8M1445.8 1024h40M1445.8 1024.8h40M1467.9 1018.6V1021.5M1447.9 1018.6h40M1447.9 1021.5h40M1470 1019V1021.8M1450 1019h40M1450 1021.8h40M1472.1 1020.9V1023.1M1452.1 1020.9h40M1452.1 1023.1h40M1474.2 1022.8V1024.3M1454.2 1022.8h40M1454.2 1024.3h40M1476.2 1020.6V1022.9M1456.2 1020.6h40M1456.2 1022.9h40M1478.3 1019.5V1022.1M1458.3 1019.5h40M1458.3 1022.1h40M1480.3 1019.4V1022.1M1460.3 1019.4h40M1460.3 1022.1h40M1482.3 1021.3V1023.3M1462.3 1021.3h40M1462.3 1023.3h40M1484.2 1020.5V1022.8M1464.2 1020.5h40M1464.2 1022.8h40M1486.2 1023.7V1024.7M1466.2 1023.7h40M1466.2 1024.7h40M1488.1 1023.5V1024.6M1468.1 1023.5h40M1468.1 1024.6h40M1490.1 1019.9V1022.3M1470.1 1019.9h40M1470.1 1022.3h40M1492 1017.4V1020.5M1472 1017.4h40M1472 1020.5h40M1493.9 1016.9V1020.1M1473.9 1016.9h40M1473.9 1020.1h40M1495.7 1020.2V1022.5M1475.7 1020.2h40M1475.7 1022.5h40M1497.6 1015.9V1019.3M1477.6 1015.9h40M1477.6 1019.3h40M1499.5 1015.1V1018.6M1479.5 1015.1h40M1479.5 1018.6h40M1501.3 1016.1V1019.4M1481.3 1016.1h40M1481.3 1019.4h40M1503.1 1014.9V1018.4M1483.1 1014.9h40M1483.1 1018.4h40M1504.9 1014.5V1018.2M1484.9 1014.5h40M1484.9 1018.2h40M1506.7 1021.2V1023.2M1486.7 1021.2h40M1486.7 1023.2h40M1508.5 1014.8V1018.3M1488.5 1014.8h40M1488.5 1018.3h40M1510.2 1021.5V1023.4M1490.2 1021.5h40M1490.2 1023.4h40M1512 1017.5V1020.5M1492 1017.5h40M1492 1020.5h40M1513.7 1020V1022.3M1493.7 1020h40M1493.7 1022.3h40M1515.5 1023.3V1024.5M1495.5 1023.3h40M1495.5 1024.5h40M1517.2 1019.9V1022.2M1497.2 1019.9h40M1497.2 1022.2h40M1518.9 1018.7V1021.3M1498.9 1018.7h40M1498.9 1021.3h40M1520.5 1022.4V1023.9M1500.5 1022.4h40M1500.5 1023.9h40M1522.2 1020.4V1022.6M1502.2 1020.4h40M1502.2 1022.6h40M1523.9 1015.5V1018.8M1503.9 1015.5h40M1503.9 1018.8h40M1525.5 1020.3V1022.5M1505.5 1020.3h40M1505.5 1022.5h40M1527.2 1023.2V1024.4M1507.2 1023.2h40M1507.2 1024.4h40M1528.8 1019.7V1022.1M1508.8 1019.7h40M1508.8 1022.1h40M1530.4 1019.3V1021.8M1510.4 1019.3h40M1510.4 1021.8h40M1532 1018V1020.7M1512 1018h40M1512 1020.7h40M1533.6 1012.1V1015.9M1513.6 1012.1h40M1513.6 1015.9h40M1535.2 1019.1V1021.6M1515.2 1019.1h40M1515.2 1021.6h40M1536.8 1012.6V1016.3M1516.8 1012.6h40M1516.8 1016.3h40M1538.3 1023.7V1024.6M1518.3 1023.7h40M1518.3 1024.6h40M1539.9 1014.8V1018.1M1519.9 1014.8h40M1519.9 1018.1h40M1541.4 1009V1013.2M1521.4 1009h40M1521.4 1013.2h40M1542.9 1011.3V1015.2M1522.9 1011.3h40M1522.9 1015.2h40M1544.4 1011.2V1015M1524.4 1011.2h40M1524.4 1015h40M1546 1020.9V1022.9M1526 1020.9h40M1526 1022.9h40M1547.4 1017.2V1020.1M1527.4 1017.2h40M1527.4 1020.1h40M1548.9 1022.6V1024M1528.9 1022.6h40M1528.9 1024h40M1550.4 1021.8V1023.5M1530.4 1021.8h40M1530.4 1023.5h40M1551.9 1011.3V1015.1M1531.9 1011.3h40M1531.9 1015.1h40M1553.3 1023.3V1024.4M1533.3 1023.3h40M1533.3 1024.4h40M1554.8 1015.9V1018.9M1534.8 1015.9h40M1534.8 1018.9h40M1556.2 1019.2V1021.6M1536.2 1019.2h40M1536.2 1021.6h40M1557.7 1019.4V1021.7M1537.7 1019.4h40M1537.7 1021.7h40M1559.1 1016.2V1019.1M1539.1 1016.2h40M1539.1 1019.1h40M1560.5 1012.7V1016.3M1540.5 1012.7h40M1540.5 1016.3h40M1561.9 1011V1014.8M1541.9 1011h40M1541.9 1014.8h40M1563.3 1016.7V1019.5M1543.3 1016.7h40M1543.3 1019.5h40M1564.7 1014.3V1017.5M1544.7 1014.3h40M1544.7 1017.5h40M1566.1 1021.4V1023.1M1546.1 1021.4h40M1546.1 1023.1h40M1567.4 1010.5V1014.3M1547.4 1010.5h40M1547.4 1014.3h40M1568.8 1016.8V1019.6M1548.8 1016.8h40M1548.8 1019.6h40M1570.2 1018.8V1021.2M1550.2 1018.8h40M1550.2 1021.2h40M1571.5 1015.2V1018.3M1551.5 1015.2h40M1551.5 1018.3h40M1572.9 1014.3V1017.5M1552.9 1014.3h40M1552.9 1017.5h40M1574.2 1015.4V1018.4M1554.2 1015.4h40M1554.2 1018.4h40M1575.5 1016.9V1019.6M1555.5 1016.9h40M1555.5 1019.6h40M1576.8 1020.3V1022.3M1556.8 1020.3h40M1556.8 1022.3h40M1578.1 1010.7V1014.4M1558.1 1010.7h40M1558.1 1014.4h40M1579.4 1015.5V1018.5M1559.4 1015.5h40M1559.4 1018.5h40M1580.7 1013.2V1016.5M1560.7 1013.2h40M1560.7 1016.5h40M1582 1023.3V1024.4M1562 1023.3h40M1562 1024.4h40M1583.3 1007.4V1011.5M1563.3 1007.4h40M1563.3 1011.5h40M1584.6 1022.1V1023.6M1564.6 1022.1h40M1564.6 1023.6h40M1585.8 1008.3V1012.3M1565.8 1008.3h40M1565.8 1012.3h40M1587.1 1008.3V1012.2M1567.1 1008.3h40M1567.1 1012.2h40M1588.4 1019.5V1021.7M1568.4 1019.5h40M1568.4 1021.7h40M1589.6 1019.5V1021.6M1569.6 1019.5h40M1569.6 1021.6h40M1590.8 1005.1V1009.4M1570.8 1005.1h40M1570.8 1009.4h40M1592.1 1006.1V1010.3M1572.1 1006.1h40M1572.1 1010.3h40M1593.3 1006.7V1010.7M1573.3 1006.7h40M1573.3 1010.7h40M1594.5 1002V1006.6M1574.5 1002h40M1574.5 1006.6h40M1595.7 1022.4V1023.8M1575.7 1022.4h40M1575.7 1023.8h40M1596.9 1008.8V1012.6M1576.9 1008.8h40M1576.9 1012.6h40M1598.1 1023.2V1024.3M1578.1 1023.2h40M1578.1 1024.3h40M1599.3 1018.8V1021.1M1579.3 1018.8h40M1579.3 1021.1h40M1600.5 1024.2V1024.8M1580.5 1024.2h40M1580.5 1024.8h40"/>
<path d="M488.3 928V1010M468.3 928h40M468.3 1010h40M605.2 912.9V986.9M585.2 912.9h40M585.2 986.9h40M682.2 480.2V560.2M662.2 480.2h40M662.2 560.2h40M739.8 310.6V357.6M719.8 310.6h40M719.8 357.6h40M785.7 389.3V442.1M765.7 389.3h40M765.7 442.1h40M823.9 409.1V459.6M803.9 409.1h40M803.9 459.6h40M856.7 382.3V426.3M836.7 382.3h40M836.7 426.3h40M885.3 387.7V429.5M865.3 387.7h40M865.3 429.5h40M910.8 386.2V425.4M890.8 386.2h40M890.8 425.4h40M933.7 410.6V450M913.7 410.6h40M913.7 450h40M954.5 479.2V521.6M934.5 479.2h40M934.5 521.6h40M973.6 469.8V509.9M953.6 469.8h40M953.6 509.9h40M991.2 484.8V524.2M971.2 484.8h40M971.2 524.2h40M1007.6 542.6V583.3M987.6 542.6h40M987.6 583.3h40M1022.9 519.7V558.1M1002.9 519.7h40M1002.9 558.1h40M1037.2 540.5V578.6M1017.2 540.5h40M1017.2 578.6h40M1050.6 491.5V526.3M1030.6 491.5h40M1030.6 526.3h40M1063.4 535.6V571.3M1043.4 535.6h40M1043.4 571.3h40M1075.4 547.6V582.9M1055.4 547.6h40M1055.4 582.9h40M1086.9 583.5V618.9M1066.9 583.5h40M1066.9 618.9h40M1097.8 628.8V664.3M1077.8 628.8h40M1077.8 664.3h40M1108.2 644.8V679.8M1088.2 644.8h40M1088.2 679.8h40M1118.1 656.6V691M1098.1 656.6h40M1098.1 691h40M1127.7 665.3V699M1107.7 665.3h40M1107.7 699h40M1136.8 660.5V693.5M1116.8 660.5h40M1116.8 693.5h40M1145.6 695.7V728.2M1125.6 695.7h40M1125.6 728.2h40M1154.1 719.1V750.9M1134.1 719.1h40M1134.1 750.9h40M1162.3 706.6V737.9M1142.3 706.6h40M1142.3 737.9h40M1170.2 723.7V754.4M1150.2 723.7h40M1150.2 754.4h40M1177.8 689.2V719.5M1157.8 689.2h40M1157.8 719.5h40M1185.2 817.4V845.3M1165.2 817.4h40M1165.2 845.3h40M1192.3 737V766.1M1172.3 737h40M1172.3 766.1h40M1199.3 775.6V803.7M1179.3 775.6h40M1179.3 803.7h40M1206 723.1V751.5M1186 723.1h40M1186 751.5h40M1212.5 762.9V790.5M1192.5 762.9h40M1192.5 790.5h40M1218.9 794.5V821.1M1198.9 794.5h40M1198.9 821.1h40M1225.1 835V860M1205.1 835h40M1205.1 860h40M1231.1 875V897.9M1211.1 875h40M1211.1 897.9h40M1237 890.7V912.4M1217 890.7h40M1217 912.4h40M1242.7 895.6V916.7M1222.7 895.6h40M1222.7 916.7h40M1248.3 925.3V944.2M1228.3 925.3h40M1228.3 944.2h40M1253.7 959.4V974.8M1233.7 959.4h40M1233.7 974.8h40M1259.1 916.8V935.9M1239.1 916.8h40M1239.1 935.9h40M1264.3 895.3V915.5M1244.3 895.3h40M1244.3 915.5h40M1269.4 935.5V952.8M1249.4 935.5h40M1249.4 952.8h40M1274.3 911.7V930.6M1254.3 911.7h40M1254.3 930.6h40M1279.2 941.4V957.8M1259.2 941.4h40M1259.2 957.8h40M1284 938.6V955.1M1264 938.6h40M1264 955.1h40M1288.6 951.3V966.5M1268.6 951.3h40M1268.6 966.5h40M1293.2 977.1V989.3M1273.2 977.1h40M1273.2 989.3h40M1297.7 950.3V965.3M1277.7 950.3h40M1277.7 965.3h40M1302.1 979.4V991.1M1282.1 979.4h40M1282.1 991.1h40M1306.4 994V1003.6M1286.4 994h40M1286.4 1003.6h40M1310.7 976.5V988.4M1290.7 976.5h40M1290.7 988.4h40M1314.8 991.7V1001.5M1294.8 991.7h40M1294.8 1001.5h40M1318.9 1016.2V1020.9M1298.9 1016.2h40M1298.9 1020.9h40M1322.9 1000.2V1008.5M1302.9 1000.2h40M1302.9 1008.5h40M1326.9 1010.1V1016.3M1306.9 1010.1h40M1306.9 1016.3h40M1330.8 995.4V1004.4M1310.8 995.4h40M1310.8 1004.4h40M1334.6 1012.3V1017.9M1314.6 1012.3h40M1314.6 1017.9h40M1338.3 991.3V1000.7M1318.3 991.3h40M1318.3 1000.7h40M1342 1008.1V1014.6M1322 1008.1h40M1322 1014.6h40M1345.7 995.6V1004.2M1325.7 995.6h40M1325.7 1004.2h40M1349.2 1009.6V1015.7M1329.2 1009.6h40M1329.2 1015.7h40M1352.8 999.9V1007.8M1332.8 999.9h40M1332.8 1007.8h40M1356.2 1000.6V1008.3M1336.2 1000.6h40M1336.2 1008.3h40M1359.6 995.6V1004M1339.6 995.6h40M1339.6 1004h40M1363 1019.9V1023M1343 1019.9h40M1343 1023h40M1366.3 1009V1015M1346.3 1009h40M1346.3 1015h40M1369.6 1020.4V1023.3M1349.6 1020.4h40M1349.6 1023.3h40M1372.8 1015.2V1019.7M1352.8 1015.2h40M1352.8 1019.7h40M1376 1008.9V1014.8M1356 1008.9h40M1356 1014.8h40M1379.1 1022.9V1024.6M1359.1 1022.9h40M1359.1 1024.6h40M1382.2 1017.2V1021.1M1362.2 1017.2h40M1362.2 1021.1h40M1385.3 1015V1019.5M1365.3 1015h40M1365.3 1019.5h40M1388.3 1017.9V1021.5M1368.3 1017.9h40M1368.3 1021.5h40M1391.3 1009.1V1014.8M1371.3 1009.1h40M1371.3 1014.8h40M1394.2 1008.5V1014.2M1374.2 1008.5h40M1374.2 1014.2h40M1397.1 1015.4V1019.6M1377.1 1015.4h40M1377.1 1019.6h40M1400 1011.8V1016.9M1380 1011.8h40M1380 1016.9h40M1402.8 1009.3V1014.9M1382.8 1009.3h40M1382.8 1014.9h40M1405.6 1015V1019.3M1385.6 1015h40M1385.6 1019.3h40M1408.3 1023.7V1024.8M1388.3 1023.7h40M1388.3 1024.8h40M1411.1 1016.2V1020.1M1391.1 1016.2h40M1391.1 1020.1h40M1413.7 1013.8V1018.3M1393.7 1013.8h40M1393.7 1018.3h40M1416.4 1012.8V1017.5M1396.4 1012.8h40M1396.4 1017.5h40M1419 1018.7V1021.9M1399 1018.7h40M1399 1021.9h40M1421.6 1013.6V1018.1M1401.6 1013.6h40M1401.6 1018.1h40M1424.2 1019V1022.1M1404.2 1019h40M1404.2 1022.1h40M1426.8 1012.6V1017.2M1406.8 1012.6h40M1406.8 1017.2h40M1429.3 1021.8V1023.9M1409.3 1021.8h40M1409.3 1023.9h40M1431.8 995.7V1002.9M1411.8 995.7h40M1411.8 1002.9h40M1434.2 1012.8V1017.3M1414.2 1012.8h40M1414.2 1017.3h40M1436.7 1016V1019.8M1416.7 1016h40M1416.7 1019.8h40M1439.1 1022.8V1024.4M1419.1 1022.8h40M1419.1 1024.4h40M1441.5 1019.8V1022.6M1421.5 1019.8h40M1421.5 1022.6h40M1443.8 1018.7V1021.7M1423.8 1018.7h40M1423.8 1021.7h40M1446.1 1019.1V1022M1426.1 1019.1h40M1426.1 1022h40M1448.5 1022.5V1024.2M1428.5 1022.5h40M1428.5 1024.2h40M1450.7 1013.1V1017.4M1430.7 1013.1h40M1430.7 1017.4h40M1453 1023.5V1024.7M1433 1023.5h40M1433 1024.7h40M1455.3 1014.8V1018.7M1435.3 1014.8h40M1435.3 1018.7h40M1457.5 1017.6V1020.8M1437.5 1017.6h40M1437.5 1020.8h40M1459.7 1020.5V1023M1439.7 1020.5h40M1439.7 1023h40M1461.9 1016.2V1019.8M1441.9 1016.2h40M1441.9 1019.8h40M1464 1022V1023.9M1444 1022h40M1444 1023.9h40M1466.2 1018V1021.1M1446.2 1018h40M1446.2 1021.1h40M1468.3 1019.9V1022.4M1448.3 1019.9h40M1448.3 1022.4h40M1470.4 1019.4V1022.1M1450.4 1019.4h40M1450.4 1022.1h40M1472.5 1018.9V1021.8M1452.5 1018.9h40M1452.5 1021.8h40M1474.5 1021.9V1023.7M1454.5 1021.9h40M1454.5 1023.7h40M1476.6 1020.8V1023M1456.6 1020.8h40M1456.6 1023h40M1478.6 1022V1023.8M1458.6 1022h40M1458.6 1023.8h40M1480.6 1017.1V1020.3M1460.6 1017.1h40M1460.6 1020.3h40M1482.6 1017.2V1020.4M1462.6 1017.2h40M1462.6 1020.4h40M1484.6 1022.6V1024.2M1464.6 1022.6h40M1464.6 1024.2h40M1486.5 1022.8V1024.3M1466.5 1022.8h40M1466.5 1024.3h40M1488.5 1020.2V1022.6M1468.5 1020.2h40M1468.5 1022.6h40M1490.4 1024V1024.8M1470.4 1024h40M1470.4 1024.8h40M1492.3 1022.8V1024.2M1472.3 1022.8h40M1472.3 1024.2h40M1494.2 1017V1020.2M1474.2 1017h40M1474.2 1020.2h40M1496.1 1019.4V1021.9M1476.1 1019.4h40M1476.1 1021.9h40M1497.9 1014.9V1018.5M1477.9 1014.9h40M1477.9 1018.5h40M1499.8 1018.2V1021M1479.8 1018.2h40M1479.8 1021h40M1501.6 1023.5V1024.6M1481.6 1023.5h40M1481.6 1024.6h40M1503.4 1020.9V1023M1483.4 1020.9h40M1483.4 1023h40M1505.2 1022.5V1024.1M1485.2 1022.5h40M1485.2 1024.1h40M1507 1022.7V1024.2M1487 1022.7h40M1487 1024.2h40M1508.8 1022.5V1024.1M1488.8 1022.5h40M1488.8 1024.1h40M1510.5 1022.3V1023.9M1490.5 1022.3h40M1490.5 1023.9h40M1512.3 1013.6V1017.3M1492.3 1013.6h40M1492.3 1017.3h40M1514 1021V1023M1494 1021h40M1494 1023h40M1515.7 1018.6V1021.3M1495.7 1018.6h40M1495.7 1021.3h40M1517.5 1013.7V1017.4M1497.5 1013.7h40M1497.5 1017.4h40M1519.1 1019.8V1022.1M1499.1 1019.8h40M1499.1 1022.1h40M1520.8 1016.3V1019.4M1500.8 1016.3h40M1500.8 1019.4h40M1522.5 1018.6V1021.3M1502.5 1018.6h40M1502.5 1021.3h40M1524.2 1012.3V1016.2M1504.2 1012.3h40M1504.2 1016.2h40M1525.8 1019.6V1022M1505.8 1019.6h40M1505.8 1022h40M1527.4 1013.2V1016.9M1507.4 1013.2h40M1507.4 1016.9h40M1529.1 1020.6V1022.7M1509.1 1020.6h40M1509.1 1022.7h40M1530.7 1012.2V1016.1M1510.7 1012.2h40M1510.7 1016.1h40M1532.3 1017.7V1020.5M1512.3 1017.7h40M1512.3 1020.5h40M1533.9 1015.9V1019M1513.9 1015.9h40M1513.9 1019h40M1535.4 1011.8V1015.6M1515.4 1011.8h40M1515.4 1015.6h40M1537 1023.4V1024.5M1517 1023.4h40M1517 1024.5h40M1538.6 1018.3V1020.9M1518.6 1018.3h40M1518.6 1020.9h40M1540.1 1020.1V1022.3M1520.1 1020.1h40M1520.1 1022.3h40M1541.7 1016.6V1019.6M1521.7 1016.6h40M1521.7 1019.6h40M1543.2 1014.1V1017.5M1523.2 1014.1h40M1523.2 1017.5h40M1544.7 1016.1V1019.2M1524.7 1016.1h40M1524.7 1019.2h40M1546.2 1013.1V1016.7M1526.2 1013.1h40M1526.2 1016.7h40M1547.7 1011.2V1015M1527.7 1011.2h40M1527.7 1015h40M1549.2 1017.1V1020M1529.2 1017.1h40M1529.2 1020h40M1550.7 1022.8V1024.1M1530.7 1022.8h40M1530.7 1024.1h40M1552.1 1013.4V1016.9M1532.1 1013.4h40M1532.1 1016.9h40M1553.6 1021.4V1023.2M1533.6 1021.4h40M1533.6 1023.2h40M1555 1007.8V1012M1535 1007.8h40M1535 1012h40M1556.5 1007.9V1012.1M1536.5 1007.9h40M1536.5 1012.1h40M1557.9 1015.7V1018.7M1537.9 1015.7h40M1537.9 1018.7h40M1559.3 1007.8V1012M1539.3 1007.8h40M1539.3 1012h40M1560.7 1017.2V1020M1540.7 1017.2h40M1540.7 1020h40M1562.1 1016.5V1019.3M1542.1 1016.5h40M1542.1 1019.3h40M1563.5 1010.4V1014.2M1543.5 1010.4h40M1543.5 1014.2h40M1564.9 1012.2V1015.8M1544.9 1012.2h40M1544.9 1015.8h40M1566.3 1009.3V1013.3M1546.3 1009.3h40M1546.3 1013.3h40M1567.7 1022.6V1024M1547.7 1022.6h40M1547.7 1024h40M1569 1022V1023.5M1549 1022h40M1549 1023.5h40M1570.4 1011.6V1015.3M1550.4 1011.6h40M1550.4 1015.3h40M1571.7 1012.5V1016M1551.7 1012.5h40M1551.7 1016h40M1573.1 1016.6V1019.4M1553.1 1016.6h40M1553.1 1019.4h40M1574.4 1014.2V1017.4M1554.4 1014.2h40M1554.4 1017.4h40M1575.7 1008V1012.1M1555.7 1008h40M1555.7 1012.1h40M1577 1015.8V1018.7M1557 1015.8h40M1557 1018.7h40M1578.4 1014.1V1017.3M1558.4 1014.1h40M1558.4 1017.3h40M1579.7 1010.1V1013.9M1559.7 1010.1h40M1559.7 1013.9h40M1580.9 1007.2V1011.3M1560.9 1007.2h40M1560.9 1011.3h40M1582.2 1019.6V1021.8M1562.2 1019.6h40M1562.2 1021.8h40M1583.5 1017V1019.7M1563.5 1017h40M1563.5 1019.7h40M1584.8 1022V1023.5M1564.8 1022h40M1564.8 1023.5h40M1586.1 1014V1017.2M1566.1 1014h40M1566.1 1017.2h40M1587.3 1005.2V1009.5M1567.3 1005.2h40M1567.3 1009.5h40M1588.6 1020.4V1022.3M1568.6 1020.4h40M1568.6 1022.3h40M1589.8 1013.6V1016.8M1569.8 1013.6h40M1569.8 1016.8h40M1591 1017.1V1019.7M1571 1017.1h40M1571 1019.7h40M1592.3 1020.2V1022.2M1572.3 1020.2h40M1572.3 1022.2h40M1593.5 1012.2V1015.6M1573.5 1012.2h40M1573.5 1015.6h40M1594.7 1016.5V1019.2M1574.7 1016.5h40M1574.7 1019.2h40M1595.9 1008.8V1012.6M1575.9 1008.8h40M1575.9 1012.6h40M1597.1 1008.9V1012.7M1577.1 1008.9h40M1577.1 1012.7h40M1598.3 1015.2V1018.1M1578.3 1015.2h40M1578.3 1018.1h40M1599.5 1024V1024.7M1579.5 1024h40M1579.5 1024.7h40M1600.7 1020.5V1022.3M1580.7 1020.5h40M1580.7 1022.3h40"/>
<path d="M512.4 927.6V1007.6M492.4 927.6h40M492.4 1007.6h40M620 949.5V1008.5M600 949.5h40M600 1008.5h40M692.9 438.8V514.2M672.9 438.8h40M672.9 514.2h40M748.1 353.2V405.8M728.1 353.2h40M728.1 405.8h40M792.5 307.4V348.6M772.5 307.4h40M772.5 348.6h40M829.7 379.7V426.3M809.7 379.7h40M809.7 426.3h40M861.7 408.4V454.6M841.7 408.4h40M841.7 454.6h40M889.8 399.6V442.2M869.8 399.6h40M869.8 442.2h40M914.8 377.7V415.8M894.8 377.7h40M894.8 415.8h40M937.3 414.7V454.1M917.3 414.7h40M917.3 454.1h40M957.8 452V492.3M937.8 452h40M937.8 492.3h40M976.6 494.4V535.7M956.6 494.4h40M956.6 535.7h40M994 513.4V554.1M974 513.4h40M974 554.1h40M1010.2 552.5V593.5M990.2 552.5h40M990.2 593.5h40M1025.3 481.9V518.3M1005.3 481.9h40M1005.3 518.3h40M1039.5 452.2V485.8M1019.5 452.2h40M1019.5 485.8h40M1052.8 524.3V560.4M1032.8 524.3h40M1032.8 560.4h40M1065.4 532.8V568.3M1045.4 532.8h40M1045.4 568.3h40M1077.4 548.9V584M1057.4 548.9h40M1057.4 584h40M1088.7 608.2V644.1M1068.7 608.2h40M1068.7 644.1h40M1099.5 644.3V680M1079.5 644.3h40M1079.5 680h40M1109.9 661.5V696.5M1089.9 661.5h40M1089.9 696.5h40M1119.7 681.1V715.5M1099.7 681.1h40M1099.7 715.5h40M1129.2 677.5V711.1M1109.2 677.5h40M1109.2 711.1h40M1138.3 697.9V730.9M1118.3 697.9h40M1118.3 730.9h40M1147.1 761.7V793.5M1127.1 761.7h40M1127.1 793.5h40M1155.5 767.7V798.8M1135.5 767.7h40M1135.5 798.8h40M1163.6 717.1V748.3M1143.6 717.1h40M1143.6 748.3h40M1171.5 705.1V735.8M1151.5 705.1h40M1151.5 735.8h40M1179 699.7V729.9M1159 699.7h40M1159 729.9h40M1186.4 731.4V761M1166.4 731.4h40M1166.4 761h40M1193.5 735.7V764.8M1173.5 735.7h40M1173.5 764.8h40M1200.4 743V771.5M1180.4 743h40M1180.4 771.5h40M1207.1 764.9V792.8M1187.1 764.9h40M1187.1 792.8h40M1213.6 772.6V799.9M1193.6 772.6h40M1193.6 799.9h40M1219.9 857.7V882M1199.9 857.7h40M1199.9 882h40M1226.1 795.5V821.6M1206.1 795.5h40M1206.1 821.6h40M1232.1 835.1V859.7M1212.1 835.1h40M1212.1 859.7h40M1237.9 840.5V864.6M1217.9 840.5h40M1217.9 864.6h40M1243.6 892.9V914.1M1223.6 892.9h40M1223.6 914.1h40M1249.2 866.1V888.6M1229.2 866.1h40M1229.2 888.6h40M1254.6 901V921.3M1234.6 901h40M1234.6 921.3h40M1259.9 922.9V941.5M1239.9 922.9h40M1239.9 941.5h40M1265.1 923.7V942M1245.1 923.7h40M1245.1 942h40M1270.2 896.7V916.6M1250.2 896.7h40M1250.2 916.6h40M1275.2 944.9V961.2M1255.2 944.9h40M1255.2 961.2h40M1280 971.2V984.6M1260 971.2h40M1260 984.6h40M1284.8 930.3V947.4M1264.8 930.3h40M1264.8 947.4h40M1289.4 969.7V983M1269.4 969.7h40M1269.4 983h40M1294 968.7V982M1274 968.7h40M1274 982h40M1298.4 963.5V977.2M1278.4 963.5h40M1278.4 977.2h40M1302.8 972.9V985.5M1282.8 972.9h40M1282.8 985.5h40M1307.1 976.7V988.7M1287.1 976.7h40M1287.1 988.7h40M1311.4 976.3V988.2M1291.4 976.3h40M1291.4 988.2h40M1315.5 983.1V994.1M1295.5 983.1h40M1295.5 994.1h40M1319.6 988.1V998.4M1299.6 988.1h40M1299.6 998.4h40M1323.6 1002.4V1010.2M1303.6 1002.4h40M1303.6 1010.2h40M1327.5 1006.4V1013.4M1307.5 1006.4h40M1307.5 1013.4h40M1331.4 1001.6V1009.4M1311.4 1001.6h40M1311.4 1009.4h40M1335.2 1009.4V1015.7M1315.2 1009.4h40M1315.2 1015.7h40M1338.9 993V1002.2M1318.9 993h40M1318.9 1002.2h40M1342.6 1010.5V1016.4M1322.6 1010.5h40M1322.6 1016.4h40M1346.3 1016.7V1021M1326.3 1016.7h40M1326.3 1021h40M1349.8 1004.5V1011.5M1329.8 1004.5h40M1329.8 1011.5h40M1353.3 1001V1008.6M1333.3 1001h40M1333.3 1008.6h40M1356.8 1007.4V1013.9M1336.8 1007.4h40M1336.8 1013.9h40M1360.2 1008.6V1014.8M1340.2 1008.6h40M1340.2 1014.8h40M1363.6 1002.2V1009.5M1343.6 1002.2h40M1343.6 1009.5h40M1366.9 1009.9V1015.7M1346.9 1009.9h40M1346.9 1015.7h40M1370.1 1019.2V1022.5M1350.1 1019.2h40M1350.1 1022.5h40M1373.3 1013.9V1018.7M1353.3 1013.9h40M1353.3 1018.7h40M1376.5 1014.8V1019.4M1356.5 1014.8h40M1356.5 1019.4h40M1379.6 1007.1V1013.3M1359.6 1007.1h40M1359.6 1013.3h40M1382.7 1010.4V1015.9M1362.7 1010.4h40M1362.7 1015.9h40M1385.8 1013.8V1018.5M1365.8 1013.8h40M1365.8 1018.5h40M1388.8 1009.5V1015.1M1368.8 1009.5h40M1368.8 1015.1h40M1391.8 1012.9V1017.8M1371.8 1012.9h40M1371.8 1017.8h40M1394.7 1010.5V1015.9M1374.7 1010.5h40M1374.7 1015.9h40M1397.6 1013.5V1018.2M1377.6 1013.5h40M1377.6 1018.2h40M1400.4 1011.5V1016.6M1380.4 1011.5h40M1380.4 1016.6h40M1403.2 1018.2V1021.6M1383.2 1018.2h40M1383.2 1021.6h40M1406 1021.9V1024M1386 1021.9h40M1386 1024h40M1408.8 1022.2V1024.2M1388.8 1022.2h40M1388.8 1024.2h40M1411.5 1021.5V1023.7M1391.5 1021.5h40M1391.5 1023.7h40M1414.2 1020.6V1023.2M1394.2 1020.6h40M1394.2 1023.2h40M1416.8 1015.1V1019.2M1396.8 1015.1h40M1396.8 1019.2h40M1419.5 1014.7V1018.9M1399.5 1014.7h40M1399.5 1018.9h40M1422.1 1011.2V1016.2M1402.1 1011.2h40M1402.1 1016.2h40M1424.6 1019.2V1022.2M1404.6 1019.2h40M1404.6 1022.2h40M1427.2 1015.6V1019.5M1407.2 1015.6h40M1407.2 1019.5h40M1429.7 1018.2V1021.5M1409.7 1018.2h40M1409.7 1021.5h40M1432.2 1015.2V1019.2M1412.2 1015.2h40M1412.2 1019.2h40M1434.6 1021.2V1023.5M1414.6 1021.2h40M1414.6 1023.5h40M1437.1 1021.6V1023.7M1417.1 1021.6h40M1417.1 1023.7h40M1439.5 1023.4V1024.7M1419.5 1023.4h40M1419.5 1024.7h40M1441.8 1016V1019.7M1421.8 1016h40M1421.8 1019.7h40M1444.2 1022.5V1024.2M1424.2 1022.5h40M1424.2 1024.2h40M1446.5 1015.2V1019.1M1426.5 1015.2h40M1426.5 1019.1h40M1448.8 1023.3V1024.6M1428.8 1023.3h40M1428.8 1024.6h40M1451.1 1019.6V1022.4M1431.1 1019.6h40M1431.1 1022.4h40M1453.4 1017.1V1020.6M1433.4 1017.1h40M1433.4 1020.6h40M1455.6 1014.4V1018.4M1435.6 1014.4h40M1435.6 1018.4h40M1457.8 1019.8V1022.5M1437.8 1019.8h40M1437.8 1022.5h40M1460 1020.1V1022.6M1440 1020.1h40M1440 1022.6h40M1462.2 1021.1V1023.3M1442.2 1021.1h40M1442.2 1023.3h40M1464.4 1019.7V1022.4M1444.4 1019.7h40M1444.4 1022.4h40M1466.5 1018.9V1021.8M1446.5 1018.9h40M1446.5 1021.8h40M1468.6 1018.4V1021.4M1448.6 1018.4h40M1448.6 1021.4h40M1470.7 1020.5V1022.9M1450.7 1020.5h40M1450.7 1022.9h40M1472.8 1023.2V1024.5M1452.8 1023.2h40M1452.8 1024.5h40M1474.9 1021.8V1023.7M1454.9 1021.8h40M1454.9 1023.7h40M1476.9 1023.5V1024.7M1456.9 1023.5h40M1456.9 1024.7h40M1478.9 1019.5V1022.1M1458.9 1019.5h40M1458.9 1022.1h40M1480.9 1019.4V1022M1460.9 1019.4h40M1460.9 1022h40M1482.9 1019.3V1022M1462.9 1019.3h40M1462.9 1022h40M1484.9 1016.5V1019.9M1464.9 1016.5h40M1464.9 1019.9h40M1486.8 1022.7V1024.2M1466.8 1022.7h40M1466.8 1024.2h40M1488.8 1022V1023.8M1468.8 1022h40M1468.8 1023.8h40M1490.7 1018.5V1021.4M1470.7 1018.5h40M1470.7 1021.4h40M1492.6 1016.9V1020.1M1472.6 1016.9h40M1472.6 1020.1h40M1494.5 1022.7V1024.2M1474.5 1022.7h40M1474.5 1024.2h40M1496.4 1016.2V1019.6M1476.4 1016.2h40M1476.4 1019.6h40M1498.2 1020.3V1022.6M1478.2 1020.3h40M1478.2 1022.6h40M1500.1 1019.7V1022.1M1480.1 1019.7h40M1480.1 1022.1h40M1501.9 1015V1018.5M1481.9 1015h40M1481.9 1018.5h40M1503.7 1022.5V1024.1M1483.7 1022.5h40M1483.7 1024.1h40M1505.5 1018.8V1021.5M1485.5 1018.8h40M1485.5 1021.5h40M1507.3 1017.2V1020.2M1487.3 1017.2h40M1487.3 1020.2h40M1509.1 1019.9V1022.3M1489.1 1019.9h40M1489.1 1022.3h40M1510.8 1022V1023.7M1490.8 1022h40M1490.8 1023.7h40M1512.6 1019.7V1022.1M1492.6 1019.7h40M1492.6 1022.1h40M1514.3 1016.9V1019.9M1494.3 1016.9h40M1494.3 1019.9h40M1516 1022.2V1023.8M1496 1022.2h40M1496 1023.8h40M1517.7 1018V1020.8M1497.7 1018h40M1497.7 1020.8h40M1519.4 1022.8V1024.2M1499.4 1022.8h40M1499.4 1024.2h40M1521.1 1017V1020M1501.1 1017h40M1501.1 1020h40M1522.8 1013.6V1017.2M1502.8 1013.6h40M1502.8 1017.2h40M1524.4 1018.6V1021.3M1504.4 1018.6h40M1504.4 1021.3h40M1526.1 1023.9V1024.7M1506.1 1023.9h40M1506.1 1024.7h40M1527.7 1015.3V1018.6M1507.7 1015.3h40M1507.7 1018.6h40M1529.3 1016.8V1019.8M1509.3 1016.8h40M1509.3 1019.8h40M1530.9 1015.1V1018.4M1510.9 1015.1h40M1510.9 1018.4h40M1532.5 1018.6V1021.2M1512.5 1018.6h40M1512.5 1021.2h40M1534.1 1009.8V1014M1514.1 1009.8h40M1514.1 1014h40M1535.7 1020.1V1022.3M1515.7 1020.1h40M1515.7 1022.3h40M1537.3 1011.9V1015.7M1517.3 1011.9h40M1517.3 1015.7h40M1538.8 1008.9V1013.1M1518.8 1008.9h40M1518.8 1013.1h40M1540.4 1010.8V1014.7M1520.4 1010.8h40M1520.4 1014.7h40M1541.9 1018.6V1021.2M1521.9 1018.6h40M1521.9 1021.2h40M1543.4 1020.3V1022.4M1523.4 1020.3h40M1523.4 1022.4h40M1544.9 1012.2V1015.9M1524.9 1012.2h40M1524.9 1015.9h40M1546.5 1012.7V1016.3M1526.5 1012.7h40M1526.5 1016.3h40M1547.9 1012.4V1016.1M1527.9 1012.4h40M1527.9 1016.1h40M1549.4 1009.9V1013.9M1529.4 1009.9h40M1529.4 1013.9h40M1550.9 1022.3V1023.8M1530.9 1022.3h40M1530.9 1023.8h40M1552.4 1019.7V1022M1532.4 1019.7h40M1532.4 1022h40M1553.8 1020.1V1022.2M1533.8 1020.1h40M1533.8 1022.2h40M1555.3 1007.7V1012M1535.3 1007.7h40M1535.3 1012h40M1556.7 1008.1V1012.3M1536.7 1008.1h40M1536.7 1012.3h40M1558.1 1012.9V1016.4M1538.1 1012.9h40M1538.1 1016.4h40M1559.6 1016.9V1019.7M1539.6 1016.9h40M1539.6 1019.7h40M1561 1015.3V1018.4M1541 1015.3h40M1541 1018.4h40M1562.4 1019.1V1021.4M1542.4 1019.1h40M1542.4 1021.4h40M1563.8 1012.3V1015.9M1543.8 1012.3h40M1543.8 1015.9h40M1565.2 1017.3V1020M1545.2 1017.3h40M1545.2 1020h40M1566.5 1014.6V1017.8M1546.5 1014.6h40M1546.5 1017.8h40M1567.9 1009.3V1013.2M1547.9 1009.3h40M1547.9 1013.2h40M1569.3 1020.2V1022.2M1549.3 1020.2h40M1549.3 1022.2h40M1570.6 1022.5V1023.9M1550.6 1022.5h40M1550.6 1023.9h40M1572 1017.5V1020.1M1552 1017.5h40M1552 1020.1h40M1573.3 1016.6V1019.4M1553.3 1016.6h40M1553.3 1019.4h40M1574.6 1011.9V1015.5M1554.6 1011.9h40M1554.6 1015.5h40M1576 1015.4V1018.4M1556 1015.4h40M1556 1018.4h40M1577.3 1022.9V1024.1M1557.3 1022.9h40M1557.3 1024.1h40M1578.6 1006.6V1010.8M1558.6 1006.6h40M1558.6 1010.8h40M1579.9 1021.5V1023.2M1559.9 1021.5h40M1559.9 1023.2h40M1581.2 1005.6V1009.9M1561.2 1005.6h40M1561.2 1009.9h40M1582.4 1007.3V1011.4M1562.4 1007.3h40M1562.4 1011.4h40M1583.7 1019.6V1021.8M1563.7 1019.6h40M1563.7 1021.8h40M1585 1018V1020.4M1565 1018h40M1565 1020.4h40M1586.3 1019.5V1021.7M1566.3 1019.5h40M1566.3 1021.7h40M1587.5 1012.7V1016M1567.5 1012.7h40M1567.5 1016h40M1588.8 1004.9V1009.2M1568.8 1004.9h40M1568.8 1009.2h40M1590 1023.5V1024.4M1570 1023.5h40M1570 1024.4h40M1591.2 1005.4V1009.7M1571.2 1005.4h40M1571.2 1009.7h40M1592.5 1010.4V1014M1572.5 1010.4h40M1572.5 1014h40M1593.7 1009.1V1012.8M1573.7 1009.1h40M1573.7 1012.8h40M1594.9 1014.5V1017.5M1574.9 1014.5h40M1574.9 1017.5h40M1596.1 1016V1018.8M1576.1 1016h40M1576.1 1018.8h40M1597.3 1010.1V1013.7M1577.3 1010.1h40M1577.3 1013.7h40M1598.5 1012.3V1015.7M1578.5 1012.3h40M1578.5 1015.7h40M1599.7 1020.8V1022.6M1579.7 1020.8h40M1579.7 1022.6h40M1600.9 1022.4V1023.7M1580.9 1022.4h40M1580.9 1023.7h40"/>
<path d="M353.7 959.1V1037.1M333.7 959.1h40M333.7 1037.1h40M534.2 937.4V1013.4M514.2 937.4h40M514.2 1013.4h40M633.9 849V933M613.9 849h40M613.9 933h40M703.1 411.6V481M683.1 411.6h40M683.1 481h40M756.1 368.2V421.9M736.1 368.2h40M736.1 421.9h40M799.2 367.4V415.9M779.2 367.4h40M779.2 415.9h40M835.4 413.4V463M815.4 413.4h40M815.4 463h40M866.6 484.5V538.5M846.6 484.5h40M846.6 538.5h40M894.1 361.2V399.5M874.1 361.2h40M874.1 399.5h40M918.7 426.3V468.4M898.7 426.3h40M898.7 468.4h40M940.9 445.5V486.9M920.9 445.5h40M920.9 486.9h40M961.1 488V530.4M941.1 488h40M941.1 530.4h40M979.6 542.5V585.8M959.6 542.5h40M959.6 585.8h40M996.8 514.3V554.8M976.8 514.3h40M976.8 554.8h40M1012.8 475.5V512.6M992.8 475.5h40M992.8 512.6h40M1027.7 540.8V579.7M1007.7 540.8h40M1007.7 579.7h40M1041.7 488.9V524.3M1021.7 488.9h40M1021.7 524.3h40M1055 492.8V527.3M1035 492.8h40M1035 527.3h40M1067.4 570.4V607M1047.4 570.4h40M1047.4 607h40M1079.3 549.4V584.4M1059.3 549.4h40M1059.3 584.4h40M1090.5 606.3V642M1070.5 606.3h40M1070.5 642h40M1101.3 615.1V650.1M1081.3 615.1h40M1081.3 650.1h40M1111.5 653.5V688.3M1091.5 653.5h40M1091.5 688.3h40M1121.3 655V689.1M1101.3 655h40M1101.3 689.1h40M1130.7 656.6V690M1110.7 656.6h40M1110.7 690h40M1139.8 672.2V705.1M1119.8 672.2h40M1119.8 705.1h40M1148.5 711.9V744.2M1128.5 711.9h40M1128.5 744.2h40M1156.9 734.9V766.4M1136.9 734.9h40M1136.9 766.4h40M1164.9 721.2V752.3M1144.9 721.2h40M1144.9 752.3h40M1172.7 729.4V759.9M1152.7 729.4h40M1152.7 759.9h40M1180.3 742.2V772.1M1160.3 742.2h40M1160.3 772.1h40M1187.6 698.4V728M1167.6 698.4h40M1167.6 728h40M1194.7 721.2V750.3M1174.7 721.2h40M1174.7 750.3h40M1201.5 745V773.5M1181.5 745h40M1181.5 773.5h40M1208.2 741.7V769.8M1188.2 741.7h40M1188.2 769.8h40M1214.7 833.8V859.4M1194.7 833.8h40M1194.7 859.4h40M1221 818.7V844.5M1201 818.7h40M1201 844.5h40M1227.1 776.4V802.9M1207.1 776.4h40M1207.1 802.9h40M1233.1 812.4V837.7M1213.1 812.4h40M1213.1 837.7h40M1238.9 847.6V871.4M1218.9 847.6h40M1218.9 871.4h40M1244.6 882.9V904.7M1224.6 882.9h40M1224.6 904.7h40M1250.1 849.4V872.5M1230.1 849.4h40M1230.1 872.5h40M1255.5 861V883.4M1235.5 861h40M1235.5 883.4h40M1260.8 898.3V918.5M1240.8 898.3h40M1240.8 918.5h40M1266 917.5V936.2M1246 917.5h40M1246 936.2h40M1271 957.8V972.9M1251 957.8h40M1251 972.9h40M1276 931.4V948.8M1256 931.4h40M1256 948.8h40M1280.8 953V968.2M1260.8 953h40M1260.8 968.2h40M1285.5 971.3V984.5M1265.5 971.3h40M1265.5 984.5h40M1290.2 984.3V995.7M1270.2 984.3h40M1270.2 995.7h40M1294.7 963.2V977M1274.7 963.2h40M1274.7 977h40M1299.2 959V973.1M1279.2 959h40M1279.2 973.1h40M1303.6 1000.6V1009.1M1283.6 1000.6h40M1283.6 1009.1h40M1307.9 993.8V1003.4M1287.9 993.8h40M1287.9 1003.4h40M1312.1 985V995.8M1292.1 985h40M1292.1 995.8h40M1316.2 991.5V1001.3M1296.2 991.5h40M1296.2 1001.3h40M1320.3 1003.5V1011.2M1300.3 1003.5h40M1300.3 1011.2h40M1324.3 1001.6V1009.6M1304.3 1001.6h40M1304.3 1009.6h40M1328.2 997.2V1005.9M1308.2 997.2h40M1308.2 1005.9h40M1332 993.5V1002.7M1312 993.5h40M1312 1002.7h40M1335.8 1005V1012.2M1315.8 1005h40M1315.8 1012.2h40M1339.6 994.1V1003M1319.6 994.1h40M1319.6 1003h40M1343.2 1016.3V1020.8M1323.2 1016.3h40M1323.2 1020.8h40M1346.9 1001.3V1009M1326.9 1001.3h40M1326.9 1009h40M1350.4 1014.2V1019.2M1330.4 1014.2h40M1330.4 1019.2h40M1353.9 1002.2V1009.6M1333.9 1002.2h40M1333.9 1009.6h40M1357.4 1005.3V1012.1M1337.4 1005.3h40M1337.4 1012.1h40M1360.8 997.2V1005.3M1340.8 997.2h40M1340.8 1005.3h40M1364.1 1000V1007.6M1344.1 1000h40M1344.1 1007.6h40M1367.4 1010.6V1016.2M1347.4 1010.6h40M1347.4 1016.2h40M1370.7 1007.1V1013.4M1350.7 1007.1h40M1350.7 1013.4h40M1373.9 1021.3V1023.8M1353.9 1021.3h40M1353.9 1023.8h40M1377 1020.5V1023.3M1357 1020.5h40M1357 1023.3h40M1380.2 1015.3V1019.7M1360.2 1015.3h40M1360.2 1019.7h40M1383.2 1007.1V1013.2M1363.2 1007.1h40M1363.2 1013.2h40M1386.3 1014.4V1019M1366.3 1014.4h40M1366.3 1019h40M1389.3 1013.1V1017.9M1369.3 1013.1h40M1369.3 1017.9h40M1392.2 1009.7V1015.2M1372.2 1009.7h40M1372.2 1015.2h40M1395.2 1016.4V1020.4M1375.2 1016.4h40M1375.2 1020.4h40M1398.1 1017.9V1021.5M1378.1 1017.9h40M1378.1 1021.5h40M1400.9 1017.4V1021.1M1380.9 1017.4h40M1380.9 1021.1h40M1403.7 1019.6V1022.6M1383.7 1019.6h40M1383.7 1022.6h40M1406.5 1023.7V1024.8M1386.5 1023.7h40M1386.5 1024.8h40M1409.2 1016.5V1020.4M1389.2 1016.5h40M1389.2 1020.4h40M1412 1015.7V1019.8M1392 1015.7h40M1392 1019.8h40M1414.6 1020.8V1023.3M1394.6 1020.8h40M1394.6 1023.3h40M1417.3 1020.9V1023.3M1397.3 1020.9h40M1397.3 1023.3h40M1419.9 1013.8V1018.2M1399.9 1013.8h40M1399.9 1018.2h40M1422.5 1012.4V1017.1M1402.5 1012.4h40M1402.5 1017.1h40M1425.1 1016.8V1020.5M1405.1 1016.8h40M1405.1 1020.5h40M1427.6 1023.2V1024.6M1407.6 1023.2h40M1407.6 1024.6h40M1430.1 1012V1016.8M1410.1 1012h40M1410.1 1016.8h40M1432.6 1021.8V1023.9M1412.6 1021.8h40M1412.6 1023.9h40M1435 1022.1V1024M1415 1022.1h40M1415 1024h40M1437.5 1020.9V1023.3M1417.5 1020.9h40M1417.5 1023.3h40M1439.9 1015.5V1019.4M1419.9 1015.5h40M1419.9 1019.4h40M1442.2 1019.5V1022.3M1422.2 1019.5h40M1422.2 1022.3h40M1444.6 1014.3V1018.4M1424.6 1014.3h40M1424.6 1018.4h40M1446.9 1014.6V1018.6M1426.9 1014.6h40M1426.9 1018.6h40M1449.2 1021.7V1023.7M1429.2 1021.7h40M1429.2 1023.7h40M1451.5 1021.5V1023.6M1431.5 1021.5h40M1431.5 1023.6h40M1453.8 1021.6V1023.7M1433.8 1021.6h40M1433.8 1023.7h40M1456 1014.7V1018.6M1436 1014.7h40M1436 1018.6h40M1458.2 1015.8V1019.5M1438.2 1015.8h40M1438.2 1019.5h40M1460.4 1017.2V1020.5M1440.4 1017.2h40M1440.4 1020.5h40M1462.6 1018.1V1021.2M1442.6 1018.1h40M1442.6 1021.2h40M1464.7 1022.2V1024M1444.7 1022.2h40M1444.7 1024h40M1466.9 1022.3V1024M1446.9 1022.3h40M1446.9 1024h40M1469 1020.3V1022.8M1449 1020.3h40M1449 1022.8h40M1471.1 1022V1023.9M1451.1 1022h40M1451.1 1023.9h40M1473.1 1021.3V1023.4M1453.1 1021.3h40M1453.1 1023.4h40M1475.2 1024.1V1024.9M1455.2 1024.1h40M1455.2 1024.9h40M1477.2 1023.4V1024.6M1457.2 1023.4h40M1457.2 1024.6h40M1479.3 1022.7V1024.2M1459.3 1022.7h40M1459.3 1024.2h40M1481.3 1020.4V1022.7M1461.3 1020.4h40M1461.3 1022.7h40M1483.3 1022.1V1023.8M1463.3 1022.1h40M1463.3 1023.8h40M1485.2 1018.7V1021.5M1465.2 1018.7h40M1465.2 1021.5h40M1487.2 1015.6V1019.1M1467.2 1015.6h40M1467.2 1019.1h40M1489.1 1023.2V1024.5M1469.1 1023.2h40M1469.1 1024.5h40M1491 1020.1V1022.5M1471 1020.1h40M1471 1022.5h40M1492.9 1015.7V1019.1M1472.9 1015.7h40M1472.9 1019.1h40M1494.8 1018.1V1021M1474.8 1018.1h40M1474.8 1021h40M1496.7 1018.6V1021.4M1476.7 1018.6h40M1476.7 1021.4h40M1498.5 1021V1023.1M1478.5 1021h40M1478.5 1023.1h40M1500.4 1023.1V1024.4M1480.4 1023.1h40M1480.4 1024.4h40M1502.2 1014.9V1018.5M1482.2 1014.9h40M1482.2 1018.5h40M1504 1014.9V1018.5M1484 1014.9h40M1484 1018.5h40M1505.8 1016.1V1019.4M1485.8 1016.1h40M1485.8 1019.4h40M1507.6 1021.7V1023.5M1487.6 1021.7h40M1487.6 1023.5h40M1509.4 1018.1V1020.9M1489.4 1018.1h40M1489.4 1020.9h40M1511.1 1022.5V1024.1M1491.1 1022.5h40M1491.1 1024.1h40M1512.9 1021V1023.1M1492.9 1021h40M1492.9 1023.1h40M1514.6 1023.4V1024.5M1494.6 1023.4h40M1494.6 1024.5h40M1516.3 1015.4V1018.8M1496.3 1015.4h40M1496.3 1018.8h40M1518 1016.6V1019.7M1498 1016.6h40M1498 1019.7h40M1519.7 1013.3V1017M1499.7 1013.3h40M1499.7 1017h40M1521.4 1022.7V1024.1M1501.4 1022.7h40M1501.4 1024.1h40M1523.1 1016V1019.2M1503.1 1016h40M1503.1 1019.2h40M1524.7 1020V1022.3M1504.7 1020h40M1504.7 1022.3h40M1526.4 1015.1V1018.4M1506.4 1015.1h40M1506.4 1018.4h40M1528 1023.7V1024.6M1508 1023.7h40M1508 1024.6h40M1529.6 1016.8V1019.8M1509.6 1016.8h40M1509.6 1019.8h40M1531.2 1016.3V1019.4M1511.2 1016.3h40M1511.2 1019.4h40M1532.8 1017.8V1020.6M1512.8 1017.8h40M1512.8 1020.6h40M1534.4 1014.5V1017.9M1514.4 1014.5h40M1514.4 1017.9h40M1536 1014.4V1017.8M1516 1014.4h40M1516 1017.8h40M1537.5 1015.2V1018.5M1517.5 1015.2h40M1517.5 1018.5h40M1539.1 1014.6V1018M1519.1 1014.6h40M1519.1 1018h40M1540.6 1009.3V1013.5M1520.6 1009.3h40M1520.6 1013.5h40M1542.2 1018.6V1021.2M1522.2 1018.6h40M1522.2 1021.2h40M1543.7 1010.9V1014.9M1523.7 1010.9h40M1523.7 1014.9h40M1545.2 1009.5V1013.6M1525.2 1009.5h40M1525.2 1013.6h40M1546.7 1018.7V1021.2M1526.7 1018.7h40M1526.7 1021.2h40M1548.2 1017.9V1020.6M1528.2 1017.9h40M1528.2 1020.6h40M1549.7 1012.2V1015.9M1529.7 1012.2h40M1529.7 1015.9h40M1551.2 1018.5V1021.1M1531.2 1018.5h40M1531.2 1021.1h40M1552.6 1011.7V1015.5M1532.6 1011.7h40M1532.6 1015.5h40M1554.1 1016.3V1019.3M1534.1 1016.3h40M1534.1 1019.3h40M1555.5 1010.2V1014.2M1535.5 1010.2h40M1535.5 1014.2h40M1557 1013.8V1017.2M1537 1013.8h40M1537 1017.2h40M1558.4 1015.9V1018.9M1538.4 1015.9h40M1538.4 1018.9h40M1559.8 1008.1V1012.3M1539.8 1008.1h40M1539.8 1012.3h40M1561.2 1022.9V1024.1M1541.2 1022.9h40M1541.2 1024.1h40M1562.6 1007V1011.3M1542.6 1007h40M1542.6 1011.3h40M1564 1022V1023.6M1544 1022h40M1544 1023.6h40M1565.4 1006.2V1010.6M1545.4 1006.2h40M1545.4 1010.6h40M1566.8 1018.2V1020.7M1546.8 1018.2h40M1546.8 1020.7h40M1568.1 1020.5V1022.5M1548.1 1020.5h40M1548.1 1022.5h40M1569.5 1021.3V1023.1M1549.5 1021.3h40M1549.5 1023.1h40M1570.8 1006.8V1011M1550.8 1006.8h40M1550.8 1011h40M1572.2 1021.1V1022.9M1552.2 1021.1h40M1552.2 1022.9h40M1573.5 1007.4V1011.6M1553.5 1007.4h40M1553.5 1011.6h40M1574.9 1017.9V1020.4M1554.9 1017.9h40M1554.9 1020.4h40M1576.2 1011.7V1015.2M1556.2 1011.7h40M1556.2 1015.2h40M1577.5 1012.1V1015.6M1557.5 1012.1h40M1557.5 1015.6h40M1578.8 1006.9V1011.1M1558.8 1006.9h40M1558.8 1011.1h40M1580.1 1017.7V1020.3M1560.1 1017.7h40M1560.1 1020.3h40M1581.4 1015.4V1018.4M1561.4 1015.4h40M1561.4 1018.4h40M1582.7 1015.3V1018.3M1562.7 1015.3h40M1562.7 1018.3h40M1583.9 1022.1V1023.6M1563.9 1022.1h40M1563.9 1023.6h40M1585.2 1021.2V1022.9M1565.2 1021.2h40M1565.2 1022.9h40M1586.5 1013.4V1016.6M1566.5 1013.4h40M1566.5 1016.6h40M1587.7 1010.1V1013.8M1567.7 1010.1h40M1567.7 1013.8h40M1589 1006.6V1010.8M1569 1006.6h40M1569 1010.8h40M1590.2 1010.5V1014.1M1570.2 1010.5h40M1570.2 1014.1h40M1591.5 1016.5V1019.2M1571.5 1016.5h40M1571.5 1019.2h40M1592.7 1005.3V1009.5M1572.7 1005.3h40M1572.7 1009.5h40M1593.9 1006.1V1010.3M1573.9 1006.1h40M1573.9 1010.3h40M1595.1 1015.9V1018.7M1575.1 1015.9h40M1575.1 1018.7h40M1596.3 1008.5V1012.4M1576.3 1008.5h40M1576.3 1012.4h40M1597.5 1020.2V1022.1M1577.5 1020.2h40M1577.5 1022.1h40M1598.7 1023V1024.1M1578.7 1023h40M1578.7 1024.1h40M1599.9 1021.8V1023.3M1579.9 1021.8h40M1579.9 1023.3h40M1601.1 1022.3V1023.7M1581.1 1022.3h40M1581.1 1023.7h40"/>
</g>
<path d="M353.7 998.1h0M395.5 871.6h0M430.8 1021.7h0M461.3 1002.8h0M488.3 969h0M512.4 967.6h0M534.2 975.4h0M554.1 1023.3h0M572.5 1022.3h0M589.4 1023.7h0M605.2 949.9h0M620 979h0M633.9 891h0M646.9 806.3h0M659.3 822.9h0M671.1 681.1h0M682.2 520.2h0M692.9 476.5h0M703.1 446.3h0M712.8 373.9h0M722.1 546.6h0M731.1 328h0M739.8 334.1h0M748.1 379.5h0M756.1 395h0M763.9 511.2h0M771.4 491.6h0M778.6 391.1h0M785.7 415.7h0M792.5 328h0M799.2 391.6h0M805.6 390.7h0M811.9 453.9h0M818 428.4h0M823.9 434.4h0M829.7 403h0M835.4 438.2h0M840.9 419.3h0M846.3 383.2h0M851.5 447.3h0M856.7 404.3h0M861.7 431.5h0M866.6 511.5h0M871.5 445h0M876.2 434.4h0M880.8 443.5h0M885.3 408.6h0M889.8 420.9h0M894.1 380.3h0M898.4 425.6h0M902.6 381.7h0M906.7 374.1h0M910.8 405.8h0M914.8 396.7h0M918.7 447.3h0M922.5 389.2h0M926.3 423.8h0M930 405.8h0M933.7 430.3h0M937.3 434.4h0M940.9 466.2h0M944.4 447.3h0M947.8 458.6h0M951.2 437.4h0M954.5 500.4h0M957.8 472.1h0M961.1 509.2h0M964.3 466.2h0M967.4 469.9h0M970.5 490.6h0M973.6 489.9h0M976.6 515h0M979.6 564.2h0M982.6 547.3h0M985.5 557.7h0M988.4 521h0M991.2 504.5h0M994 533.7h0M996.8 534.5h0M999.6 526.6h0M1002.3 515.4h0M1004.9 570.4h0M1007.6 562.9h0M1010.2 573h0M1012.8 494h0M1015.4 547.5h0M1017.9 536.9h0M1020.4 542.2h0M1022.9 538.9h0M1025.3 500.1h0M1027.7 560.2h0M1030.1 567.6h0M1032.5 488h0M1034.8 552.6h0M1037.2 559.5h0M1039.5 469h0M1041.7 506.6h0M1044 518.5h0M1046.2 569.5h0M1048.4 520h0M1050.6 508.9h0M1052.8 542.3h0M1055 510.1h0M1057.1 555.7h0M1059.2 524.1h0M1061.3 568.8h0M1063.4 553.4h0M1065.4 550.6h0M1067.4 588.7h0M1069.5 569.4h0M1071.5 513.3h0M1073.4 546.3h0M1075.4 565.3h0M1077.4 566.5h0M1079.3 566.9h0M1081.2 600.6h0M1083.1 567.8h0M1085 618.1h0M1086.9 601.2h0M1088.7 626.1h0M1090.5 624.1h0M1092.4 616.7h0M1094.2 622.7h0M1096 622.8h0M1097.8 646.6h0M1099.5 662.2h0M1101.3 632.6h0M1103 682.8h0M1104.7 686.3h0M1106.5 684.4h0M1108.2 662.3h0M1109.9 679h0M1111.5 670.9h0M1113.2 661.8h0M1114.8 678.2h0M1116.5 657h0M1118.1 673.8h0M1119.7 698.3h0M1121.3 672h0M1122.9 661.6h0M1124.5 700h0M1126.1 691h0M1127.7 682.2h0M1129.2 694.3h0M1130.7 673.3h0M1132.3 669.7h0M1133.8 698.2h0M1135.3 682.1h0M1136.8 677h0M1138.3 714.4h0M1139.8 688.7h0M1141.3 718.2h0M1142.7 676.4h0M1144.2 714.2h0M1145.6 711.9h0M1147.1 777.6h0M1148.5 728.1h0M1149.9 734.5h0M1151.3 706.8h0M1152.7 720.5h0M1154.1 735h0M1155.5 783.2h0M1156.9 750.7h0M1158.2 728.9h0M1159.6 745h0M1160.9 699h0M1162.3 722.2h0M1163.6 732.7h0M1164.9 736.7h0M1166.3 704.5h0M1167.6 741h0M1168.9 746.8h0M1170.2 739.1h0M1171.5 720.4h0M1172.7 744.6h0M1174 719h0M1175.3 723h0M1176.5 726.6h0M1177.8 704.4h0M1179 714.8h0M1180.3 757.1h0M1181.5 732.4h0M1182.7 724h0M1184 764.5h0M1185.2 831.4h0M1186.4 746.2h0M1187.6 713.2h0M1188.8 720.3h0M1190 836.1h0M1191.2 726.8h0M1192.3 751.6h0M1193.5 750.2h0M1194.7 735.8h0M1195.8 745.1h0M1197 740.4h0M1198.1 792.6h0M1199.3 789.7h0M1200.4 757.3h0M1201.5 759.2h0M1202.7 736.1h0M1203.8 767.2h0M1204.9 777.7h0M1206 737.3h0M1207.1 778.9h0M1208.2 755.8h0M1209.3 775.8h0M1210.4 777.9h0M1211.5 757.1h0M1212.5 776.7h0M1213.6 786.3h0M1214.7 846.6h0M1215.7 766.8h0M1216.8 838.4h0M1217.9 842h0M1218.9 807.8h0M1219.9 869.9h0M1221 831.6h0M1222 831.8h0M1223 858.2h0M1224.1 812.4h0M1225.1 847.5h0M1226.1 808.5h0M1227.1 789.7h0M1228.1 857.2h0M1229.1 855.8h0M1230.1 830.6h0M1231.1 886.5h0M1232.1 847.4h0M1233.1 825h0M1234.1 890h0M1235 850.4h0M1236 880.6h0M1237 901.6h0M1237.9 852.6h0M1238.9 859.5h0M1239.9 896.2h0M1240.8 872.8h0M1241.8 898.1h0M1242.7 906.2h0M1243.6 903.5h0M1244.6 893.8h0M1245.5 908.3h0M1246.4 861.3h0M1247.4 939.7h0M1248.3 934.8h0M1249.2 877.4h0M1250.1 861h0M1251 931.9h0M1251.9 908.2h0M1252.8 879.1h0M1253.7 967.1h0M1254.6 911.2h0M1255.5 872.2h0M1256.4 928.5h0M1257.3 920.5h0M1258.2 946.3h0M1259.1 926.4h0M1259.9 932.2h0M1260.8 908.4h0M1261.7 894.6h0M1262.5 925.4h0M1263.4 916.4h0M1264.3 905.4h0M1265.1 932.8h0M1266 926.9h0M1266.8 949.3h0M1267.7 913.3h0M1268.5 952.8h0M1269.4 944.1h0M1270.2 906.6h0M1271 965.3h0M1271.9 953.7h0M1272.7 967.8h0M1273.5 959h0M1274.3 921.2h0M1275.2 953h0M1276 940.1h0M1276.8 973h0M1277.6 941.2h0M1278.4 947.9h0M1279.2 949.6h0M1280 977.9h0M1280.8 960.6h0M1281.6 990.7h0M1282.4 953.3h0M1283.2 955.5h0M1284 946.9h0M1284.8 938.8h0M1285.5 977.9h0M1286.3 1000h0M1287.1 995h0M1287.9 1000.3h0M1288.6 958.9h0M1289.4 976.3h0M1290.2 990h0M1290.9 970.3h0M1291.7 948.8h0M1292.5 979.6h0M1293.2 983.2h0M1294 975.3h0M1294.7 970.1h0M1295.5 1001.2h0M1296.2 1002.8h0M1297 1001.1h0M1297.7 957.8h0M1298.4 970.3h0M1299.2 966.1h0M1299.9 1011.7h0M1300.7 972.2h0M1301.4 973.2h0M1302.1 985.3h0M1302.8 979.2h0M1303.6 1004.8h0M1304.3 983.9h0M1305 989.2h0M1305.7 977.2h0M1306.4 998.8h0M1307.1 982.7h0M1307.9 998.6h0M1308.6 986.9h0M1309.3 1007.2h0M1310 989.3h0M1310.7 982.4h0M1311.4 982.2h0M1312.1 990.4h0M1312.8 993.9h0M1313.5 989.3h0M1314.1 984.1h0M1314.8 996.6h0M1315.5 988.6h0M1316.2 996.4h0M1316.9 999.1h0M1317.6 996.5h0M1318.2 1014.8h0M1318.9 1018.5h0M1319.6 993.3h0M1320.3 1007.3h0M1320.9 1003.7h0M1321.6 1008.1h0M1322.3 1003.6h0M1322.9 1004.4h0M1323.6 1006.3h0M1324.3 1005.6h0M1324.9 997.2h0M1325.6 1004.7h0M1326.2 997.1h0M1326.9 1013.2h0M1327.5 1009.9h0M1328.2 1001.5h0M1328.8 1003.9h0M1329.5 1011.7h0M1330.1 996.8h0M1330.8 999.9h0M1331.4 1005.5h0M1332 998.1h0M1332.7 1000.7h0M1333.3 1008.6h0M1333.9 1003.2h0M1334.6 1015.1h0M1335.2 1012.6h0M1335.8 1008.6h0M1336.5 1017.8h0M1337.1 1007.5h0M1337.7 1008.5h0M1338.3 996h0M1338.9 997.6h0M1339.6 998.5h0M1340.2 1010.8h0M1340.8 1018.6h0M1341.4 1009.6h0M1342 1011.3h0M1342.6 1013.5h0M1343.2 1018.5h0M1343.8 1006.4h0M1344.4 1004.2h0M1345.1 998.9h0M1345.7 999.9h0M1346.3 1018.8h0M1346.9 1005.2h0M1347.4 1019.8h0M1348 1004.1h0M1348.6 1014.9h0M1349.2 1012.6h0M1349.8 1008h0M1350.4 1016.7h0M1351 1005.1h0M1351.6 1011.4h0M1352.2 1015.1h0M1352.8 1003.8h0M1353.3 1004.8h0M1353.9 1005.9h0M1354.5 1008.1h0M1355.1 1006.6h0M1355.6 1003.5h0M1356.2 1004.4h0M1356.8 1010.7h0M1357.4 1008.7h0M1357.9 1015.2h0M1358.5 1006.6h0M1359.1 1007.3h0M1359.6 999.8h0M1360.2 1011.7h0M1360.8 1001.3h0M1361.3 1003.6h0M1361.9 1013.6h0M1362.4 1014h0M1363 1021.5h0M1363.6 1005.8h0M1364.1 1003.8h0M1364.7 1011.2h0M1365.2 1009.4h0M1365.8 1004.8h0M1366.3 1012h0M1366.9 1012.8h0M1367.4 1013.4h0M1368 1017.5h0M1368.5 1007.1h0M1369 1022.3h0M1369.6 1021.9h0M1370.1 1020.8h0M1370.7 1010.3h0M1371.2 1006.9h0M1371.7 1010.4h0M1372.3 1011.6h0M1372.8 1017.5h0M1373.3 1016.3h0M1373.9 1022.6h0M1374.4 1019.9h0M1374.9 1023.1h0M1375.5 1022.8h0M1376 1011.9h0M1376.5 1017.1h0M1377 1021.9h0M1377.6 1019.5h0M1378.1 1020h0M1378.6 1022.5h0M1379.1 1023.7h0M1379.6 1010.2h0M1380.2 1017.5h0M1380.7 1012.8h0M1381.2 1019.8h0M1381.7 1013.5h0M1382.2 1019.1h0M1382.7 1013.1h0M1383.2 1010.2h0M1383.8 1022.2h0M1384.3 1017.6h0M1384.8 1017.5h0M1385.3 1017.2h0M1385.8 1016.2h0M1386.3 1016.7h0M1386.8 1014.9h0M1387.3 1023.7h0M1387.8 1022.9h0M1388.3 1019.7h0M1388.8 1012.3h0M1389.3 1015.5h0M1389.8 1013.1h0M1390.3 1023.8h0M1390.8 1018.9h0M1391.3 1011.9h0M1391.8 1015.3h0M1392.2 1012.5h0M1392.7 1016.5h0M1393.2 1019.3h0M1393.7 1020h0M1394.2 1011.3h0M1394.7 1013.2h0M1395.2 1018.4h0M1395.6 1022.3h0M1396.1 1017.2h0M1396.6 1020.1h0M1397.1 1017.5h0M1397.6 1015.8h0M1398.1 1019.7h0M1398.5 1019.3h0M1399 1016.8h0M1399.5 1021.9h0M1400 1014.4h0M1400.4 1014h0M1400.9 1019.2h0M1401.4 1015.3h0M1401.8 1021.9h0M1402.3 1014.7h0M1402.8 1012.1h0M1403.2 1019.9h0M1403.7 1021.1h0M1404.2 1015.4h0M1404.6 1018.3h0M1405.1 1013.2h0M1405.6 1017.1h0M1406 1022.9h0M1406.5 1024.3h0M1407 1019.1h0M1407.4 1023.9h0M1407.9 1018.3h0M1408.3 1024.3h0M1408.8 1023.2h0M1409.2 1018.5h0M1409.7 1021.7h0M1410.1 1018.6h0M1410.6 1022.9h0M1411.1 1018.2h0M1411.5 1022.6h0M1412 1017.8h0M1412.4 1013.1h0M1412.9 1016.5h0M1413.3 1023.8h0M1413.7 1016h0M1414.2 1021.9h0M1414.6 1022h0M1415.1 1018.9h0M1415.5 1013.5h0M1416 1023.1h0M1416.4 1015.1h0M1416.8 1017.2h0M1417.3 1022.1h0M1417.7 1022.6h0M1418.2 1017.1h0M1418.6 1019.8h0M1419 1020.3h0M1419.5 1016.8h0M1419.9 1016h0M1420.3 1022.3h0M1420.8 1017.3h0M1421.2 1015.3h0M1421.6 1015.9h0M1422.1 1013.7h0M1422.5 1014.8h0M1422.9 1019.5h0M1423.4 1019.1h0M1423.8 1013.7h0M1424.2 1020.6h0M1424.6 1020.7h0M1425.1 1018.6h0M1425.5 1016.4h0M1425.9 1021.7h0M1426.3 1019.4h0M1426.8 1014.9h0M1427.2 1017.6h0M1427.6 1023.9h0M1428 1014.9h0M1428.4 1022.5h0M1428.9 1017.1h0M1429.3 1022.9h0M1429.7 1019.8h0M1430.1 1014.4h0M1430.5 1016.3h0M1430.9 1018.4h0M1431.3 1015.3h0M1431.8 999.3h0M1432.2 1017.2h0M1432.6 1022.8h0M1433 1021.4h0M1433.4 1015.9h0M1433.8 1019.7h0M1434.2 1015.1h0M1434.6 1022.4h0M1435 1023.1h0M1435.4 1017.2h0M1435.8 1023.5h0M1436.3 1023.3h0M1436.7 1017.9h0M1437.1 1022.7h0M1437.5 1022.1h0M1437.9 1021.1h0M1438.3 1017.8h0M1438.7 1018h0M1439.1 1023.6h0M1439.5 1024h0M1439.9 1017.5h0M1440.3 1021.2h0M1440.7 1020h0M1441.1 1016.7h0M1441.5 1021.2h0M1441.8 1017.9h0M1442.2 1020.9h0M1442.6 1019.6h0M1443 1021.4h0M1443.4 1018.2h0M1443.8 1020.2h0M1444.2 1023.4h0M1444.6 1016.4h0M1445 1016.5h0M1445.4 1023.1h0M1445.8 1016.1h0M1446.1 1020.6h0M1446.5 1017.1h0M1446.9 1016.6h0M1447.3 1019.1h0M1447.7 1018.8h0M1448.1 1024.3h0M1448.5 1023.4h0M1448.8 1024h0M1449.2 1022.7h0M1449.6 1015.8h0M1450 1021.9h0M1450.4 1016.9h0M1450.7 1015.2h0M1451.1 1021h0M1451.5 1022.5h0M1451.9 1017.5h0M1452.3 1019.5h0M1452.6 1020.3h0M1453 1024.1h0M1453.4 1018.8h0M1453.8 1022.7h0M1454.1 1023.7h0M1454.5 1019h0M1454.9 1019.4h0M1455.3 1016.7h0M1455.6 1016.4h0M1456 1016.6h0M1456.4 1018h0M1456.7 1022.7h0M1457.1 1019.3h0M1457.5 1019.2h0M1457.8 1021.1h0M1458.2 1017.7h0M1458.6 1020.6h0M1458.9 1024.2h0M1459.3 1021.7h0M1459.7 1021.8h0M1460 1021.3h0M1460.4 1018.9h0M1460.8 1017.8h0M1461.1 1019.7h0M1461.5 1023.7h0M1461.9 1018h0M1462.2 1022.2h0M1462.6 1019.6h0M1462.9 1022.5h0M1463.3 1021h0M1463.7 1018.6h0M1464 1023h0M1464.4 1021h0M1464.7 1023.1h0M1465.1 1021.4h0M1465.4 1020h0M1465.8 1024.4h0M1466.2 1019.6h0M1466.5 1020.3h0M1466.9 1023.2h0M1467.2 1023.4h0M1467.6 1020.8h0M1467.9 1020.1h0M1468.3 1021.1h0M1468.6 1019.9h0M1469 1021.5h0M1469.3 1024.3h0M1469.7 1021.1h0M1470 1020.4h0M1470.4 1020.7h0M1470.7 1021.7h0M1471.1 1022.9h0M1471.4 1024.6h0M1471.8 1023h0M1472.1 1022h0M1472.5 1020.3h0M1472.8 1023.9h0M1473.1 1022.3h0M1473.5 1020.4h0M1473.8 1024.5h0M1474.2 1023.6h0M1474.5 1022.8h0M1474.9 1022.8h0M1475.2 1024.5h0M1475.5 1020.3h0M1475.9 1023.5h0M1476.2 1021.8h0M1476.6 1021.9h0M1476.9 1024.1h0M1477.2 1024h0M1477.6 1020.8h0M1477.9 1019.8h0M1478.3 1020.8h0M1478.6 1022.9h0M1478.9 1020.8h0M1479.3 1023.5h0M1479.6 1020.5h0M1479.9 1019.7h0M1480.3 1020.7h0M1480.6 1018.7h0M1480.9 1020.7h0M1481.3 1021.6h0M1481.6 1023.5h0M1481.9 1022.5h0M1482.3 1022.3h0M1482.6 1018.8h0M1482.9 1020.6h0M1483.3 1023h0M1483.6 1024.3h0M1483.9 1021.4h0M1484.2 1021.6h0M1484.6 1023.4h0M1484.9 1018.2h0M1485.2 1020.1h0M1485.5 1021.9h0M1485.9 1022.9h0M1486.2 1024.2h0M1486.5 1023.5h0M1486.8 1023.5h0M1487.2 1017.3h0M1487.5 1019.2h0M1487.8 1019.8h0M1488.1 1024.1h0M1488.5 1021.4h0M1488.8 1022.9h0M1489.1 1023.8h0M1489.4 1024h0M1489.7 1022.5h0M1490.1 1021.1h0M1490.4 1024.4h0M1490.7 1019.9h0M1491 1021.3h0M1491.3 1022.3h0M1491.7 1017.2h0M1492 1019h0M1492.3 1023.5h0M1492.6 1018.5h0M1492.9 1017.4h0M1493.2 1023.4h0M1493.6 1022.4h0M1493.9 1018.5h0M1494.2 1018.6h0M1494.5 1023.4h0M1494.8 1019.6h0M1495.1 1019.3h0M1495.4 1017.6h0M1495.7 1021.4h0M1496.1 1020.7h0M1496.4 1017.9h0M1496.7 1020h0M1497 1023.6h0M1497.3 1023.8h0M1497.6 1017.6h0M1497.9 1016.7h0M1498.2 1021.5h0M1498.5 1022.1h0M1498.8 1018.8h0M1499.2 1016.2h0M1499.5 1016.9h0M1499.8 1019.6h0M1500.1 1020.9h0M1500.4 1023.7h0M1500.7 1021.9h0M1501 1018.2h0M1501.3 1017.8h0M1501.6 1024.1h0M1501.9 1016.7h0M1502.2 1016.7h0M1502.5 1019.4h0M1502.8 1017.2h0M1503.1 1016.6h0M1503.4 1021.9h0M1503.7 1023.3h0M1504 1016.7h0M1504.3 1022.3h0M1504.6 1023.3h0M1504.9 1016.3h0M1505.2 1023.3h0M1505.5 1020.1h0M1505.8 1017.8h0M1506.1 1020.2h0M1506.4 1020.2h0M1506.7 1022.2h0M1507 1023.4h0M1507.3 1018.7h0M1507.6 1022.6h0M1507.9 1017.4h0M1508.2 1022.7h0M1508.5 1016.6h0M1508.8 1023.3h0M1509.1 1021.1h0M1509.4 1019.5h0M1509.7 1019.3h0M1510 1020.9h0M1510.2 1022.4h0M1510.5 1023.1h0M1510.8 1022.9h0M1511.1 1023.3h0M1511.4 1021.6h0M1511.7 1019.1h0M1512 1019h0M1512.3 1015.4h0M1512.6 1020.9h0M1512.9 1022h0M1513.2 1023.8h0M1513.4 1020.3h0M1513.7 1021.2h0M1514 1022h0M1514.3 1018.4h0M1514.6 1024h0M1514.9 1018.9h0M1515.2 1020.3h0M1515.5 1023.9h0M1515.7 1020h0M1516 1023h0M1516.3 1017.1h0M1516.6 1016.2h0M1516.9 1022.1h0M1517.2 1021.1h0M1517.5 1015.5h0M1517.7 1019.4h0M1518 1018.1h0M1518.3 1022.9h0M1518.6 1014.3h0M1518.9 1020h0M1519.1 1021h0M1519.4 1023.5h0M1519.7 1015.1h0M1520 1021h0M1520.3 1019.5h0M1520.5 1023.1h0M1520.8 1017.9h0M1521.1 1018.5h0M1521.4 1023.4h0M1521.7 1020.2h0M1521.9 1013.9h0M1522.2 1021.5h0M1522.5 1020h0M1522.8 1015.4h0M1523.1 1017.6h0M1523.3 1021.7h0M1523.6 1021.6h0M1523.9 1017.2h0M1524.2 1014.2h0M1524.4 1019.9h0M1524.7 1021.1h0M1525 1023.2h0M1525.3 1023.1h0M1525.5 1021.4h0M1525.8 1020.8h0M1526.1 1024.3h0M1526.4 1016.8h0M1526.6 1020h0M1526.9 1016.5h0M1527.2 1023.8h0M1527.4 1015.1h0M1527.7 1017h0M1528 1024.1h0M1528.3 1015.7h0M1528.5 1022.8h0M1528.8 1020.9h0M1529.1 1021.7h0M1529.3 1018.3h0M1529.6 1018.3h0M1529.9 1017.7h0M1530.1 1016.8h0M1530.4 1020.6h0M1530.7 1014.2h0M1530.9 1016.8h0M1531.2 1017.8h0M1531.5 1024.3h0M1531.7 1018.7h0M1532 1019.3h0M1532.3 1019.1h0M1532.5 1019.9h0M1532.8 1019.2h0M1533.1 1018.4h0M1533.3 1021.9h0M1533.6 1014h0M1533.9 1017.5h0M1534.1 1011.9h0M1534.4 1016.2h0M1534.7 1015.1h0M1534.9 1014.9h0M1535.2 1020.4h0M1535.4 1013.7h0M1535.7 1021.2h0M1536 1016.1h0M1536.2 1017.2h0M1536.5 1012.2h0M1536.8 1014.5h0M1537 1023.9h0M1537.3 1013.8h0M1537.5 1016.9h0M1537.8 1018h0M1538.1 1012.3h0M1538.3 1024.2h0M1538.6 1019.6h0M1538.8 1011h0M1539.1 1016.3h0M1539.3 1019.9h0M1539.6 1014.5h0M1539.9 1016.4h0M1540.1 1021.2h0M1540.4 1012.8h0M1540.6 1011.4h0M1540.9 1019.6h0M1541.1 1017.7h0M1541.4 1011.1h0M1541.7 1018.1h0M1541.9 1019.9h0M1542.2 1019.9h0M1542.4 1020.8h0M1542.7 1011.7h0M1542.9 1013.2h0M1543.2 1015.8h0M1543.4 1021.4h0M1543.7 1012.9h0M1543.9 1020.7h0M1544.2 1019.4h0M1544.4 1013.1h0M1544.7 1017.6h0M1544.9 1014.1h0M1545.2 1011.5h0M1545.4 1021h0M1545.7 1017.7h0M1546 1021.9h0M1546.2 1014.9h0M1546.5 1014.5h0M1546.7 1019.9h0M1547 1015.5h0M1547.2 1020.8h0M1547.4 1018.7h0M1547.7 1013.1h0M1547.9 1014.3h0M1548.2 1019.3h0M1548.4 1020.6h0M1548.7 1021.7h0M1548.9 1023.3h0M1549.2 1018.6h0M1549.4 1011.9h0M1549.7 1014.1h0M1549.9 1019.1h0M1550.2 1018.1h0M1550.4 1022.7h0M1550.7 1023.5h0M1550.9 1023h0M1551.2 1019.8h0M1551.4 1015.7h0M1551.6 1014.7h0M1551.9 1013.2h0M1552.1 1015.1h0M1552.4 1020.8h0M1552.6 1013.6h0M1552.9 1022.6h0M1553.1 1022.6h0M1553.3 1023.9h0M1553.6 1022.3h0M1553.8 1021.1h0M1554.1 1017.8h0M1554.3 1017.7h0M1554.6 1015.5h0M1554.8 1017.4h0M1555 1009.9h0M1555.3 1009.8h0M1555.5 1012.2h0M1555.8 1009.9h0M1556 1017.9h0M1556.2 1020.4h0M1556.5 1010h0M1556.7 1010.2h0M1557 1015.5h0M1557.2 1022.8h0M1557.4 1018.9h0M1557.7 1020.5h0M1557.9 1017.2h0M1558.1 1014.6h0M1558.4 1017.4h0M1558.6 1015.9h0M1558.9 1017.5h0M1559.1 1017.7h0M1559.3 1009.9h0M1559.6 1018.3h0M1559.8 1010.2h0M1560 1020.4h0M1560.3 1012h0M1560.5 1014.5h0M1560.7 1018.6h0M1561 1016.8h0M1561.2 1023.5h0M1561.4 1017.1h0M1561.7 1019.3h0M1561.9 1012.9h0M1562.1 1017.9h0M1562.4 1020.3h0M1562.6 1009.2h0M1562.8 1009.1h0M1563.1 1012.8h0M1563.3 1018.1h0M1563.5 1012.3h0M1563.8 1014.1h0M1564 1022.8h0M1564.2 1011.2h0M1564.5 1008.9h0M1564.7 1015.9h0M1564.9 1014h0M1565.2 1018.6h0M1565.4 1008.4h0M1565.6 1015h0M1565.8 1019.1h0M1566.1 1022.2h0M1566.3 1011.3h0M1566.5 1016.2h0M1566.8 1019.4h0M1567 1016.2h0M1567.2 1014.2h0M1567.4 1012.4h0M1567.7 1023.3h0M1567.9 1011.3h0M1568.1 1021.5h0M1568.4 1016.8h0M1568.6 1015.8h0M1568.8 1018.2h0M1569 1022.8h0M1569.3 1021.2h0M1569.5 1022.2h0M1569.7 1022.7h0M1569.9 1013.2h0M1570.2 1020h0M1570.4 1013.4h0M1570.6 1023.2h0M1570.8 1008.9h0M1571.1 1016.5h0M1571.3 1017h0M1571.5 1016.7h0M1571.7 1014.3h0M1572 1018.8h0M1572.2 1022h0M1572.4 1013.3h0M1572.6 1018.6h0M1572.9 1015.9h0M1573.1 1018h0M1573.3 1018h0M1573.5 1009.5h0M1573.7 1014.6h0M1574 1023.7h0M1574.2 1016.9h0M1574.4 1015.8h0M1574.6 1013.7h0M1574.9 1019.2h0M1575.1 1021.9h0M1575.3 1017.7h0M1575.5 1018.3h0M1575.7 1010.1h0M1576 1016.9h0M1576.2 1013.5h0M1576.4 1023.7h0M1576.6 1012h0M1576.8 1021.3h0M1577 1017.2h0M1577.3 1023.5h0M1577.5 1013.9h0M1577.7 1010.2h0M1577.9 1008.2h0M1578.1 1012.6h0M1578.4 1015.7h0M1578.6 1008.7h0M1578.8 1009h0M1579 1016.2h0M1579.2 1018.4h0M1579.4 1017h0M1579.7 1012h0M1579.9 1022.3h0M1580.1 1019h0M1580.3 1021.2h0M1580.5 1010.6h0M1580.7 1014.8h0M1580.9 1009.3h0M1581.2 1007.8h0M1581.4 1016.9h0M1581.6 1009.7h0M1581.8 1015.2h0M1582 1023.9h0M1582.2 1020.7h0M1582.4 1009.4h0M1582.7 1016.8h0M1582.9 1017.3h0M1583.1 1022.4h0M1583.3 1009.4h0M1583.5 1018.3h0M1583.7 1020.7h0M1583.9 1022.8h0M1584.2 1020.6h0M1584.4 1008h0M1584.6 1022.9h0M1584.8 1022.7h0M1585 1019.2h0M1585.2 1022.1h0M1585.4 1020.3h0M1585.6 1023.4h0M1585.8 1010.3h0M1586.1 1015.6h0M1586.3 1020.6h0M1586.5 1015h0M1586.7 1013.4h0M1586.9 1010.9h0M1587.1 1010.2h0M1587.3 1007.3h0M1587.5 1014.4h0M1587.7 1012h0M1587.9 1016.4h0M1588.1 1008.4h0M1588.4 1020.6h0M1588.6 1021.4h0M1588.8 1007h0M1589 1008.7h0M1589.2 1012.4h0M1589.4 1019h0M1589.6 1020.5h0M1589.8 1015.2h0M1590 1024h0M1590.2 1012.3h0M1590.4 1007.3h0M1590.6 1009.5h0M1590.8 1007.3h0M1591 1018.4h0M1591.2 1007.6h0M1591.5 1017.8h0M1591.7 1015.1h0M1591.9 1005h0M1592.1 1008.2h0M1592.3 1021.2h0M1592.5 1012.2h0M1592.7 1007.4h0M1592.9 1023.3h0M1593.1 1018.4h0M1593.3 1008.7h0M1593.5 1013.9h0M1593.7 1011h0M1593.9 1008.2h0M1594.1 1008h0M1594.3 1022.8h0M1594.5 1004.3h0M1594.7 1017.8h0M1594.9 1016h0M1595.1 1017.3h0M1595.3 1021.3h0M1595.5 1012.6h0M1595.7 1023.1h0M1595.9 1010.7h0M1596.1 1017.4h0M1596.3 1010.4h0M1596.5 1022.5h0M1596.7 1010h0M1596.9 1010.7h0M1597.1 1010.8h0M1597.3 1011.9h0M1597.5 1021.2h0M1597.7 1022.8h0M1597.9 1014.9h0M1598.1 1023.8h0M1598.3 1016.7h0M1598.5 1014h0M1598.7 1023.6h0M1598.9 1017.7h0M1599.1 1018.4h0M1599.3 1019.9h0M1599.5 1024.4h0M1599.7 1021.7h0M1599.9 1022.5h0M1600.1 1020.7h0M1600.3 1020.4h0M1600.5 1024.5h0M1600.7 1021.4h0M1600.9 1023.1h0M1601.1 1023h0" stroke="#ff0000" stroke-width="9.8" stroke-linecap="round"/>
</g>
<circle cx="357.5" cy="139.5" r="11.3" fill="#000"/>
<circle cx="357.5" cy="213" r="11.3" fill="#ff0000"/>
<g font-family='"Liberation Sans", sans-serif' fill="#000">
<text transform="translate(390 163.8) scale(1 1.035)" font-size="66.9">Coherence between bathymetry and GA</text>
<text transform="translate(390 237.1) scale(1 1.035)" font-size="66.9">Coherence between bathymetry and VGG</text>
<text transform="translate(262.4 1048.9) scale(1 1.035)" font-size="67" text-anchor="end">0.0</text>
<text transform="translate(262.4 860.2) scale(1 1.035)" font-size="67" text-anchor="end">0.2</text>
<text transform="translate(262.4 671.5) scale(1 1.035)" font-size="67" text-anchor="end">0.4</text>
<text transform="translate(262.4 482.7) scale(1 1.035)" font-size="67" text-anchor="end">0.6</text>
<text transform="translate(262.4 294) scale(1 1.035)" font-size="67" text-anchor="end">0.8</text>
<text transform="translate(262.4 105.3) scale(1 1.035)" font-size="67" text-anchor="end">1.0</text>
<text transform="translate(316.2 1137.5) scale(1 1.035)" font-size="67" text-anchor="middle">10<tspan dy="-17.2" font-size="46.9">−</tspan><tspan dy="-4.3" font-size="46.9">3</tspan></text>
<text transform="translate(843.3 1137.5) scale(1 1.035)" font-size="67" text-anchor="middle">10<tspan dy="-17.2" font-size="46.9">−</tspan><tspan dy="-4.3" font-size="46.9">2</tspan></text>
<text transform="translate(1370.3 1137.5) scale(1 1.035)" font-size="67" text-anchor="middle">10<tspan dy="-17.2" font-size="46.9">−</tspan><tspan dy="-4.3" font-size="46.9">1</tspan></text>
<text transform="translate(1897.4 1137.5) scale(1 1.035)" font-size="67" text-anchor="middle">10<tspan dy="-21.5" font-size="46.9">0</tspan></text>
<text transform="translate(0 1247) scale(1 1.05)" font-size="89.5"><tspan x="908">1/</tspan><tspan x="1007.2" text-anchor="middle" font-family='"Liberation Serif", serif' font-size="93.1">λ</tspan><tspan x="1308.5" text-anchor="end"> (1/km)</tspan></text>
<text transform="translate(126.8 553) rotate(-90) scale(1 1.085)" font-size="89.5" text-anchor="middle">Coherence</text>
</g>
</g></svg>
</body></html>
